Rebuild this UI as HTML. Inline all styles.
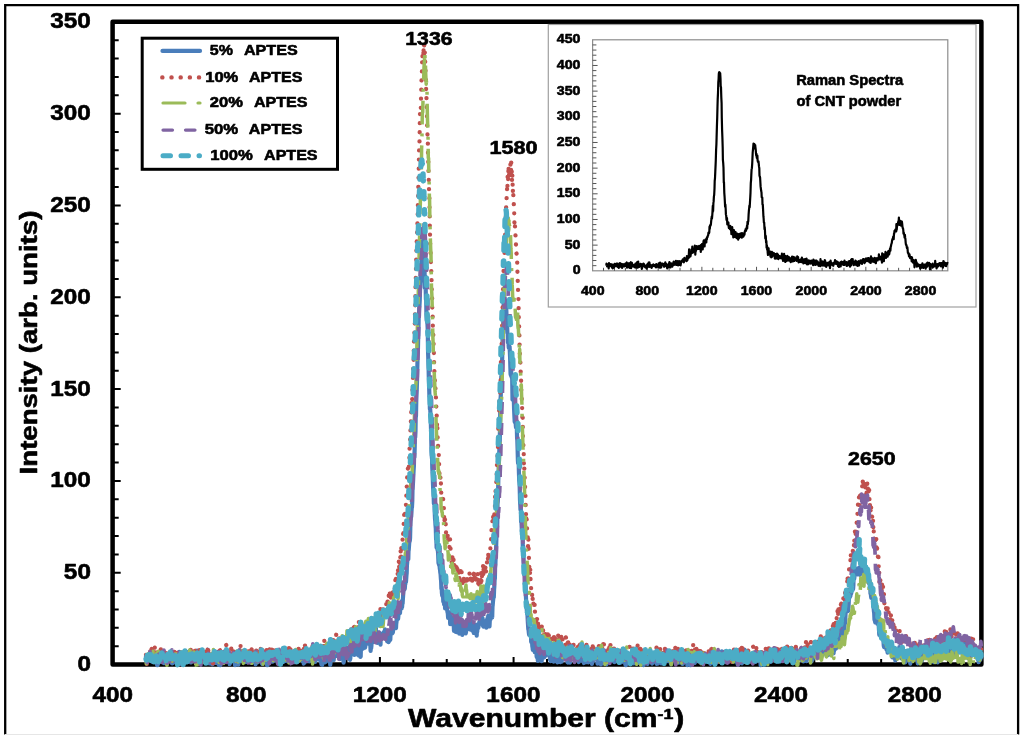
<!DOCTYPE html><html><head><meta charset="utf-8"><style>html,body{margin:0;padding:0;background:#fff;width:1024px;height:739px;overflow:hidden}svg{display:block;filter:blur(0.6px)}text{font-family:"Liberation Sans",sans-serif;fill:#000;stroke:#000;stroke-width:0.6px;stroke-linejoin:round}</style></head><body>
<svg width="1024" height="739" viewBox="0 0 1024 739">
<rect width="1024" height="739" fill="#fff"/>
<path d="M5.2 734.5V5.2H1018.1V734.5" fill="none" stroke="#000" stroke-width="2.3"/>
<line x1="5" y1="734.5" x2="1018" y2="734.5" stroke="#e6e6e6" stroke-width="1"/>
<rect x="112.6" y="21.8" width="868.8" height="642.8" fill="none" stroke="#000" stroke-width="4.5" stroke-linejoin="round"/>
<path d="M112.6 646.23H118.7M112.6 627.87H118.7M112.6 609.50H118.7M112.6 591.14H118.7M112.6 572.77H120.7M112.6 554.41H118.7M112.6 536.04H118.7M112.6 517.67H118.7M112.6 499.31H118.7M112.6 480.94H120.7M112.6 462.58H118.7M112.6 444.21H118.7M112.6 425.85H118.7M112.6 407.48H118.7M112.6 389.11H120.7M112.6 370.75H118.7M112.6 352.38H118.7M112.6 334.02H118.7M112.6 315.65H118.7M112.6 297.29H120.7M112.6 278.92H118.7M112.6 260.55H118.7M112.6 242.19H118.7M112.6 223.82H118.7M112.6 205.46H120.7M112.6 187.09H118.7M112.6 168.73H118.7M112.6 150.36H118.7M112.6 131.99H118.7M112.6 113.63H120.7M112.6 95.26H118.7M112.6 76.90H118.7M112.6 58.53H118.7M112.6 40.17H118.7M146.02 664.6V659.0M179.43 664.6V659.0M212.85 664.6V659.0M246.26 664.6V657.0M279.68 664.6V659.0M313.09 664.6V659.0M346.51 664.6V659.0M379.92 664.6V657.0M413.34 664.6V659.0M446.75 664.6V659.0M480.17 664.6V659.0M513.58 664.6V657.0M547.00 664.6V659.0M580.42 664.6V659.0M613.83 664.6V659.0M647.25 664.6V657.0M680.66 664.6V659.0M714.08 664.6V659.0M747.49 664.6V659.0M780.91 664.6V657.0M814.32 664.6V659.0M847.74 664.6V659.0M881.15 664.6V659.0M914.57 664.6V657.0M947.98 664.6V659.0" stroke="#000" stroke-width="2.0" fill="none"/>
<g fill="none" stroke-linejoin="round">
<path d="M146.0 656.3 l 0.3 0.9 0.3 -0.4 0.2 2.8 0.3 -4 0.3 1.8 0.2 -1.2 0.3 -0.6 0.3 -0.5 0.2 0.2 0.3 1.1 0.3 2.1 0.2 0.3 0.3 -2.2 0.3 1.1 0.2 -2.2 0.3 1.5 0.3 1.5 0.2 1.6 0.3 -1.7 0.3 0.6 0.2 -1.6 0.3 -2.2 0.3 1.4 0.2 5.2 0.3 -0.7 0.3 -1.2 0.2 2.1 0.3 -1.4 0.3 -1 0.2 -4.5 0.3 3.2 0.3 -2.1 0.2 -3.3 0.3 2.9 0.3 -0.5 0.2 1.5 0.3 0.7 0.3 -2.4 0.2 4 0.3 2.5 0.3 2 0.2 1.6 0.3 0 0.3 -1.3 0.2 0.1 0.3 -1.2 0.3 -2.9 0.2 -2 0.3 -1.2 0.3 2 0.2 2.9 0.3 -0.3 0.3 0.2 0.3 -0.8 0.2 0.5 0.3 -3.2 0.3 0.5 0.2 2.4 0.3 -3.8 0.3 0 0.2 -1 0.3 2.5 0.3 1.6 0.2 0.3 0.3 2.1 0.3 -2.9 0.2 0.5 0.3 3 0.3 -6.3 0.2 -1.9 0.3 3.9 0.3 1.1 0.2 -3.2 0.3 2 0.3 -0.9 0.2 1.1 0.3 0.3 0.3 -3.3 0.2 0.3 0.3 -1.8 0.3 0.8 0.2 1.2 0.3 0.2 0.3 -1.1 0.2 0 0.3 3.2 0.3 -1.8 0.2 -1.2 0.3 -0.2 0.3 -0.2 0.2 -0.8 0.3 4.6 0.3 1.6 0.2 -3.3 0.3 5.2 0.3 -1.1 0.2 -1.6 0.3 3.3 0.3 -2.2 0.2 2.1 0.3 -2.7 0.3 2 0.2 -2.8 0.3 -1.1 0.3 1.1 0.3 1.3 0.2 -0.3 0.3 -6.2 0.3 3.8 0.2 0.2 0.3 -1.7 0.3 1.8 0.2 -1.1 0.3 0.3 0.3 -0.2 0.2 3.7 0.3 -2.7 0.3 3.4 0.2 -2.1 0.3 -0.6 0.3 2.1 0.2 0.9 0.3 -5.6 0.3 -4.8 0.2 5.7 0.3 2.8 0.3 0.2 0.2 2.5 0.3 0.6 0.3 -0.7 0.2 -2.8 0.3 -1.9 0.3 -0.1 0.2 1.4 0.3 -1 0.3 -1.6 0.2 2.6 0.3 -0.3 0.3 1.9 0.2 2.5 0.3 -3.1 0.3 1.8 0.2 -2 0.3 -3 0.3 2.3 0.2 0 0.3 -0.1 0.3 -0.9 0.2 3.3 0.3 -5.3 0.3 1.9 0.2 -4.1 0.3 -0.2 0.3 0.2 0.3 -2.3 0.2 4.9 0.3 1.2 0.3 3.4 0.2 -4.7 0.3 -1.2 0.3 2.1 0.2 -0.3 0.3 -1.6 0.3 2.9 0.2 -0.2 0.3 -1.9 0.3 4.9 0.2 0.7 0.3 -2.7 0.3 1.1 0.2 -3.9 0.3 0.3 0.3 1.8 0.2 0.4 0.3 -4.5 0.3 4.8 0.2 0.2 0.3 -4.7 0.3 1.9 0.2 1.7 0.3 0.7 0.3 1 0.2 -3.8 0.3 0.9 0.3 2.8 0.2 -0.3 0.3 -1.8 0.3 2.2 0.2 -5.5 0.3 0.1 0.3 -4.4 0.2 1 0.3 7.3 0.3 0.6 0.2 2.4 0.3 -1.8 0.3 2.9 0.2 -2 0.3 1.9 0.3 -5.4 0.2 -2.3 0.3 4.1 0.3 -3.3 0.2 1.7 0.3 -0.7 0.3 3.7 0.3 -6.5 0.2 5.9 0.3 -1.5 0.3 -1.6 0.2 0.2 0.3 2.1 0.3 -0.9 0.2 -1.3 0.3 2.9 0.3 -1.1 0.2 -2.1 0.3 -0.2 0.3 -1.2 0.2 0.2 0.3 -0.8 0.3 0.7 0.2 1.7 0.3 -0.8 0.3 -2.2 0.2 -1.4 0.3 -1 0.3 -0.5 0.2 0.2 0.3 -0.6 0.3 -1.3 0.2 0.9 0.3 4.3 0.3 -1.3 0.2 3.9 0.3 6 0.3 -3.8 0.2 2.2 0.3 -1 0.3 -2.2 0.2 0.3 0.3 -1.4 0.3 2 0.2 -4.1 0.3 2.6 0.3 2.7 0.2 -1.5 0.3 5.1 0.3 -1.4 0.2 -1.7 0.3 -0 0.3 0.9 0.2 0.1 0.3 -2.5 0.3 2.8 0.3 0.3 0.2 -3.3 0.3 0 0.3 1.6 0.2 1.3 0.3 -3.3 0.3 3.7 0.2 -2.7 0.3 -1.8 0.3 2.6 0.2 -2.3 0.3 -1.3 0.3 1.2 0.2 2.3 0.3 -0.9 0.3 -0.7 0.2 5.7 0.3 -11.7 0.3 5.1 0.2 2.5 0.3 -1.9 0.3 4.7 0.2 1.5 0.3 -2.2 0.3 -3.8 0.2 0.7 0.3 -2.1 0.3 -1.7 0.2 3.9 0.3 -0.7 0.3 0.7 0.2 -0.7 0.3 1.3 0.3 -2.9 0.2 1.9 0.3 -3.2 0.3 2.9 0.2 -1.1 0.3 0.2 0.3 -2.6 0.2 -1.3 0.3 -2 0.3 -0 0.2 3.2 0.3 1.5 0.3 2.6 0.2 1.5 0.3 -3.2 0.3 -0.9 0.2 2.4 0.3 -0.4 0.3 -1.2 0.3 1.9 0.2 -0.9 0.3 1.9 0.3 -5.4 0.2 5.3 0.3 3.4 0.3 -3.6 0.2 -2.1 0.3 2.3 0.3 -1.5 0.2 0.5 0.3 -4.6 0.3 2.4 0.2 2 0.3 -1.6 0.3 -2.1 0.2 1.8 0.3 1.9 0.3 -1.5 0.2 -0.4 0.3 1.3 0.3 -0.1 0.2 0.6 0.3 1.6 0.3 1.3 0.2 2.8 0.3 -4.4 0.3 -0.8 0.2 -1 0.3 -3.3 0.3 6.4 0.2 -4.9 0.3 2 0.3 -1.4 0.2 4.5 0.3 -0.8 0.3 1.9 0.2 1.3 0.3 -1.3 0.3 -1.4 0.2 -3 0.3 -4.9 0.3 0.4 0.2 4.2 0.3 -2.3 0.3 2 0.2 -1.6 0.3 1.6 0.3 -0.3 0.2 1.9 0.3 -2.3 0.3 3.4 0.3 -1.6 0.2 -3.8 0.3 3.2 0.3 -0.3 0.2 -4.5 0.3 -1 0.3 1.3 0.2 1.8 0.3 -2.5 0.3 2.6 0.2 -1.9 0.3 6.9 0.3 0.4 0.2 -5.9 0.3 6.4 0.3 -1.7 0.2 -3.1 0.3 0.5 0.3 2.8 0.2 -2.9 0.3 1.6 0.3 -2.5 0.2 1.3 0.3 1.2 0.3 2.4 0.2 -0.5 0.3 0 0.3 -4.4 0.2 1.2 0.3 3.8 0.3 -3.1 0.2 -0.5 0.3 2.1 0.3 0.3 0.2 0.8 0.3 1.3 0.3 -3.4 0.2 -1 0.3 1.6 0.3 -5.9 0.2 3.3 0.3 1.5 0.3 0.4 0.2 -6.6 0.3 5.7 0.3 -2.9 0.2 -3.5 0.3 2.3 0.3 1.9 0.3 5.2 0.2 2.9 0.3 -3.1 0.3 1.7 0.2 -2.6 0.3 0.5 0.3 -1.8 0.2 -1.1 0.3 4.5 0.3 -4.8 0.2 3.1 0.3 -2 0.3 0.6 0.2 0 0.3 -1.5 0.3 -2.5 0.2 2.4 0.3 -4.2 0.3 2.9 0.2 -0.4 0.3 2.8 0.3 -2.3 0.2 5 0.3 -4 0.3 5.2 0.2 0.8 0.3 0.4 0.3 -3 0.2 0.4 0.3 0.5 0.3 -0.4 0.2 -0.6 0.3 1.4 0.3 -2 0.2 -1 0.3 -1.1 0.3 0.1 0.2 0.9 0.3 -0.6 0.3 -1 0.2 -1.4 0.3 4.2 0.3 2 0.2 0.5 0.3 2.4 0.3 0 0.2 -0.7 0.3 -1.7 0.3 -4.2 0.2 0.1 0.3 -4.7 0.3 -1.5 0.3 3.1 0.2 -2.1 0.3 1.2 0.3 3.3 0.2 -1 0.3 2.1 0.3 0.6 0.2 1.7 0.3 -0.7 0.3 -1.6 0.2 2.6 0.3 -2.1 0.3 2.1 0.2 -5.3 0.3 0.8 0.3 -0.3 0.2 -1.5 0.3 0.4 0.3 4 0.2 0.9 0.3 -4 0.3 0 0.2 0.3 0.3 -1.5 0.3 2.6 0.2 0.4 0.3 0.3 0.3 0.5 0.2 0 0.3 0.3 0.3 -2.4 0.2 -3.9 0.3 3.1 0.3 -0.3 0.2 0.7 0.3 -1.9 0.3 7.9 0.2 -5.5 0.3 0.5 0.3 3.4 0.2 -5 0.3 5.8 0.3 1.7 0.2 -0.2 0.3 -6.1 0.3 3.3 0.2 -5.1 0.3 -0.4 0.3 -0.3 0.3 4.6 0.2 -1.8 0.3 -2.9 0.3 5.6 0.2 1.3 0.3 -0.8 0.3 -2.4 0.2 -3.1 0.3 -1.6 0.3 2.6 0.2 -4.6 0.3 1.4 0.3 7.7 0.2 -7.5 0.3 -3.1 0.3 4.5 0.2 -0.9 0.3 -2.9 0.3 5.7 0.2 3.4 0.3 0.8 0.3 -1.2 0.2 1.8 0.3 -2.7 0.3 -0.3 0.2 2 0.3 -3.2 0.3 -5.5 0.2 3 0.3 0.5 0.3 2.2 0.2 -1.5 0.3 5.5 0.3 -5.5 0.2 -1 0.3 0.6 0.3 2.4 0.2 1.4 0.3 -1.9 0.3 1.9 0.2 0.8 0.3 -3.4 0.3 1.5 0.2 3.8 0.3 -5.8 0.3 -1.8 0.2 3.4 0.3 0.1 0.3 2.2 0.2 -2.1 0.3 1.6 0.3 -3.9 0.3 -0.2 0.2 -1.5 0.3 3.9 0.3 -0.5 0.2 -0.1 0.3 -3.1 0.3 3.4 0.2 3.4 0.3 -3.1 0.3 -2.5 0.2 1.7 0.3 -3.2 0.3 1.1 0.2 2.6 0.3 1 0.3 -0.9 0.2 0.9 0.3 0.1 0.3 -0.8 0.2 -0.8 0.3 -1 0.3 2.2 0.2 -0.2 0.3 -2.7 0.3 3.2 0.2 2.8 0.3 -3.4 0.3 -1 0.2 6.5 0.3 -2.5 0.3 0.5 0.2 1.1 0.3 -2 0.3 -2 0.2 0.4 0.3 -5.8 0.3 2.2 0.2 2.7 0.3 1.6 0.3 -3.2 0.2 0.7 0.3 2.8 0.3 0.9 0.2 -7.1 0.3 3.1 0.3 -1.7 0.2 2.4 0.3 -0.8 0.3 -3.1 0.2 7.7 0.3 -2.3 0.3 1.8 0.3 -2.7 0.2 -0.6 0.3 -0.3 0.3 -1.3 0.2 -0.7 0.3 1.4 0.3 -3.6 0.2 1.4 0.3 3 0.3 0.6 0.2 -0.2 0.3 -1.2 0.3 0.6 0.2 -7.6 0.3 2.1 0.3 3.4 0.2 0.9 0.3 -0.8 0.3 6.6 0.2 -2.2 0.3 -2.9 0.3 3.6 0.2 -1.5 0.3 0.5 0.3 -3 0.2 1 0.3 -2.5 0.3 -1.3 0.2 0.3 0.3 -3.2 0.3 2.6 0.2 1.8 0.3 2 0.3 1.4 0.2 0.5 0.3 -3.6 0.3 3.1 0.2 1 0.3 1.4 0.3 -2.3 0.2 2.2 0.3 0.6 0.3 2.9 0.2 -3.1 0.3 0.3 0.3 3.3 0.2 -6.6 0.3 2.1 0.3 -3.1 0.3 -0.4 0.2 5.2 0.3 -1 0.3 -3.4 0.2 2.5 0.3 -2.1 0.3 2.5 0.2 1.8 0.3 -5 0.3 1.7 0.2 2.6 0.3 -7.1 0.3 -0.7 0.2 1.7 0.3 -2.4 0.3 4.2 0.2 -0.9 0.3 3.6 0.3 -2.9 0.2 2.1 0.3 -6 0.3 1.4 0.2 -1.9 0.3 2.7 0.3 2.1 0.2 -2.2 0.3 9.5 0.3 -2.1 0.2 -2 0.3 -0.7 0.3 -2.9 0.2 -1.7 0.3 -2.8 0.3 0.8 0.2 -1.6 0.3 2.6 0.3 -1.3 0.2 1.4 0.3 -2 0.3 7.4 0.2 -3 0.3 -4.4 0.3 -2.6 0.2 4.9 0.3 -2.1 0.3 1.9 0.2 -7.4 0.3 5.6 0.3 -6.3 0.2 3.1 0.3 1.1 0.3 3.9 0.3 -0.6 0.2 1.8 0.3 -2.9 0.3 1.9 0.2 -1.7 0.3 -0.9 0.3 -0.8 0.2 5 0.3 -1.7 0.3 0.6 0.2 2.7 0.3 0.9 0.3 -2.1 0.2 -1.9 0.3 3.6 0.3 -2 0.2 -0.5 0.3 1.5 0.3 -1.5 0.2 0.6 0.3 -3.7 0.3 3.4 0.2 3 0.3 -1.6 0.3 4.8 0.2 -2.5 0.3 -0.7 0.3 -2.5 0.2 -1.5 0.3 -6.8 0.3 1.7 0.2 -0.1 0.3 0.2 0.3 4.3 0.2 0.5 0.3 -1.3 0.3 -3 0.2 -0.5 0.3 1.7 0.3 -0.5 0.2 1 0.3 -2.8 0.3 2.6 0.2 -5.1 0.3 2.3 0.3 1.5 0.2 2.3 0.3 2.3 0.3 4.1 0.3 -1.2 0.2 -4.9 0.3 -0.3 0.3 -7.1 0.2 3.7 0.3 0.4 0.3 -3.1 0.2 0.9 0.3 3.2 0.3 1.8 0.2 -3 0.3 3 0.3 -4.9 0.2 5.3 0.3 -3.5 0.3 4.7 0.2 -4.8 0.3 -1.1 0.3 4.1 0.2 -3.7 0.3 3.1 0.3 0.9 0.2 1.1 0.3 -5.7 0.3 1.6 0.2 -4.2 0.3 4.9 0.3 -3.2 0.2 -1.1 0.3 1 0.3 1.2 0.2 4.1 0.3 2.4 0.3 -0.6 0.2 -9.1 0.3 1.8 0.3 4.2 0.2 -0.5 0.3 5.7 0.3 -0.5 0.2 -8.4 0.3 -2.6 0.3 -4.8 0.2 1.2 0.3 -2.1 0.3 -0.4 0.2 7 0.3 0 0.3 2.4 0.2 -2.6 0.3 -1.5 0.3 -0.3 0.3 2.3 0.2 -1.6 0.3 1.2 0.3 1.5 0.2 -0.8 0.3 -2.5 0.3 -0.1 0.2 -2.5 0.3 -2.6 0.3 0.8 0.2 -2.5 0.3 -0.8 0.3 3.2 0.2 -1.3 0.3 1 0.3 4 0.2 -2 0.3 -5.6 0.3 2.1 0.2 3.2 0.3 -2.4 0.3 0.5 0.2 4.4 0.3 0.7 0.3 6.4 0.2 -7 0.3 4.7 0.3 -2.7 0.2 -3 0.3 -4.1 0.3 1.8 0.2 1.8 0.3 -5.7 0.3 5.2 0.2 -4.8 0.3 0.1 0.3 -0.7 0.2 -1.9 0.3 1.1 0.3 2.3 0.2 -1 0.3 0.2 0.3 -1.2 0.2 5.4 0.3 -13.1 0.3 5.6 0.2 0.7 0.3 2.1 0.3 1.2 0.2 0.9 0.3 4 0.3 -2.5 0.3 0.6 0.2 -5.5 0.3 -1.1 0.3 2.3 0.2 -4.2 0.3 2.7 0.3 -0.1 0.2 4.1 0.3 1 0.3 4.6 0.2 -5.8 0.3 -4.1 0.3 4.6 0.2 -1.7 0.3 -2.4 0.3 1.2 0.2 0.7 0.3 -2.6 0.3 -1.4 0.2 1 0.3 3.7 0.3 -5.7 0.2 3.3 0.3 2.4 0.3 -3.3 0.2 -0.7 0.3 -4.5 0.3 3.3 0.2 -0.7 0.3 5.5 0.3 -3.2 0.2 2.3 0.3 0.2 0.3 0.1 0.2 4.3 0.3 -4.7 0.3 -1 0.2 6.3 0.3 -3.3 0.3 3.7 0.2 -3.9 0.3 -1.3 0.3 3.9 0.2 -7.2 0.3 4.7 0.3 1.5 0.2 -0.2 0.3 -6.6 0.3 0.3 0.3 -3.9 0.2 1.9 0.3 -7.5 0.3 5.5 0.2 3.9 0.3 -5.5 0.3 4.8 0.2 -1.2 0.3 -5.7 0.3 1.3 0.2 -2.2 0.3 0.9 0.3 0.5 0.2 -2.4 0.3 0.8 0.3 0.7 0.2 1.8 0.3 -0.7 0.3 1.7 0.2 -3.8 0.3 -2.3 0.3 -5.7 0.2 3.8 0.3 -3.3 0.3 -1.3 0.2 2.3 0.3 0.9 0.3 -3.1 0.2 -2.8 0.3 -0.8 0.3 -0.3 0.2 -3.8 0.3 3.4 0.3 1.8 0.2 -3.5 0.3 -2.6 0.3 1.7 0.2 -4.7 0.3 0.1 0.3 4.3 0.2 -7.3 0.3 6 0.3 -6.6 0.2 3.2 0.3 -4.9 0.3 -4.3 0.2 -3.2 0.3 -1.5 0.3 -0.2 0.2 -2.1 0.3 1.9 0.3 -0.9 0.3 -4.1 0.2 -0.4 0.3 -4.4 0.3 2.7 0.2 -2 0.3 -4.3 0.3 -3 0.2 -7.1 0.3 -3.6 0.3 -6.4 0.2 4.1 0.3 -1.3 0.3 0.5 0.2 -7.6 0.3 -2.4 0.3 -4.7 0.2 -2.8 0.3 -0.1 0.3 -1.6 0.2 -2.5 0.3 -13.6 0.3 -5.6 0.2 -1 0.3 -0.7 0.3 -5 0.2 -3.4 0.3 -1.2 0.3 -6 0.2 -10.7 0.3 -4.4 0.3 -5 0.2 -5.1 0.3 -5.2 0.3 -4.4 0.2 -10.9 0.3 2.1 0.3 -9.3 0.2 -10.6 0.3 0 0.3 -6.4 0.2 -13.5 0.3 -1.7 0.3 -16.1 0.2 -4.5 0.3 -7.3 0.3 -9.5 0.2 -8.8 0.3 -13.4 0.3 -4.5 0.3 -15.1 0.2 -1.4 0.3 -19.9 0.3 0.7 0.2 -7.2 0.3 -3.6 0.3 -6.1 0.2 -8 0.3 -6.3 0.3 -9.8 0.2 -4.6 0.3 -6.6 0.3 0.8 0.2 -5.2 0.3 -12.7 0.3 0.5 0.2 -0.4 0.3 -3.7 0.3 -2.9 0.2 13.8 0.3 2.1 0.3 3 0.2 6.1 0.3 16.1 0.3 -9 0.2 15.6 0.3 -12.4 0.3 6.1 0.2 1 0.3 16.8 0.3 -1.7 0.2 16.4 0.3 5.6 0.3 1.4 0.2 0.7 0.3 2.7 0.3 6.7 0.2 18.7 0.3 9.1 0.3 8.8 0.2 10.2 0.3 6.3 0.3 12 0.2 0.3 0.3 12.4 0.3 0 0.2 3.1 0.3 4.9 0.3 12.1 0.2 6.7 0.3 15 0.3 5.7 0.3 2.9 0.2 8.9 0.3 5.3 0.3 8.2 0.2 5.1 0.3 4.6 0.3 5.5 0.2 6.5 0.3 -2.4 0.3 4.2 0.2 5.4 0.3 7.8 0.3 2.7 0.2 3.8 0.3 3.5 0.3 11 0.2 -2.6 0.3 10.7 0.3 -0.3 0.2 -2.8 0.3 2.4 0.3 3.7 0.2 0 0.3 4.7 0.3 7.6 0.2 0.5 0.3 1.1 0.3 0.8 0.2 -0.7 0.3 3.9 0.3 1.6 0.2 2.3 0.3 1.8 0.3 4.8 0.2 1.3 0.3 8.5 0.3 -2.2 0.2 6.1 0.3 2.8 0.3 -0.5 0.2 -4.4 0.3 4.3 0.3 6.6 0.2 -4.2 0.3 1.3 0.3 5.8 0.2 -1.3 0.3 -1.1 0.3 0.6 0.2 5.8 0.3 -1.1 0.3 -1.6 0.3 -1.1 0.2 0.4 0.3 3.4 0.3 -5.5 0.2 4.8 0.3 3.1 0.3 1.7 0.2 0.6 0.3 4.6 0.3 -2.5 0.2 -0.7 0.3 -0.5 0.3 -1.7 0.2 2.1 0.3 -1.1 0.3 5.2 0.2 5.5 0.3 -4.9 0.3 0.4 0.2 1.3 0.3 -3.8 0.3 0.8 0.2 1.5 0.3 0.8 0.3 -0.5 0.2 0.5 0.3 -1.4 0.3 5.8 0.2 0.8 0.3 -1.4 0.3 6.9 0.2 -2.6 0.3 -8.7 0.3 8.5 0.2 -2.5 0.3 -0.1 0.3 0.8 0.2 5.6 0.3 -2 0.3 -3.2 0.2 5.5 0.3 -2.7 0.3 -2.7 0.2 -3.6 0.3 4.3 0.3 -5.2 0.2 0.3 0.3 3.9 0.3 2.1 0.3 -4.9 0.2 9.9 0.3 -2 0.3 -2.5 0.2 1.6 0.3 1 0.3 -4.8 0.2 0.2 0.3 -2.9 0.3 -4.4 0.2 11 0.3 -5.8 0.3 10 0.2 -6.9 0.3 2.1 0.3 -5.5 0.2 4 0.3 0.4 0.3 -2.7 0.2 -1.5 0.3 -3 0.3 2.1 0.2 -1.2 0.3 1.8 0.3 2.9 0.2 5.9 0.3 -1.1 0.3 -3.7 0.2 -4.5 0.3 2.2 0.3 -4.6 0.2 -0.7 0.3 1.7 0.3 -0.4 0.2 -1.4 0.3 3.4 0.3 3.4 0.2 -0.5 0.3 1.3 0.3 0 0.2 0.8 0.3 -5 0.3 0.7 0.2 1.3 0.3 -2.8 0.3 -1.5 0.2 -1.1 0.3 7.6 0.3 1.7 0.2 0.2 0.3 -2.6 0.3 1.7 0.3 -2.6 0.2 -0.4 0.3 4.1 0.3 2.4 0.2 -3.2 0.3 0.6 0.3 -5.3 0.2 0.4 0.3 4.3 0.3 -5 0.2 5.7 0.3 1.3 0.3 -0.8 0.2 -0.2 0.3 4.8 0.3 -7.3 0.2 3.7 0.3 -5.2 0.3 -2.5 0.2 0.4 0.3 3.2 0.3 -1.9 0.2 -0.7 0.3 -1.6 0.3 -2 0.2 -0.5 0.3 2.3 0.3 -3.2 0.2 1.7 0.3 -2 0.3 -0.2 0.2 2.9 0.3 -3.7 0.3 -2.4 0.2 3.1 0.3 -0.5 0.3 -1 0.2 4.6 0.3 3.3 0.3 0.4 0.2 -1.5 0.3 -3.3 0.3 -0.3 0.2 1 0.3 -0.8 0.3 0.9 0.2 -1.1 0.3 4.2 0.3 0.3 0.3 -0.8 0.2 2.6 0.3 -7.4 0.3 5.1 0.2 -3.5 0.3 -3.5 0.3 0.1 0.2 2.5 0.3 -5.1 0.3 3.1 0.2 4.1 0.3 -4.2 0.3 4.5 0.2 3.1 0.3 -6.1 0.3 -1.9 0.2 -2.3 0.3 3 0.3 -2.5 0.2 0.9 0.3 -8 0.3 5.4 0.2 -2.6 0.3 5 0.3 -10.8 0.2 -1.4 0.3 -3.7 0.3 -2.9 0.2 -2.4 0.3 1.1 0.3 -7.7 0.2 -2.6 0.3 -6.8 0.3 -2.1 0.2 -10.8 0.3 -2.7 0.3 -10.1 0.2 0.3 0.3 -9.2 0.3 -10.4 0.2 -1.6 0.3 -5.8 0.3 -4.4 0.2 -18.8 0.3 -3.2 0.3 -8.8 0.2 -11.6 0.3 -9.4 0.3 -10.3 0.2 -5.2 0.3 -7.4 0.3 -4 0.3 -16.7 0.2 -13.8 0.3 -14.1 0.3 -4.8 0.2 -9.8 0.3 -9.1 0.3 -0.2 0.2 -14.5 0.3 0.3 0.3 -11.5 0.2 -11.5 0.3 -3.7 0.3 -12.5 0.2 -13.3 0.3 -5.6 0.3 -2.1 0.2 -8.7 0.3 7.6 0.3 1.6 0.2 -2.8 0.3 2.9 0.3 1.6 0.2 4.3 0.3 -4.4 0.3 8.7 0.2 4.2 0.3 8.6 0.3 2.4 0.2 5.1 0.3 0.7 0.3 9 0.2 -7.5 0.3 8.3 0.3 4.5 0.2 -2.4 0.3 1.2 0.3 -0.1 0.2 4.1 0.3 6.9 0.3 10.6 0.2 5.9 0.3 1.3 0.3 -4.2 0.2 5.1 0.3 0.6 0.3 1.2 0.2 -0.5 0.3 22 0.3 -6.6 0.2 5.4 0.3 -1.6 0.3 0.9 0.3 4.5 0.2 7 0.3 6.6 0.3 6.2 0.2 -7.9 0.3 5.6 0.3 3.4 0.2 0.6 0.3 3.5 0.3 -0.1 0.2 -4.1 0.3 3.6 0.3 12.3 0.2 0.3 0.3 9.5 0.3 11.7 0.2 2.8 0.3 0.5 0.3 -0.3 0.2 8.3 0.3 8.5 0.3 2.9 0.2 4.2 0.3 12.9 0.3 5.3 0.2 4.5 0.3 -2.6 0.3 14.6 0.2 -3.2 0.3 6.3 0.3 6.2 0.2 0.7 0.3 -5.1 0.3 15.1 0.2 9.7 0.3 -5.4 0.3 10.7 0.2 6.4 0.3 3.7 0.3 -0.2 0.2 4.5 0.3 3.8 0.3 -0.5 0.2 1.4 0.3 11.4 0.3 8.5 0.2 4.2 0.3 4.3 0.3 4.3 0.3 3.9 0.2 1.1 0.3 1.6 0.3 5.9 0.2 3.1 0.3 4.7 0.3 1 0.2 2.3 0.3 2.3 0.3 -4.6 0.2 2.7 0.3 -3.6 0.3 4.3 0.2 -1 0.3 1.2 0.3 2.1 0.2 6.2 0.3 -3.9 0.3 -0.3 0.2 2.3 0.3 6.1 0.3 1.6 0.2 2.1 0.3 -3.6 0.3 -2.1 0.2 1.8 0.3 0.9 0.3 -0.3 0.2 -1.1 0.3 6.7 0.3 -5.7 0.2 -3.8 0.3 2.4 0.3 3.2 0.2 2.1 0.3 -1.1 0.3 6.7 0.2 1.1 0.3 -2.1 0.3 2.9 0.2 -0.8 0.3 3.7 0.3 -5.4 0.2 -3 0.3 -1.2 0.3 -0.2 0.2 -2.4 0.3 6 0.3 0.8 0.2 -0.6 0.3 0.4 0.3 0.6 0.3 0.1 0.2 -0.4 0.3 3.8 0.3 1.9 0.2 -5 0.3 -0.9 0.3 1.7 0.2 -3.2 0.3 -0.8 0.3 -1.7 0.2 0.2 0.3 3.5 0.3 2.5 0.2 -2.3 0.3 0 0.3 -4.4 0.2 2.6 0.3 2.2 0.3 -1.1 0.2 1.1 0.3 -2.5 0.3 0.8 0.2 -2.2 0.3 0.2 0.3 -2.1 0.2 -1.4 0.3 1.6 0.3 -0.7 0.2 4 0.3 -2.6 0.3 -2.3 0.2 -2.7 0.3 6.6 0.3 0.7 0.2 5.7 0.3 1.2 0.3 -2.4 0.2 3.6 0.3 -1.2 0.3 -2.3 0.2 1.2 0.3 -1 0.3 -2.6 0.2 0.6 0.3 2.8 0.3 -0.1 0.2 2.3 0.3 -1.3 0.3 2.1 0.3 -4.8 0.2 2.4 0.3 1.2 0.3 -2.9 0.2 -2.1 0.3 4.4 0.3 -2.6 0.2 -6.6 0.3 1.8 0.3 5.4 0.2 -1.9 0.3 2.7 0.3 -1.2 0.2 5 0.3 -4.2 0.3 -2.7 0.2 4.8 0.3 -5.5 0.3 2.2 0.2 0.5 0.3 1.5 0.3 0.1 0.2 1.3 0.3 0.2 0.3 1.5 0.2 -2 0.3 -1.7 0.3 -0.8 0.2 0.6 0.3 3.4 0.3 -5.6 0.2 0 0.3 2.4 0.3 -2 0.2 -0.5 0.3 1.8 0.3 0.8 0.2 -2.1 0.3 -7.5 0.3 2.9 0.2 5 0.3 -2.3 0.3 -2 0.2 0 0.3 1.9 0.3 1.4 0.2 -3.7 0.3 1.6 0.3 5.4 0.2 -1.4 0.3 -0.4 0.3 5 0.3 0.3 0.2 -3.2 0.3 -1.6 0.3 -1.8 0.2 2.7 0.3 -0.4 0.3 0.6 0.2 1.1 0.3 2.6 0.3 -3 0.2 -3.8 0.3 4.2 0.3 -3.1 0.2 1.9 0.3 0 0.3 0 0.2 0.5 0.3 -7.4 0.3 0.7 0.2 2.6 0.3 0.5 0.3 -3.5 0.2 3.8 0.3 0.1 0.3 1.2 0.2 -1.1 0.3 0.4 0.3 2 0.2 1.6 0.3 -3.6 0.3 0.7 0.2 1.2 0.3 0.2 0.3 -1.7 0.2 0.3 0.3 0.8 0.3 0.1 0.2 -2.6 0.3 3.4 0.3 -2.4 0.2 2.2 0.3 3.3 0.3 -3.2 0.2 -1.4 0.3 -3 0.3 2 0.2 -1.9 0.3 4.5 0.3 -0.1 0.3 1.6 0.2 -4.6 0.3 -1.3 0.3 1.7 0.2 -6.8 0.3 3.3 0.3 1.2 0.2 1.8 0.3 -1.7 0.3 0.8 0.2 6.5 0.3 1.5 0.3 -1.8 0.2 1.1 0.3 -1.8 0.3 -3.8 0.2 -0.3 0.3 -0.6 0.3 5.4 0.2 -2.6 0.3 3.5 0.3 -2 0.2 -4.3 0.3 0.7 0.3 -2 0.2 2.3 0.3 1.5 0.3 2.1 0.2 1.9 0.3 -1.1 0.3 -0.2 0.2 -3.5 0.3 -0.1 0.3 -1.1 0.2 2.7 0.3 0.4 0.3 -2.7 0.2 0.2 0.3 1.3 0.3 -1 0.2 0 0.3 6.8 0.3 -2.1 0.2 0.6 0.3 -5.5 0.3 4.2 0.2 -3.9 0.3 -2.6 0.3 0.3 0.2 1.3 0.3 -1.5 0.3 -0.3 0.3 -0.5 0.2 -0.9 0.3 1.7 0.3 0.5 0.2 0.5 0.3 -2.8 0.3 5.1 0.2 -0.9 0.3 0.7 0.3 0.5 0.2 5.2 0.3 -3.2 0.3 -0.7 0.2 0.9 0.3 -2.2 0.3 2.3 0.2 -1.2 0.3 2.2 0.3 -0.3 0.2 -3.2 0.3 -2.2 0.3 5.2 0.2 3 0.3 0.2 0.3 -1.1 0.2 -4.3 0.3 -2.1 0.3 2.3 0.2 -3.7 0.3 -0.3 0.3 1.3 0.2 3.3 0.3 3.5 0.3 -2.9 0.2 1.5 0.3 -3.3 0.3 -1.4 0.2 3.3 0.3 -1 0.3 -0.5 0.2 -1.8 0.3 -0.2 0.3 1.5 0.2 3.6 0.3 2.2 0.3 -2.5 0.2 1.2 0.3 -1.9 0.3 -5.1 0.2 1 0.3 2 0.3 -0.4 0.3 -1.2 0.2 3.5 0.3 -2 0.3 0.1 0.2 1.7 0.3 0.7 0.3 -1.4 0.2 0 0.3 -2.9 0.3 1.4 0.2 -1.1 0.3 -0.8 0.3 1.5 0.2 -5.1 0.3 5.7 0.3 -1.5 0.2 2.4 0.3 -0.5 0.3 -0.2 0.2 0.9 0.3 2.3 0.3 0 0.2 -1.5 0.3 -0.7 0.3 -2.8 0.2 0.6 0.3 -1.3 0.3 -1.5 0.2 0.6 0.3 0.4 0.3 -2.2 0.2 -1.5 0.3 -0.7 0.3 3.6 0.2 5.5 0.3 -1.3 0.3 -1.8 0.2 4.7 0.3 -3 0.3 3.1 0.2 -3.8 0.3 4.4 0.3 -4.1 0.2 0.3 0.3 0.4 0.3 0.8 0.2 -2.9 0.3 4.2 0.3 0.6 0.3 -6.6 0.2 -1.6 0.3 3.4 0.3 -5.6 0.2 2.1 0.3 0.6 0.3 0.7 0.2 -3.8 0.3 2.9 0.3 3.2 0.2 0.5 0.3 2.7 0.3 0.8 0.2 2.9 0.3 -0.5 0.3 1.3 0.2 -2.8 0.3 -1.5 0.3 -2 0.2 -1.4 0.3 1 0.3 -2.4 0.2 2.8 0.3 0.9 0.3 0.5 0.2 -0.2 0.3 3.1 0.3 -2.8 0.2 1.6 0.3 -2 0.3 0.4 0.2 -3.1 0.3 -1.8 0.3 0.4 0.2 4.5 0.3 -3.1 0.3 0.5 0.2 1.1 0.3 3.9 0.3 -3.2 0.2 2 0.3 -2.9 0.3 -0.4 0.2 -2.4 0.3 3.9 0.3 3.7 0.2 -6.3 0.3 1.9 0.3 2.8 0.2 -2.9 0.3 -1.2 0.3 5 0.3 -1.8 0.2 1.2 0.3 -1.8 0.3 0.5 0.2 1.3 0.3 1 0.3 -2.2 0.2 1.2 0.3 -1.4 0.3 0.7 0.2 -2.7 0.3 1.5 0.3 -0.7 0.2 3.5 0.3 -3.8 0.3 1.4 0.2 -1.6 0.3 0.8 0.3 0.8 0.2 -1.3 0.3 2.4 0.3 -4.4 0.2 -0.4 0.3 2.9 0.3 -3.6 0.2 1.8 0.3 -2.6 0.3 4 0.2 1.5 0.3 4.2 0.3 -2.8 0.2 -1.6 0.3 1.1 0.3 0.5 0.2 -2.1 0.3 1.1 0.3 -3.7 0.2 1.1 0.3 -2.4 0.3 0.3 0.2 1.9 0.3 -0.5 0.3 5.6 0.2 -2.4 0.3 2.5 0.3 -7.1 0.2 -0.6 0.3 -1.3 0.3 0 0.3 2.5 0.2 -0.7 0.3 1.3 0.3 3.4 0.2 -2.3 0.3 -1.5 0.3 1 0.2 -1.6 0.3 0.9 0.3 3.9 0.2 0.5 0.3 0.5 0.3 0.8 0.2 -0.5 0.3 -7.1 0.3 -3.1 0.2 7.1 0.3 -5.2 0.3 -0.3 0.2 2.8 0.3 -0.9 0.3 -2.4 0.2 1.4 0.3 0.9 0.3 4.9 0.2 0 0.3 -1.7 0.3 2 0.2 1.5 0.3 0.9 0.3 -1.3 0.2 1 0.3 -3.4 0.3 3.6 0.2 -8.1 0.3 2.8 0.3 0.2 0.2 -3.8 0.3 4 0.3 -2.2 0.2 3.4 0.3 -1.5 0.3 0.7 0.2 -2.9 0.3 3.8 0.3 1 0.2 -0.2 0.3 2.5 0.3 -2.6 0.2 -1.2 0.3 0.1 0.3 -4 0.3 -0.5 0.2 5.4 0.3 -3.9 0.3 -1.7 0.2 1.6 0.3 3 0.3 -0.3 0.2 0.2 0.3 1.6 0.3 -2.6 0.2 0.3 0.3 0.3 0.3 0.7 0.2 -0.9 0.3 -4 0.3 3.8 0.2 -3 0.3 1.5 0.3 1.2 0.2 2.8 0.3 -3.3 0.3 3 0.2 -3.3 0.3 -1.5 0.3 2.4 0.2 -1.3 0.3 0 0.3 0.3 0.2 -0.6 0.3 2 0.3 4.4 0.2 0.8 0.3 -0.2 0.3 -3.7 0.2 -0.1 0.3 -6.3 0.3 3.3 0.2 0.6 0.3 1.6 0.3 -4.1 0.2 2.1 0.3 -3.1 0.3 0.9 0.2 -0.5 0.3 2.7 0.3 -4.6 0.2 0.6 0.3 0 0.3 1.7 0.2 1.9 0.3 3.1 0.3 -1.9 0.3 2.6 0.2 1.9 0.3 -0.7 0.3 -3.9 0.2 2.3 0.3 -4.5 0.3 -0.3 0.2 4 0.3 3.2 0.3 -3 0.2 -0.3 0.3 -1.6 0.3 -3.4 0.2 -0.5 0.3 -1 0.3 2.6 0.2 -0.3 0.3 4.8 0.3 -2.5 0.2 1.4 0.3 1.8 0.3 3.2 0.2 -0.9 0.3 0.8 0.3 -7.9 0.2 4.9 0.3 -3.5 0.3 -2.6 0.2 2.7 0.3 1 0.3 3.8 0.2 -1.6 0.3 -4.5 0.3 4.8 0.2 0.3 0.3 0 0.3 -0.3 0.2 1.5 0.3 -1.4 0.3 2.3 0.2 1.8 0.3 -3.3 0.3 -4.3 0.2 -1.5 0.3 -1 0.3 1.7 0.2 -1.3 0.3 3.7 0.3 0.2 0.3 2 0.2 -0.2 0.3 2.9 0.3 1.2 0.2 -5.4 0.3 4.9 0.3 -4.5 0.2 -1.1 0.3 -2.3 0.3 1.4 0.2 2.2 0.3 -2.6 0.3 0.6 0.2 0.3 0.3 -1.6 0.3 0.7 0.2 1.5 0.3 0.1 0.3 3.3 0.2 0.1 0.3 -3.5 0.3 -0.6 0.2 -3.1 0.3 0.5 0.3 2.3 0.2 -2.4 0.3 -1.3 0.3 4.1 0.2 -4.9 0.3 -1.4 0.3 1.5 0.2 -1.3 0.3 -0.2 0.3 2.7 0.2 1.1 0.3 2.9 0.3 -2.7 0.2 3.2 0.3 1.7 0.3 -2 0.2 -2 0.3 3.2 0.3 -1.4 0.2 -2.3 0.3 -0.9 0.3 2.4 0.2 -1.5 0.3 -3.2 0.3 2.2 0.2 -0.2 0.3 0.2 0.3 0.2 0.3 5.7 0.2 -5.5 0.3 6 0.3 -0.2 0.2 -0.5 0.3 -2.9 0.3 2.5 0.2 -0.1 0.3 -4.8 0.3 4.2 0.2 -1.6 0.3 -0.1 0.3 0 0.2 1.9 0.3 -1.6 0.3 -0.2 0.2 2.1 0.3 -2.2 0.3 0.5 0.2 -0.6 0.3 -0.3 0.3 2.1 0.2 -4.3 0.3 3.3 0.3 3 0.2 1.3 0.3 -7.4 0.3 5.6 0.2 -0.8 0.3 -1.1 0.3 0.6 0.2 0.2 0.3 -2.6 0.3 -6.7 0.2 0.7 0.3 -2.5 0.3 2.1 0.2 4.7 0.3 1.3 0.3 2.2 0.2 1.9 0.3 -3.6 0.3 -2.5 0.2 4 0.3 -2.5 0.3 -2.7 0.2 3.1 0.3 -3.9 0.3 1.8 0.3 2.2 0.2 -0.6 0.3 1.4 0.3 2.6 0.2 0.7 0.3 -2 0.3 -1.8 0.2 -1 0.3 3.3 0.3 -2.3 0.2 0.7 0.3 0.1 0.3 -1.8 0.2 -0.5 0.3 2.4 0.3 -4.7 0.2 -1 0.3 3.5 0.3 -3.7 0.2 -1.8 0.3 6.5 0.3 -5.2 0.2 0.8 0.3 -1.8 0.3 1.5 0.2 1.2 0.3 1.4 0.3 2.5 0.2 -1.2 0.3 -0.3 0.3 3.2 0.2 -2.7 0.3 2.1 0.3 0.6 0.2 -1.6 0.3 -2.3 0.3 1.9 0.2 -6 0.3 2.8 0.3 3.2 0.2 2.6 0.3 -0.3 0.3 -2.8 0.2 -0.3 0.3 2.7 0.3 -0.4 0.2 -3.7 0.3 -1 0.3 4.7 0.2 -5 0.3 0.7 0.3 2.3 0.3 1.2 0.2 0.8 0.3 -1.4 0.3 2.3 0.2 -5.3 0.3 0.5 0.3 1.9 0.2 4.3 0.3 -1 0.3 -1.5 0.2 1.6 0.3 -3.3 0.3 0 0.2 3 0.3 -4.3 0.3 -1.6 0.2 2.8 0.3 3.8 0.3 -4.7 0.2 0.6 0.3 0.4 0.3 2.7 0.2 -4.7 0.3 5.9 0.3 -1.6 0.2 -2.7 0.3 6.7 0.3 0.8 0.2 -2.3 0.3 -3.3 0.3 -0.9 0.2 1.2 0.3 -4.6 0.3 -0.1 0.2 -1.3 0.3 2.4 0.3 4.1 0.2 -2.2 0.3 1.7 0.3 -1.4 0.2 1.3 0.3 3.9 0.3 0.1 0.2 -3.8 0.3 -1.3 0.3 2.7 0.2 -4.2 0.3 -0.9 0.3 -1.9 0.2 -1.4 0.3 -2.1 0.3 -0.3 0.3 -0.4 0.2 6.8 0.3 2.8 0.3 -0.8 0.2 1.6 0.3 1.4 0.3 -3.2 0.2 -1.3 0.3 -1.7 0.3 -2.3 0.2 0.2 0.3 0.5 0.3 1.3 0.2 2.7 0.3 0.7 0.3 -2.7 0.2 -0.4 0.3 0.5 0.3 1.8 0.2 -2.8 0.3 2.1 0.3 1 0.2 1.6 0.3 -3.1 0.3 2.9 0.2 0 0.3 -0.9 0.3 -1.7 0.2 1.1 0.3 0.5 0.3 1.3 0.2 1.9 0.3 0.8 0.3 -4 0.2 -3.6 0.3 4.3 0.3 -5.3 0.2 2.4 0.3 -1.8 0.3 -1.5 0.2 7.1 0.3 2.1 0.3 -4.8 0.2 -1 0.3 2.3 0.3 -3.5 0.2 3.8 0.3 -3.4 0.3 1 0.3 0.9 0.2 0.6 0.3 -1.9 0.3 -0.5 0.2 2.7 0.3 -1.2 0.3 -0.4 0.2 0.5 0.3 -0.4 0.3 1.6 0.2 0.1 0.3 6.8 0.3 -0.7 0.2 -0.1 0.3 -2.8 0.3 -0.1 0.2 -3.5 0.3 -4.7 0.3 2.8 0.2 0.8 0.3 0.1 0.3 -0.3 0.2 3.1 0.3 0.5 0.3 -1.3 0.2 -0.2 0.3 -1.4 0.3 -0.2 0.2 -1.8 0.3 0.3 0.3 0.2 0.2 -1.9 0.3 5.5 0.3 -1 0.2 3.3 0.3 -6.1 0.3 3.1 0.2 -2.2 0.3 -5.6 0.3 0.7 0.2 2.6 0.3 -3 0.3 2 0.2 0.1 0.3 1.5 0.3 0.6 0.2 0 0.3 2.5 0.3 -0.2 0.2 4 0.3 -1.9 0.3 0.8 0.3 -1.5 0.2 -2.3 0.3 -1.8 0.3 -0.1 0.2 3.1 0.3 0.1 0.3 -0.2 0.2 -0.6 0.3 2.3 0.3 -1.7 0.2 1.4 0.3 -4.5 0.3 2.6 0.2 1.4 0.3 1.5 0.3 -0.4 0.2 0.5 0.3 -2.7 0.3 3.3 0.2 -4.3 0.3 2.7 0.3 -1 0.2 3.2 0.3 -1.7 0.3 -4.5 0.2 2.4 0.3 -1.5 0.3 -2.9 0.2 -0.1 0.3 0.3 0.3 2.2 0.2 -2.5 0.3 1.3 0.3 6.6 0.2 -5.6 0.3 4.2 0.3 -0.1 0.2 1.1 0.3 -3.3 0.3 1.4 0.2 -2.2 0.3 1.4 0.3 -4.9 0.2 4.5 0.3 -1.3 0.3 1.3 0.2 -0.1 0.3 1.7 0.3 -5.9 0.3 -1 0.2 0.5 0.3 -0.3 0.3 -0.4 0.2 2.2 0.3 0.9 0.3 -1.7 0.2 1.8 0.3 1.7 0.3 -0.9 0.2 -1.7 0.3 -1.8 0.3 -4.9 0.2 4.1 0.3 1 0.3 0.3 0.2 -1.7 0.3 3.7 0.3 2.9 0.2 -0.6 0.3 0 0.3 1.4 0.2 0.7 0.3 -4.9 0.3 1.6 0.2 -0.3 0.3 0.4 0.3 3.3 0.2 -1.4 0.3 0 0.3 1.4 0.2 -5.6 0.3 -3.4 0.3 5.5 0.2 3.2 0.3 -0.4 0.3 2.7 0.2 -0.2 0.3 -2.9 0.3 -5.6 0.2 1.1 0.3 1.7 0.3 -1.2 0.2 0.2 0.3 1.3 0.3 -0.5 0.2 -1.2 0.3 -1.3 0.3 0.9 0.2 0.2 0.3 -1.7 0.3 3.3 0.3 1.4 0.2 -0.7 0.3 -0.6 0.3 0.8 0.2 0.9 0.3 -4.6 0.3 2.7 0.2 -3.7 0.3 -1.2 0.3 4 0.2 0.4 0.3 4.7 0.3 -1.3 0.2 -0.4 0.3 1.1 0.3 -3.7 0.2 2.4 0.3 -3 0.3 6.3 0.2 -4.4 0.3 1.4 0.3 -5 0.2 -4 0.3 2.1 0.3 4.1 0.2 -1.5 0.3 2.5 0.3 -1.6 0.2 0.8 0.3 1.5 0.3 3.9 0.2 -1.8 0.3 -2.8 0.3 -0.7 0.2 -2.2 0.3 0.4 0.3 -0.1 0.2 -3.9 0.3 3.1 0.3 -1.9 0.2 5.3 0.3 -2.4 0.3 -2.7 0.2 -0.5 0.3 1.2 0.3 4.1 0.2 -3 0.3 5.3 0.3 2.9 0.2 -2.7 0.3 1.3 0.3 -4 0.3 1.5 0.2 1.8 0.3 -0.9 0.3 -1.7 0.2 -0.9 0.3 -1.9 0.3 -2.2 0.2 -3.1 0.3 2.5 0.3 -1.3 0.2 1.7 0.3 0.9 0.3 3.2 0.2 -2.7 0.3 0.2 0.3 -0.3 0.2 -3.4 0.3 1.6 0.3 1.2 0.2 -1.3 0.3 3 0.3 1 0.2 -3.9 0.3 2.2 0.3 -2.5 0.2 -5.3 0.3 1.9 0.3 4.2 0.2 -0.2 0.3 0.1 0.3 3 0.2 1.6 0.3 -3.7 0.3 1.5 0.2 2.7 0.3 -2.8 0.3 -5.3 0.2 2.8 0.3 -0.5 0.3 3.8 0.2 -1.9 0.3 -2.8 0.3 1.9 0.2 -2.6 0.3 1.6 0.3 -0.9 0.2 -1.6 0.3 2.4 0.3 0.6 0.3 -0.4 0.2 -1 0.3 1.4 0.3 -1.2 0.2 1.5 0.3 -0.5 0.3 -0.6 0.2 4.8 0.3 -4.3 0.3 2.8 0.2 -1.1 0.3 2.2 0.3 -3.7 0.2 -2.1 0.3 2.2 0.3 -1.2 0.2 2.5 0.3 -2.5 0.3 -0.4 0.2 -1.8 0.3 2.1 0.3 -4.2 0.2 -1.5 0.3 3.8 0.3 -1.3 0.2 -0.6 0.3 4.5 0.3 0.4 0.2 -0.4 0.3 0.3 0.3 2.5 0.2 -3.7 0.3 1.1 0.3 -4.4 0.2 -5.1 0.3 4 0.3 -0.9 0.2 -0.7 0.3 2.5 0.3 2.4 0.2 -2.4 0.3 1.3 0.3 -2.5 0.2 -6.9 0.3 0.4 0.3 -2.7 0.2 1.7 0.3 0.3 0.3 1.2 0.2 -1 0.3 -2.7 0.3 2.5 0.3 -0.6 0.2 0.3 0.3 -0.5 0.3 5.8 0.2 -6.6 0.3 0.1 0.3 -6.7 0.2 -0.8 0.3 -0.3 0.3 -0.3 0.2 1.2 0.3 1.9 0.3 2.4 0.2 -7.3 0.3 0.6 0.3 7.4 0.2 -5.1 0.3 -2.3 0.3 3.7 0.2 -5.6 0.3 -1.5 0.3 -0.8 0.2 -3.1 0.3 -7.4 0.3 -2.4 0.2 0.6 0.3 -5.6 0.3 2.7 0.2 -6.4 0.3 5.6 0.3 -0.2 0.2 4.3 0.3 0.1 0.3 -2 0.2 -1.4 0.3 -6.4 0.3 -3.9 0.2 1 0.3 -3.1 0.3 -2 0.2 2.5 0.3 0.4 0.3 -3.7 0.2 1.5 0.3 -0.6 0.3 -4.1 0.2 -3.9 0.3 0.9 0.3 1.4 0.3 2.3 0.2 -7.6 0.3 6.8 0.3 -4.2 0.2 -7.8 0.3 1.8 0.3 -0.3 0.2 -1.5 0.3 -7 0.3 2.4 0.2 -4.5 0.3 1.1 0.3 5.4 0.2 -5.2 0.3 4.7 0.3 -1.1 0.2 0.1 0.3 -0.2 0.3 -2.9 0.2 4.5 0.3 -5.2 0.3 1.4 0.2 1.3 0.3 -3.9 0.3 1 0.2 -1.4 0.3 5.9 0.3 0.7 0.2 0.4 0.3 -6.9 0.3 2.7 0.2 -4.2 0.3 -3.1 0.3 -0.4 0.2 0 0.3 2.5 0.3 0.4 0.2 3.7 0.3 2.6 0.3 -5.5 0.2 -0.9 0.3 4.6 0.3 -6.9 0.2 4.5 0.3 -5.1 0.3 1.6 0.2 1.5 0.3 -0.7 0.3 6.2 0.2 -2.2 0.3 2.7 0.3 0.1 0.3 3.1 0.2 2.7 0.3 2.5 0.3 -3.9 0.2 5.4 0.3 -3.9 0.3 1.3 0.2 2.3 0.3 0 0.3 1.7 0.2 0.4 0.3 0.4 0.3 -3.3 0.2 6.3 0.3 -1.4 0.3 8.2 0.2 -4.6 0.3 6.8 0.3 1.9 0.2 -4.4 0.3 2.8 0.3 -1.7 0.2 2.4 0.3 0.9 0.3 1.3 0.2 2.8 0.3 5 0.3 1.3 0.2 3 0.3 1.9 0.3 6.8 0.2 -4.8 0.3 6.1 0.3 1.2 0.2 -7.2 0.3 -4.1 0.3 -0.8 0.2 1.9 0.3 -3.2 0.3 8 0.2 3 0.3 3.9 0.3 -1.7 0.2 0.9 0.3 -2.4 0.3 2.9 0.2 1.5 0.3 5 0.3 4.7 0.2 -7.2 0.3 1.7 0.3 0 0.3 -0.6 0.2 0.8 0.3 1 0.3 7.5 0.2 -6.8 0.3 4.7 0.3 -2.5 0.2 -1.5 0.3 4.8 0.3 0.6 0.2 -1.7 0.3 3.9 0.3 3 0.2 3.3 0.3 1.2 0.3 -2.9 0.2 -1.3 0.3 3.7 0.3 -0.8 0.2 -3.9 0.3 0.9 0.3 -0.3 0.2 1.8 0.3 5.5 0.3 -4 0.2 3.2 0.3 -3.4 0.3 7.2 0.2 -3.3 0.3 1.1 0.3 -1 0.2 -3.8 0.3 1 0.3 2.3 0.2 -2.2 0.3 3.3 0.3 -1.4 0.2 -2.9 0.3 1 0.3 -1.2 0.2 4 0.3 -2.2 0.3 0.9 0.2 3.3 0.3 2.2 0.3 3.6 0.2 -3.5 0.3 -0.3 0.3 -2.8 0.3 2.2 0.2 -1.4 0.3 1.8 0.3 3.5 0.2 0.3 0.3 0.8 0.3 0.3 0.2 2.2 0.3 -3.9 0.3 1.6 0.2 1.3 0.3 -1.1 0.3 -6.3 0.2 1.8 0.3 -1.4 0.3 0.3 0.2 -1.2 0.3 2.6 0.3 0.8 0.2 -3.1 0.3 -2.1 0.3 1.3 0.2 -4.1 0.3 5.6 0.3 0.5 0.2 -1.1 0.3 -1 0.3 2.9 0.2 -1.1 0.3 5.7 0.3 -4 0.2 0.2 0.3 0.5 0.3 1.7 0.2 -1.3 0.3 -1.1 0.3 0.2 0.2 1 0.3 4.5 0.3 -4 0.2 0.3 0.3 0.4 0.3 -2.5 0.2 4.1 0.3 4 0.3 -1.8 0.2 -3.3 0.3 1.4 0.3 -1.5 0.2 -0.5 0.3 -1.9 0.3 0.8 0.3 4.3 0.2 -1.6 0.3 -1.5 0.3 0.2 0.2 -3.3 0.3 -2.7 0.3 1.8 0.2 1.4 0.3 -0.7 0.3 0.7 0.2 5.1 0.3 4.2 0.3 -5.4 0.2 3.8 0.3 -4.6 0.3 -2.2 0.2 -2.4 0.3 1.4 0.3 -3.8 0.2 5.6 0.3 -0.7 0.3 -3 0.2 3.3 0.3 -2 0.3 1.9 0.2 2.6 0.3 -3.6 0.3 -1 0.2 -3.4 0.3 3.6 0.3 -2.2 0.2 -0.1 0.3 4.2 0.3 3.1 0.2 -1.4 0.3 -1.4 0.3 -1.5 0.2 3.6 0.3 -1.5 0.3 6.8 0.2 -2.6 0.3 -5.3 0.3 -1.7 0.2 0.6 0.3 -1.5 0.3 0 0.2 0.5 0.3 3.7 0.3 0 0.3 2 0.2 0.5 0.3 -0.1 0.3 1.3 0.2 -0.5 0.3 -0.8 0.3 1 0.2 -4.5 0.3 0 0.3 0.8 0.2 -3.5 0.3 0.7 0.3 1.6 0.2 1.2 0.3 -1.1 0.3 -1.1 0.2 -2.1 0.3 1.1 0.3 2.5 0.2 -5.3 0.3 1.2 0.3 2.7 0.2 3 0.3 -3.9 0.3 -0.6 0.2 0.5 0.3 -1.4 0.3 1.7 0.2 -2.4 0.3 2.3 0.3 -2.4 0.2 2.2 0.3 -0.2 0.3 -3.3 0.2 6.5 0.3 2.3 0.3 0.1 0.2 1.3 0.3 -3.1 0.3 4 0.2 -6.7 0.3 -3.9 0.3 3.9 0.2 -0.5 0.3 2.6 0.3 1 0.2 2.5 0.3 -3 0.3 0.8 0.2 -2.9 0.3 4.1 0.3 3.1 0.3 -1.9 0.2 1.4 0.3 -7.4 0.3 -2.5 0.2 -0.1 0.3 0.7 0.3 2.2 0.2 0.3 0.3 -0.5 0.3 6.7 0.2 -1.7 0.3 -2.4 0.3 5.4 0.2 -2.8 0.3 -1.3 0.3 1 0.2 -4 0.3 -2.6 0.3 -2.9 0.2 5.7 0.3 -7.4 0.3 5.2 0.2 -0.8 0.3 3.2 0.3 -0.9 0.2 -1 0.3 -6.2 0.3 0.6 0.2 4.1 0.3 -1.5 0.3 -1.8 0.2 0.4 0.3 0 0.3 0.9 0.2 2.2 0.3 -4.7 0.3 -0.3 0.2 -1.5 0.3 1 0.3 -3.4 0.2 2.6 0.3 -1.2 0.3 3.5 0.2 4.6 0.3 4.3 0.3 -5.3 0.2 -0.8 0.3 0.4 0.3 2.8 0.2 -5.3 0.3 5.8 0.3 -1.9 0.3 -3 0.2 -1.9 0.3 0.3 0.3 1.2 0.2 0.5 0.3 -3.2 0.3 3.4 0.2 -1.1 0.3 4.4 0.3 -1.4 0.2 0.6 0.3 -3.1 0.3 6.5 0.2 -2.9 0.3 -2.3 0.3 4.3 0.2 0.2 0.3 -3 0.3 2.4 0.2 -2.6 0.3 -2 0.3 2.3 0.2 -3 0.3 5.6 0.3 -2.1 0.2 -2.1 0.3 -0.3 0.3 -3 0.2 3.9 0.3 -1.2 0.3 0.4 0.2 -4.1 0.3 -1 0.3 -2.6 0.2 1.3 0.3 2.6 0.3 2.4 0.2 -2.2 0.3 3.2 0.3 -0.2 0.2 0.5 0.3 -2.1 0.3 1.2 0.2 1.9 0.3 0.6 0.3 -4.6 0.2 4 0.3 -0.5 0.3 -5.8 0.3 1.9 0.2 -2.2 0.3 2.3 0.3 -4.2 0.2 6.2 0.3 1.2 0.3 1.3 0.2 -3.1 0.3 0.2 0.3 1.4 0.2 -6.1 0.3 -2 0.3 5.9 0.2 -5.6 0.3 1.9 0.3 3.8 0.2 -0.5 0.3 4.9 0.3 -4.5 0.2 2 0.3 -0.6 0.3 -3.2 0.2 8.1 0.3 -3.6 0.3 3.7 0.2 0.6 0.3 3 0.3 -4.6 0.2 1 0.3 -5 0.3 -1 0.2 3.5 0.3 1 0.3 -5.3 0.2 3.1 0.3 0 0.3 1.8 0.2 -4.3 0.3 2.7 0.3 -3.1 0.2 2.1 0.3 3.5 0.3 -0.1 0.2 -3.4 0.3 4.3 0.3 -2.9 0.2 -1.4 0.3 1.8 0.3 -0.7 0.2 3 0.3 -5.5 0.3 -1.1 0.3 2.9 0.2 4.6 0.3 -2.3 0.3 1.7 0.2 1.8 0.3 1.1 0.3 -3.4 0.2 -1.2 0.3 1 0.3 -1.5 0.2 2.2 0.3 5.8 0.3 0 0.2 1.8 0.3 -2.3 0.3 -0.8 0.2 -5.5 0.3 3.5 0.3 2 0.2 0.6 0.3 -2.3 0.3 -0.2 0.2 -2.4 0.3 1.4" stroke="#4a7ebb" stroke-width="4.2" stroke-linecap="round"/>
<path d="M146.0 654.9 l 0.3 3.7 0.3 0.9 0.2 5.7 0.3 -6.5 0.3 -3.2 0.2 2.8 0.3 -2.9 0.3 1.3 0.2 -0.1 0.3 -1.5 0.3 0.1 0.2 -0.8 0.3 -3.5 0.3 -0.2 0.2 1.6 0.3 -1.2 0.3 2.9 0.2 -1 0.3 -0.3 0.3 -4 0.2 0.3 0.3 0.1 0.3 1.1 0.2 3.6 0.3 -2 0.3 -1.1 0.2 6.7 0.3 1.3 0.3 -2.4 0.2 -3.6 0.3 -1.2 0.3 -3.4 0.2 -0.8 0.3 2.7 0.3 -1.4 0.2 3.3 0.3 -0.3 0.3 5.6 0.2 -2.6 0.3 -0.4 0.3 -2 0.2 5.3 0.3 -0.4 0.3 1.3 0.2 -1.7 0.3 -0.1 0.3 -2.7 0.2 2.4 0.3 -5.1 0.3 -1.8 0.2 4.6 0.3 -4.9 0.3 0.3 0.3 2.2 0.2 -1.6 0.3 -2.4 0.3 5 0.2 4.4 0.3 -2.4 0.3 0.1 0.2 3 0.3 -1.5 0.3 -4.4 0.2 -0.5 0.3 2.5 0.3 -1.6 0.2 1.7 0.3 -4.5 0.3 3.5 0.2 -3.4 0.3 6.2 0.3 0.5 0.2 -2.8 0.3 0.2 0.3 1.9 0.2 -0.2 0.3 -2.4 0.3 3.8 0.2 1.3 0.3 2.5 0.3 -1.7 0.2 -1.1 0.3 1.2 0.3 1 0.2 -2.1 0.3 3.8 0.3 -4.4 0.2 -2.6 0.3 0.7 0.3 -5.8 0.2 1.3 0.3 -0.7 0.3 1.8 0.2 0.5 0.3 3.9 0.3 2.5 0.2 2 0.3 0.5 0.3 0.4 0.2 -0.4 0.3 -4.4 0.3 -2.8 0.2 -3 0.3 -0.3 0.3 -2.4 0.3 2.8 0.2 2 0.3 -1.5 0.3 3.8 0.2 -4.8 0.3 3.9 0.3 -2 0.2 4.3 0.3 -4.5 0.3 2.6 0.2 2.7 0.3 -5.3 0.3 -0.7 0.2 0.2 0.3 0.5 0.3 -1.8 0.2 1 0.3 -1.3 0.3 1.1 0.2 1.7 0.3 1.5 0.3 -1.8 0.2 2.7 0.3 -1.7 0.3 -1 0.2 -3 0.3 0.3 0.3 3 0.2 -0.1 0.3 1.3 0.3 -4.8 0.2 4.6 0.3 -1.7 0.3 -0.2 0.2 -0.3 0.3 -2.5 0.3 -1 0.2 0.3 0.3 5.7 0.3 -2.9 0.2 3.1 0.3 -3.4 0.3 2.7 0.2 -2.6 0.3 3.9 0.3 -2.6 0.2 1.4 0.3 0.9 0.3 -3.1 0.3 1.7 0.2 -0.1 0.3 -1 0.3 -0.5 0.2 1.2 0.3 4.2 0.3 -0.3 0.2 -3 0.3 3.7 0.3 -4.3 0.2 0.4 0.3 -1.6 0.3 -2.8 0.2 2.3 0.3 0.7 0.3 1.5 0.2 -2 0.3 4 0.3 0.9 0.2 -4.3 0.3 0.4 0.3 5.7 0.2 -4.5 0.3 2.8 0.3 -5.9 0.2 0.7 0.3 4 0.3 -1.4 0.2 -4.1 0.3 3.7 0.3 -2.8 0.2 -0.2 0.3 3.1 0.3 1.7 0.2 3.3 0.3 -6.2 0.3 -2.2 0.2 0.8 0.3 0.2 0.3 -0.2 0.2 1.7 0.3 5.2 0.3 2.4 0.2 -7.7 0.3 5.2 0.3 -8.7 0.2 -0.7 0.3 0.8 0.3 5.2 0.2 -5.4 0.3 4.6 0.3 3.2 0.3 -0.3 0.2 -4.8 0.3 0.2 0.3 1.8 0.2 -1.2 0.3 -1.6 0.3 0.1 0.2 -1.7 0.3 1.6 0.3 5.8 0.2 -4.8 0.3 1.2 0.3 7 0.2 -9.3 0.3 3.1 0.3 2.7 0.2 -0.6 0.3 -5.9 0.3 3.6 0.2 -0.5 0.3 3.7 0.3 -6.2 0.2 0.2 0.3 -0.3 0.3 -5.4 0.2 1 0.3 4.1 0.3 5.4 0.2 -2 0.3 5.1 0.3 -2.9 0.2 1.5 0.3 0.8 0.3 0.3 0.2 -4.1 0.3 -1.3 0.3 0.7 0.2 -1.2 0.3 2.3 0.3 0.6 0.2 1.4 0.3 0.5 0.3 1.7 0.2 2.5 0.3 1.3 0.3 1.9 0.2 -1.8 0.3 -2.3 0.3 -2 0.3 -5.3 0.2 0.4 0.3 1.3 0.3 -2.5 0.2 -0.7 0.3 0.7 0.3 -3.6 0.2 2.6 0.3 1.3 0.3 1.6 0.2 -1.5 0.3 2.9 0.3 0.3 0.2 -1.9 0.3 -0.3 0.3 0.2 0.2 1.1 0.3 -1.9 0.3 -1.2 0.2 1.2 0.3 -3.8 0.3 0.6 0.2 -3.6 0.3 4.8 0.3 4.1 0.2 -3.1 0.3 -1.1 0.3 4.7 0.2 -4 0.3 -0.5 0.3 4.7 0.2 -1.5 0.3 -0 0.3 -2.4 0.2 0.3 0.3 -2.2 0.3 5.4 0.2 -1 0.3 1.5 0.3 -0.9 0.2 -1 0.3 2.9 0.3 -4.9 0.2 -5.5 0.3 -2.4 0.3 0.9 0.2 -0.7 0.3 2.6 0.3 -0.7 0.2 3.4 0.3 4.7 0.3 -1.1 0.3 4.3 0.2 -7.4 0.3 2.2 0.3 3.6 0.2 -0.1 0.3 -3.1 0.3 2.8 0.2 -0.8 0.3 -2.6 0.3 -0.3 0.2 -2.3 0.3 -2.2 0.3 7.3 0.2 -1.1 0.3 -0.9 0.3 3.3 0.2 -2.4 0.3 1.5 0.3 -7.2 0.2 5.3 0.3 -2.7 0.3 -1.6 0.2 2.6 0.3 3.7 0.3 -3.3 0.2 -0 0.3 3 0.3 0.7 0.2 0.8 0.3 -1 0.3 -1 0.2 0.5 0.3 -5.3 0.3 5.6 0.2 1.6 0.3 -0.8 0.3 -5.6 0.2 4.7 0.3 -3.4 0.3 2 0.2 -2.4 0.3 2.2 0.3 1.2 0.2 -0.9 0.3 -5.3 0.3 2.3 0.2 -6.9 0.3 -0.7 0.3 2.9 0.2 4.3 0.3 1.4 0.3 4.9 0.3 -1.9 0.2 -0.2 0.3 -3.9 0.3 1.4 0.2 -0.5 0.3 -0.3 0.3 4.9 0.2 -2.6 0.3 3.2 0.3 -2.5 0.2 -5.4 0.3 -0.2 0.3 1.4 0.2 6.3 0.3 -1.6 0.3 1.3 0.2 -3.2 0.3 -0.2 0.3 -2.2 0.2 0.6 0.3 -0.9 0.3 0.1 0.2 -0.8 0.3 1.9 0.3 1.8 0.2 -2.8 0.3 -1.2 0.3 3.5 0.2 2.6 0.3 0.2 0.3 -2.5 0.2 -0.6 0.3 -6.2 0.3 1.6 0.2 2.1 0.3 -1.3 0.3 4.5 0.2 3.6 0.3 -6.6 0.3 3.3 0.2 3.7 0.3 -7.4 0.3 4.4 0.2 3.5 0.3 -3.7 0.3 -0.1 0.2 1 0.3 2 0.3 -3.3 0.3 -1.3 0.2 6 0.3 -6.1 0.3 -2.5 0.2 4.7 0.3 -1 0.3 2.8 0.2 3.3 0.3 -0 0.3 -4.5 0.2 6.7 0.3 -6.7 0.3 -0.2 0.2 -0 0.3 -3.9 0.3 -1 0.2 1.7 0.3 -0.9 0.3 0.8 0.2 1.8 0.3 -5 0.3 5.7 0.2 -2.9 0.3 -0.2 0.3 1.4 0.2 -3.2 0.3 2.6 0.3 -4 0.2 1.2 0.3 5.8 0.3 -1.5 0.2 2.6 0.3 -4.6 0.3 5.8 0.2 0.9 0.3 0.6 0.3 -1.6 0.2 -3.3 0.3 -0.2 0.3 0.8 0.2 -2.3 0.3 -1 0.3 -1.5 0.2 5.3 0.3 -1.1 0.3 1.2 0.2 0.1 0.3 -1.8 0.3 0.4 0.2 -4.8 0.3 -1.3 0.3 1 0.3 -0 0.2 0.1 0.3 1.5 0.3 2.3 0.2 4.9 0.3 -4.3 0.3 -2 0.2 -0.1 0.3 2.3 0.3 -7 0.2 5.1 0.3 -2.8 0.3 6.3 0.2 -6.1 0.3 2.8 0.3 -3.4 0.2 -0.8 0.3 4.4 0.3 -1.4 0.2 0.8 0.3 2.5 0.3 -3 0.2 -3.8 0.3 4.2 0.3 -1.3 0.2 -1.9 0.3 4 0.3 3.3 0.2 -2.5 0.3 -0.6 0.3 1.8 0.2 1.8 0.3 -6 0.3 3.5 0.2 -2.4 0.3 -1.1 0.3 -3.4 0.2 7 0.3 -2.8 0.3 -0.2 0.2 0.6 0.3 3.1 0.3 -0.1 0.2 -3.5 0.3 2.7 0.3 -0.5 0.2 -0.9 0.3 2.9 0.3 -1.1 0.3 3.3 0.2 -1.1 0.3 0.9 0.3 -6.1 0.2 3.1 0.3 -1 0.3 1.9 0.2 -4 0.3 3.5 0.3 0.6 0.2 0.7 0.3 1.6 0.3 -2.8 0.2 -1.2 0.3 2.1 0.3 -4.8 0.2 2.1 0.3 1.5 0.3 -1.9 0.2 -1.4 0.3 -0 0.3 -2.5 0.2 3.1 0.3 -2.9 0.3 2.1 0.2 -2.9 0.3 -0.8 0.3 2.3 0.2 -2.2 0.3 -0.3 0.3 -0 0.2 5 0.3 0.5 0.3 -1 0.2 2.4 0.3 -0.1 0.3 4.1 0.2 -5 0.3 2.8 0.3 -0.6 0.2 -0 0.3 -2.3 0.3 -3 0.2 0.7 0.3 2.2 0.3 -4 0.2 1.7 0.3 -0.3 0.3 3.2 0.2 0.6 0.3 1.1 0.3 -0.5 0.3 3 0.2 -4.3 0.3 -1.8 0.3 -2.7 0.2 2.1 0.3 -0.2 0.3 1.1 0.2 -1.5 0.3 -4.2 0.3 3.8 0.2 1.6 0.3 -2.2 0.3 -1.2 0.2 5.1 0.3 -3 0.3 2.6 0.2 -4.7 0.3 2.5 0.3 1 0.2 1.8 0.3 1.1 0.3 3 0.2 1.1 0.3 -0.1 0.3 1.2 0.2 -1.9 0.3 -7.4 0.3 -1.6 0.2 0.8 0.3 -1 0.3 2.8 0.2 -1.4 0.3 -2.1 0.3 -3 0.2 2.4 0.3 4.2 0.3 -2.9 0.2 5.6 0.3 -1.9 0.3 1.2 0.2 -3 0.3 -0.2 0.3 -2.1 0.2 5.5 0.3 -1.2 0.3 1.1 0.2 2.4 0.3 -0.6 0.3 -5.9 0.2 3.4 0.3 3.3 0.3 -3.2 0.3 -1.1 0.2 -1.2 0.3 -1.5 0.3 -0 0.2 -0.6 0.3 -2.2 0.3 0.8 0.2 7.7 0.3 -11.6 0.3 3.9 0.2 -1.8 0.3 -1.1 0.3 3.2 0.2 7.5 0.3 -3.4 0.3 2.3 0.2 -0.8 0.3 2.1 0.3 -9.1 0.2 2.9 0.3 2.1 0.3 -1.3 0.2 2.8 0.3 -0.6 0.3 1.5 0.2 -0.2 0.3 -4.3 0.3 2.6 0.2 -2.6 0.3 -1.6 0.3 3.3 0.2 1.9 0.3 -3.8 0.3 -1.9 0.2 3.8 0.3 -2 0.3 1.6 0.2 -2.1 0.3 -1.3 0.3 -0.2 0.2 3.1 0.3 -3.1 0.3 3.7 0.2 -0.2 0.3 -1.1 0.3 -1.9 0.2 -0.2 0.3 1.6 0.3 -4.9 0.3 0.5 0.2 3.9 0.3 -0.1 0.3 -6.1 0.2 -0.9 0.3 3.2 0.3 0.3 0.2 6.8 0.3 -3.9 0.3 -2.8 0.2 6.4 0.3 -4.6 0.3 -2.9 0.2 1.1 0.3 4.2 0.3 -1 0.2 -1.8 0.3 3.3 0.3 -0.5 0.2 -0.1 0.3 1 0.3 -1.4 0.2 1.6 0.3 0.8 0.3 -9 0.2 3.4 0.3 -3.6 0.3 -2.4 0.2 1.5 0.3 0.8 0.3 -2.4 0.2 -0 0.3 3.6 0.3 -3.1 0.2 1.4 0.3 1.2 0.3 1.4 0.2 2.9 0.3 -5.4 0.3 -0.5 0.2 9.8 0.3 -7.4 0.3 -1.6 0.2 5 0.3 -4.5 0.3 -2.9 0.2 -0.2 0.3 0.5 0.3 -2.6 0.2 -2.6 0.3 4.7 0.3 0.8 0.3 4.6 0.2 0.1 0.3 2.9 0.3 -2.1 0.2 -0.3 0.3 -4.5 0.3 0.3 0.2 -1.2 0.3 0.2 0.3 -2.4 0.2 10.3 0.3 -6.8 0.3 3.1 0.2 -1 0.3 0.1 0.3 0.1 0.2 1.8 0.3 -1.8 0.3 -2.3 0.2 2.7 0.3 1.2 0.3 -6.6 0.2 3.6 0.3 1.4 0.3 -3.1 0.2 -0.4 0.3 3.7 0.3 -4.1 0.2 5.7 0.3 -2.9 0.3 -0.7 0.2 -3.5 0.3 -1 0.3 1.2 0.2 2.2 0.3 -2.1 0.3 -3.5 0.2 -2.1 0.3 5.4 0.3 2.2 0.2 -1.5 0.3 0.7 0.3 0.9 0.2 -2.9 0.3 -0.4 0.3 1.4 0.2 -3.9 0.3 0.9 0.3 3 0.3 3.8 0.2 -0.8 0.3 -2.3 0.3 -0 0.2 -9.3 0.3 5 0.3 1.1 0.2 2.5 0.3 -1.2 0.3 5.7 0.2 -2.7 0.3 2.6 0.3 -7.9 0.2 -7.1 0.3 4.6 0.3 -3.6 0.2 -5.3 0.3 5.1 0.3 -0.4 0.2 -1.7 0.3 5.9 0.3 0.5 0.2 -1.4 0.3 -4.1 0.3 4 0.2 -3.1 0.3 -0.2 0.3 -2.6 0.2 4 0.3 -0.4 0.3 -4.5 0.2 3.6 0.3 -7 0.3 6.6 0.2 3 0.3 -0.1 0.3 3.9 0.2 -3.6 0.3 0.1 0.3 -1.2 0.2 2.1 0.3 0.5 0.3 4.1 0.2 -3.2 0.3 -1.9 0.3 5.4 0.2 -5.1 0.3 0.5 0.3 0.1 0.2 0.1 0.3 -2.4 0.3 -0 0.3 2 0.2 -2.3 0.3 -0.7 0.3 0.6 0.2 -1.5 0.3 -3.3 0.3 2.2 0.2 -0.9 0.3 4.3 0.3 -3.2 0.2 5.8 0.3 -6.6 0.3 3.6 0.2 -3.3 0.3 -4.8 0.3 6.3 0.2 -5.3 0.3 3.9 0.3 2.5 0.2 0.6 0.3 -4.7 0.3 -1.2 0.2 -0.6 0.3 1.4 0.3 -1.2 0.2 -1.1 0.3 -2.1 0.3 1.4 0.2 1.1 0.3 -4.4 0.3 3.3 0.2 -0.5 0.3 2 0.3 1.7 0.2 -1.8 0.3 -1.2 0.3 -1.9 0.2 7.2 0.3 0.4 0.3 -4.4 0.2 0.2 0.3 -0.4 0.3 1.4 0.2 -5.4 0.3 4.4 0.3 -3.2 0.2 -0.4 0.3 -2.1 0.3 1 0.2 -4.1 0.3 6.3 0.3 -7.5 0.3 1.2 0.2 4.7 0.3 2.6 0.3 -0 0.2 -1.1 0.3 4.3 0.3 -2.1 0.2 -6.3 0.3 -3.3 0.3 -4.6 0.2 5 0.3 -4.8 0.3 1.4 0.2 5.6 0.3 -6.8 0.3 2 0.2 -5.4 0.3 4 0.3 -0.3 0.2 3.5 0.3 4.5 0.3 -2.6 0.2 0.5 0.3 -3.6 0.3 0.1 0.2 0.6 0.3 -0.9 0.3 -0.2 0.2 1.8 0.3 -4.4 0.3 -0.5 0.2 -3.8 0.3 3.2 0.3 -0.9 0.2 -3.9 0.3 -0.4 0.3 -1 0.2 -2.3 0.3 -1.3 0.3 -0.9 0.2 -2.4 0.3 4.5 0.3 -0.5 0.2 -0.4 0.3 -4.7 0.3 2 0.2 4.1 0.3 -7.1 0.3 6.6 0.3 -0.8 0.2 2.1 0.3 -2.5 0.3 -6.6 0.2 -1.6 0.3 1 0.3 0.2 0.2 4.7 0.3 -2.8 0.3 1.5 0.2 0.3 0.3 -1.7 0.3 -3.9 0.2 -2.6 0.3 2.8 0.3 -4.3 0.2 -5.2 0.3 -4.4 0.3 3.8 0.2 9.6 0.3 -5.6 0.3 -1.6 0.2 -3.3 0.3 -4.9 0.3 -0.7 0.2 4.5 0.3 -7.6 0.3 0.1 0.2 -2.8 0.3 -6.6 0.3 7.7 0.2 -5.9 0.3 1.9 0.3 -4.8 0.2 1.8 0.3 -10.7 0.3 3.4 0.2 5.4 0.3 -10.7 0.3 1.5 0.2 -3 0.3 3.6 0.3 -4 0.2 -6.5 0.3 1.7 0.3 -8.6 0.2 4.1 0.3 -12.9 0.3 -1.1 0.2 -9.1 0.3 4 0.3 -0.8 0.3 -5.6 0.2 -1.1 0.3 -1.4 0.3 -2.2 0.2 -7.2 0.3 -4.3 0.3 -7.8 0.2 -1.5 0.3 -9.5 0.3 -0.2 0.2 -5.5 0.3 -2.7 0.3 -1.9 0.2 3.6 0.3 -1.4 0.3 -5.2 0.2 -0.1 0.3 -15.3 0.3 -4.1 0.2 -2.2 0.3 -9.7 0.3 -4.9 0.2 -5.3 0.3 -8.6 0.3 -10 0.2 2.5 0.3 -1.6 0.3 -6.2 0.2 -11.4 0.3 3.1 0.3 -18.1 0.2 -7.2 0.3 -3.7 0.3 -14.8 0.2 -11.7 0.3 -0.2 0.3 -5.5 0.2 -10.4 0.3 -10.5 0.3 -19.5 0.2 -5 0.3 -14.5 0.3 -12.1 0.2 -10.1 0.3 -5.5 0.3 -6.2 0.2 -7.3 0.3 -7.7 0.3 -14.1 0.3 -10 0.2 -13.3 0.3 -10.2 0.3 -16.3 0.2 -10.5 0.3 -3 0.3 -18.2 0.2 -11.2 0.3 -2 0.3 1.4 0.2 -3.4 0.3 -13.3 0.3 -8.5 0.2 -11.7 0.3 -1.3 0.3 -14.7 0.2 -4.1 0.3 3.7 0.3 4.7 0.2 0.6 0.3 -16.5 0.3 9.8 0.2 -10 0.3 -2.6 0.3 6.4 0.2 1.9 0.3 8.9 0.3 1.9 0.2 9.3 0.3 8.2 0.3 10.9 0.2 3.8 0.3 10.3 0.3 12.2 0.2 8.5 0.3 8.5 0.3 3 0.2 17.2 0.3 6.9 0.3 12.5 0.2 5.8 0.3 12.8 0.3 4.7 0.2 15.1 0.3 17.9 0.3 12.8 0.2 2.9 0.3 9.3 0.3 9 0.2 3.2 0.3 9 0.3 12.7 0.3 5.4 0.2 15.6 0.3 3 0.3 14.4 0.2 1.7 0.3 7.4 0.3 10.9 0.2 5.1 0.3 14.1 0.3 5.9 0.2 4 0.3 5.5 0.3 -0.5 0.2 8.6 0.3 4 0.3 5.4 0.2 6.2 0.3 6.7 0.3 6.1 0.2 10.6 0.3 -2.8 0.3 16.4 0.2 -0.2 0.3 3.6 0.3 3.1 0.2 1.7 0.3 8.8 0.3 11.3 0.2 2.4 0.3 2.2 0.3 -2.1 0.2 -0.2 0.3 9.4 0.3 -1.6 0.2 7.2 0.3 7.8 0.3 -0 0.2 2.9 0.3 -1.1 0.3 0.2 0.2 -4.5 0.3 1 0.3 7.1 0.2 3 0.3 1.8 0.3 5.4 0.2 10.3 0.3 -4.8 0.3 -3.1 0.2 9 0.3 -2.2 0.3 0.8 0.3 10 0.2 -2.8 0.3 0.2 0.3 0.3 0.2 6.8 0.3 -3.4 0.3 3.4 0.2 -4.1 0.3 5.3 0.3 3.2 0.2 0.4 0.3 2.1 0.3 1.9 0.2 1.7 0.3 -2.9 0.3 -6.3 0.2 3.7 0.3 5.7 0.3 5.7 0.2 3.3 0.3 2.3 0.3 9.6 0.2 -11.3 0.3 6.2 0.3 -7 0.2 3.7 0.3 1.4 0.3 -2.3 0.2 1.2 0.3 -2.9 0.3 0.7 0.2 5.8 0.3 3.4 0.3 -3.1 0.2 4.4 0.3 -3.8 0.3 2.6 0.2 -3.1 0.3 -0.6 0.3 5 0.2 -3.3 0.3 2 0.3 -2.3 0.2 5.2 0.3 -3.6 0.3 2.8 0.2 0.7 0.3 5.4 0.3 -4.7 0.3 4.8 0.2 -0.7 0.3 8.3 0.3 -12.7 0.2 -0.6 0.3 4.4 0.3 -6.3 0.2 1.4 0.3 1.8 0.3 -1.6 0.2 3.6 0.3 12.2 0.3 -3.5 0.2 0.4 0.3 -0.9 0.3 -4.5 0.2 -0.3 0.3 2.5 0.3 -2.4 0.2 0.7 0.3 0.8 0.3 1.6 0.2 -2.1 0.3 6.5 0.3 -3.5 0.2 -1.3 0.3 -1.4 0.3 -2.9 0.2 5.5 0.3 3.2 0.3 -5.3 0.2 4.2 0.3 -0.9 0.3 0.5 0.2 -2 0.3 -1.7 0.3 0.1 0.2 -1.3 0.3 -2.4 0.3 -3.4 0.2 8.7 0.3 -5.5 0.3 2.2 0.2 2 0.3 -1.7 0.3 1.5 0.2 3.1 0.3 -0.2 0.3 -1.9 0.2 -0.7 0.3 4.6 0.3 -6.9 0.3 -1.1 0.2 -0.6 0.3 -3.5 0.3 6.4 0.2 -5.1 0.3 5.7 0.3 0.5 0.2 -4.2 0.3 5.4 0.3 -1.7 0.2 0.2 0.3 -0.5 0.3 2.6 0.2 1.8 0.3 -2.8 0.3 -0.5 0.2 -1.2 0.3 1.1 0.3 -6.7 0.2 6 0.3 4.3 0.3 0.2 0.2 -3.9 0.3 7.6 0.3 -6.5 0.2 -4.1 0.3 2.9 0.3 1 0.2 -2.5 0.3 5.6 0.3 -3.6 0.2 -7.8 0.3 10.6 0.3 -1.6 0.2 -7.5 0.3 2.7 0.3 -7.2 0.2 1.3 0.3 -5.3 0.3 10.8 0.2 -9.4 0.3 2.8 0.3 1.4 0.2 -6.7 0.3 3.4 0.3 0.5 0.2 -5.2 0.3 6.9 0.3 4.1 0.3 -4.3 0.2 -1.7 0.3 -0.6 0.3 -2.8 0.2 -3.9 0.3 -3.3 0.3 0.3 0.2 2.3 0.3 -7.9 0.3 8.1 0.2 -7.9 0.3 4.9 0.3 -4.4 0.2 4.5 0.3 -0.3 0.3 -1.5 0.2 -6.2 0.3 -7.7 0.3 -1.1 0.2 -0.9 0.3 -7.6 0.3 -4.9 0.2 -0.5 0.3 -4.3 0.3 -1.3 0.2 -3.2 0.3 -3.3 0.3 5 0.2 -4.9 0.3 5.2 0.3 -1 0.2 -2.7 0.3 -8.8 0.3 0.4 0.2 -15.9 0.3 1.6 0.3 -4.5 0.2 -2.4 0.3 -1.7 0.3 -11.3 0.2 0.6 0.3 -11.3 0.3 -1 0.2 -7.1 0.3 -0.4 0.3 -15 0.2 -12 0.3 -2.7 0.3 -4.6 0.2 -8.3 0.3 -14.7 0.3 4.6 0.3 -2.2 0.2 -12.5 0.3 3 0.3 -23.3 0.2 -11 0.3 -6.1 0.3 -2.2 0.2 -8.9 0.3 -8.6 0.3 -16.3 0.2 -6.1 0.3 -13.3 0.3 -10.4 0.2 -7.4 0.3 -10.3 0.3 -4.5 0.2 -4.8 0.3 -2.3 0.3 -4.8 0.2 -8.8 0.3 -10.8 0.3 -6.3 0.2 -6.3 0.3 -9.6 0.3 -4.6 0.2 -4.9 0.3 -5.4 0.3 -7.3 0.2 3 0.3 -15.3 0.3 3.4 0.2 2.8 0.3 -14.1 0.3 9.9 0.2 -1.7 0.3 2.4 0.3 -4.3 0.2 5.8 0.3 -3.2 0.3 -11.2 0.2 8.4 0.3 4.8 0.3 -14.6 0.2 3.8 0.3 3.4 0.3 11.4 0.2 -7.2 0.3 5.9 0.3 13.2 0.2 -3.9 0.3 6.2 0.3 7 0.3 3.5 0.2 1.9 0.3 14.9 0.3 4.8 0.2 -2.6 0.3 6.6 0.3 4.6 0.2 3.7 0.3 6.2 0.3 1.8 0.2 6.4 0.3 1.3 0.3 3 0.2 8.2 0.3 12.1 0.3 5.5 0.2 10 0.3 3.7 0.3 14.7 0.2 11.4 0.3 4.6 0.3 10.4 0.2 12.8 0.3 5.9 0.3 0.1 0.2 9.7 0.3 8.4 0.3 4.7 0.2 13.3 0.3 1 0.3 8.8 0.2 3 0.3 11.8 0.3 -4.2 0.2 23.7 0.3 0.9 0.3 11.6 0.2 0.7 0.3 19.6 0.3 -1.9 0.2 6.5 0.3 6.5 0.3 6.3 0.2 2.3 0.3 13.1 0.3 7.5 0.2 10.4 0.3 -6.5 0.3 5.6 0.3 9 0.2 3 0.3 0.4 0.3 6.9 0.2 7.1 0.3 -8 0.3 6.6 0.2 10.9 0.3 4.5 0.3 11.2 0.2 0.5 0.3 2.4 0.3 -7.6 0.2 11 0.3 3.9 0.3 4.3 0.2 4.7 0.3 0.3 0.3 1.6 0.2 3.4 0.3 -3.6 0.3 4.5 0.2 4.7 0.3 -2.2 0.3 3.8 0.2 3.2 0.3 2.4 0.3 -5 0.2 4.5 0.3 -4.6 0.3 9.3 0.2 7.5 0.3 -3.9 0.3 -0.6 0.2 6.2 0.3 -3.9 0.3 0.2 0.2 -1.4 0.3 2.3 0.3 0.9 0.2 5.1 0.3 0.4 0.3 -5.8 0.2 5 0.3 6.7 0.3 -4.3 0.2 0.6 0.3 3.2 0.3 -2.5 0.2 -4.6 0.3 4.7 0.3 -2.1 0.3 -3.6 0.2 0.7 0.3 2.1 0.3 -0.5 0.2 3.4 0.3 7.1 0.3 -3 0.2 -0.3 0.3 -3.8 0.3 4.4 0.2 -2.2 0.3 1.4 0.3 4.8 0.2 -1 0.3 1.5 0.3 -3.9 0.2 2.4 0.3 -4.7 0.3 5.3 0.2 0.3 0.3 -3.1 0.3 4.3 0.2 0.4 0.3 -4.3 0.3 2.8 0.2 2.6 0.3 -6 0.3 4.6 0.2 -0.8 0.3 -3.2 0.3 1.9 0.2 -1.7 0.3 3.1 0.3 0.4 0.2 3.6 0.3 -3.6 0.3 0.5 0.2 -0.3 0.3 1.3 0.3 -1.6 0.2 0.4 0.3 0.9 0.3 0.4 0.2 0.2 0.3 3.6 0.3 -3.6 0.2 -3.4 0.3 -0.1 0.3 -2.6 0.3 2.7 0.2 5.5 0.3 0.4 0.3 -3.8 0.2 3.3 0.3 0.1 0.3 -2.6 0.2 4.5 0.3 -0.4 0.3 -1.1 0.2 0.4 0.3 -3 0.3 3.3 0.2 -5.8 0.3 2.4 0.3 2.5 0.2 -7.3 0.3 4.8 0.3 1.6 0.2 -2.9 0.3 8.8 0.3 -6.8 0.2 0.5 0.3 0.3 0.3 -0.9 0.2 -1.1 0.3 1.6 0.3 -4.9 0.2 2.5 0.3 -1.9 0.3 -1.3 0.2 -0 0.3 3.9 0.3 6.6 0.2 3.6 0.3 -3.5 0.3 4.3 0.2 3.4 0.3 -2.5 0.3 -1.8 0.2 1.8 0.3 -6.1 0.3 1.5 0.2 -4.5 0.3 -5.3 0.3 1.2 0.2 2 0.3 -1.1 0.3 1.2 0.2 -0.3 0.3 1.5 0.3 -0.3 0.3 6.4 0.2 -4.1 0.3 -4.4 0.3 5.2 0.2 -0.6 0.3 2.1 0.3 -3.6 0.2 3.7 0.3 -0 0.3 4 0.2 -1.2 0.3 -7.2 0.3 5.6 0.2 0.6 0.3 -2.7 0.3 0.4 0.2 5.7 0.3 0.9 0.3 -2.6 0.2 -1 0.3 -2.1 0.3 -0.8 0.2 -2 0.3 0.2 0.3 4.4 0.2 2.6 0.3 -0.2 0.3 -3 0.2 0.3 0.3 -0.9 0.3 -0 0.2 0.3 0.3 -0 0.3 0.1 0.2 2.2 0.3 -5.5 0.3 5 0.2 -5.1 0.3 3.4 0.3 -1.4 0.2 -1.1 0.3 4 0.3 -2.4 0.2 -1.1 0.3 1.4 0.3 -4.1 0.2 4.4 0.3 -0 0.3 3 0.3 -3.9 0.2 4.9 0.3 0.5 0.3 2.3 0.2 -4.4 0.3 1.2 0.3 2.6 0.2 1.8 0.3 -3.6 0.3 -4.4 0.2 -0.6 0.3 3.2 0.3 0.8 0.2 0.6 0.3 3.7 0.3 -0.8 0.2 -1.7 0.3 0.4 0.3 -4.4 0.2 0.1 0.3 -2.2 0.3 -1.9 0.2 5.7 0.3 2.5 0.3 -5.8 0.2 3.2 0.3 2.4 0.3 2.6 0.2 -3.9 0.3 -3.3 0.3 0.9 0.2 3.5 0.3 -3.9 0.3 2.9 0.2 2.4 0.3 -2.7 0.3 2.4 0.2 0.7 0.3 -2.2 0.3 -1.8 0.2 -1.5 0.3 -0.6 0.3 1.2 0.2 0.8 0.3 -4.1 0.3 5.4 0.2 -1.5 0.3 -2.1 0.3 1.5 0.2 2.7 0.3 -0.9 0.3 1.4 0.3 -0.5 0.2 4.6 0.3 -5.6 0.3 1.9 0.2 1 0.3 1.3 0.3 -5.2 0.2 2.9 0.3 1.5 0.3 1.8 0.2 0.6 0.3 1.5 0.3 -4.7 0.2 -4.6 0.3 -0.7 0.3 -1.5 0.2 -1 0.3 4.3 0.3 -0.4 0.2 -1.8 0.3 1.2 0.3 0.6 0.2 -0.4 0.3 1.9 0.3 0.3 0.2 -2.8 0.3 1.5 0.3 -1.4 0.2 1.2 0.3 1.3 0.3 -1.6 0.2 -1.8 0.3 -5 0.3 -2.4 0.2 4.9 0.3 0.4 0.3 4.6 0.2 3.4 0.3 -0.9 0.3 -0 0.2 -2.1 0.3 0.4 0.3 -2.3 0.2 3.1 0.3 3.6 0.3 -4.3 0.2 2.7 0.3 -3.3 0.3 -0.4 0.2 1.1 0.3 0.8 0.3 -2 0.3 3.6 0.2 -3.4 0.3 -1.5 0.3 -3.3 0.2 -2.8 0.3 -0.1 0.3 1.7 0.2 4.6 0.3 3.3 0.3 -1.2 0.2 -3.2 0.3 3.4 0.3 3.4 0.2 -5.5 0.3 -1.4 0.3 5.7 0.2 -4.2 0.3 2.8 0.3 0.6 0.2 2.1 0.3 -8.4 0.3 7.2 0.2 -0.7 0.3 2.2 0.3 -4.1 0.2 2.9 0.3 -3.8 0.3 3.2 0.2 0.9 0.3 0.1 0.3 0.7 0.2 4.6 0.3 -4.5 0.3 1.2 0.2 -1.1 0.3 2 0.3 -2.5 0.2 -3.5 0.3 3.5 0.3 -0.5 0.2 -1.9 0.3 5.4 0.3 -0.7 0.2 -3.7 0.3 -4.8 0.3 3.7 0.2 1.1 0.3 -0.6 0.3 4.1 0.3 -4.7 0.2 0.4 0.3 0.7 0.3 -1.8 0.2 -1.9 0.3 3.1 0.3 1.6 0.2 1.4 0.3 -1.2 0.3 0.4 0.2 -1.5 0.3 -4.8 0.3 2.6 0.2 -0.4 0.3 2.5 0.3 4 0.2 0.2 0.3 2.4 0.3 -1.7 0.2 -5.4 0.3 4.8 0.3 -0.8 0.2 2.9 0.3 -1.6 0.3 0.9 0.2 -3.4 0.3 -0.7 0.3 -0.5 0.2 0.5 0.3 -7.8 0.3 5.1 0.2 -0.2 0.3 3.6 0.3 -1.6 0.2 2.9 0.3 0.8 0.3 -6.2 0.2 1.2 0.3 -0.8 0.3 -1.2 0.2 -0.1 0.3 0.7 0.3 -2.4 0.2 1.5 0.3 -2.4 0.3 3.4 0.2 1.8 0.3 -3.7 0.3 5.9 0.2 -1.2 0.3 -1.8 0.3 0.2 0.3 5.2 0.2 -3.4 0.3 0.5 0.3 -2.9 0.2 -1.1 0.3 -5.8 0.3 2 0.2 -1 0.3 5.9 0.3 -0.6 0.2 3.7 0.3 -3 0.3 0.8 0.2 -0.4 0.3 -2.4 0.3 -0.2 0.2 -0.6 0.3 -0 0.3 1.8 0.2 -1.7 0.3 3.8 0.3 -4.6 0.2 3.4 0.3 0.8 0.3 0.3 0.2 2.2 0.3 1.7 0.3 -3.9 0.2 -0.8 0.3 2.1 0.3 2 0.2 -5.1 0.3 0.1 0.3 2.3 0.2 2.2 0.3 -1.6 0.3 -0.1 0.2 3 0.3 -2.3 0.3 -2.8 0.2 -0 0.3 0.5 0.3 -1.3 0.2 3.3 0.3 -3.5 0.3 1.5 0.2 2.1 0.3 -0.9 0.3 1.1 0.3 1.3 0.2 1.7 0.3 -3.5 0.3 4.8 0.2 1.9 0.3 -1.7 0.3 -0.5 0.2 2.2 0.3 -4.3 0.3 3.7 0.2 -2.6 0.3 -4 0.3 2.4 0.2 -1.8 0.3 0.5 0.3 1.5 0.2 -0.7 0.3 -0.9 0.3 -2.3 0.2 3.6 0.3 -2.1 0.3 -0.6 0.2 0.6 0.3 2.7 0.3 -4.7 0.2 -2.6 0.3 2.3 0.3 3.8 0.2 -5.6 0.3 -2.5 0.3 7.4 0.2 0.4 0.3 -5.5 0.3 0.6 0.2 -0.9 0.3 -0.6 0.3 1.7 0.2 2.8 0.3 0.5 0.3 -0.6 0.2 -0.4 0.3 -0.4 0.3 -3.1 0.2 1.2 0.3 0.7 0.3 -0.3 0.2 4.7 0.3 0.3 0.3 -0.2 0.2 4.6 0.3 -4.3 0.3 -3 0.3 -0 0.2 2.2 0.3 0.1 0.3 0.1 0.2 -3.2 0.3 -0.4 0.3 3.3 0.2 -5.1 0.3 -1.2 0.3 2.3 0.2 -0.9 0.3 -1.9 0.3 5 0.2 -0.8 0.3 -0.7 0.3 2.7 0.2 0.1 0.3 -2.4 0.3 0.9 0.2 6.3 0.3 -3.4 0.3 3.6 0.2 1.8 0.3 -6.4 0.3 -1 0.2 -1.7 0.3 0.3 0.3 2.7 0.2 1.2 0.3 -3.1 0.3 0.3 0.2 3.2 0.3 -2.1 0.3 -3.1 0.2 6.4 0.3 -6.1 0.3 -1.1 0.2 1.9 0.3 -4.6 0.3 4.4 0.2 -0.7 0.3 1.9 0.3 6.1 0.2 -1.3 0.3 -4.2 0.3 0.7 0.2 -9.1 0.3 2.7 0.3 -1.5 0.2 5.4 0.3 -1.7 0.3 3.6 0.3 2.8 0.2 -5.3 0.3 3.3 0.3 -5 0.2 3.6 0.3 -5.8 0.3 0.2 0.2 2.2 0.3 2.8 0.3 -4.5 0.2 4.6 0.3 -0 0.3 -0.3 0.2 -0.6 0.3 -1.7 0.3 1.7 0.2 -2.4 0.3 4.9 0.3 -0.6 0.2 5.8 0.3 -0.6 0.3 -2.6 0.2 -4.6 0.3 5.6 0.3 -3.3 0.2 -3.7 0.3 4.8 0.3 -0.3 0.2 0.8 0.3 1.4 0.3 0.6 0.2 1 0.3 -3.5 0.3 -3.8 0.2 1.3 0.3 -5.5 0.3 4.6 0.2 0.1 0.3 1.3 0.3 3.8 0.2 -0.2 0.3 1.6 0.3 1.1 0.2 -3.6 0.3 -4.1 0.3 -1.5 0.2 -0.3 0.3 -0.9 0.3 5.1 0.3 3.4 0.2 -3.4 0.3 -0 0.3 1.3 0.2 -6.2 0.3 0.7 0.3 -1.8 0.2 1.8 0.3 2.7 0.3 -1.4 0.2 -0.8 0.3 4.6 0.3 -2.3 0.2 -7.8 0.3 10 0.3 -5.5 0.2 2.3 0.3 -1 0.3 2 0.2 1.5 0.3 -5.3 0.3 2.7 0.2 -0 0.3 -2.6 0.3 1.4 0.2 -2.1 0.3 3.2 0.3 2.3 0.2 -2.8 0.3 5.1 0.3 2.6 0.2 -7.9 0.3 0.6 0.3 -1.2 0.2 1.1 0.3 -2.7 0.3 5 0.2 1.4 0.3 -3.3 0.3 -2.9 0.2 2.9 0.3 -4 0.3 2 0.2 1.8 0.3 1.6 0.3 -1.6 0.2 3.1 0.3 0.7 0.3 3.6 0.2 -1.1 0.3 -0.3 0.3 -3.8 0.3 1.1 0.2 -0 0.3 -3 0.3 4.8 0.2 -1.4 0.3 3.8 0.3 -1.3 0.2 -2.2 0.3 -1.8 0.3 3.5 0.2 -0.1 0.3 -2.9 0.3 0.9 0.2 3.5 0.3 -0.5 0.3 -1.4 0.2 -2.7 0.3 1.7 0.3 -7.7 0.2 3.8 0.3 7.4 0.3 -2.3 0.2 -2.5 0.3 -0.1 0.3 -0.9 0.2 2.1 0.3 -3.8 0.3 -5.1 0.2 1 0.3 1.8 0.3 -0.5 0.2 -1.2 0.3 0.8 0.3 0.7 0.2 -1.1 0.3 3.4 0.3 1.8 0.2 -1.2 0.3 2.9 0.3 -2.5 0.2 0.5 0.3 -1 0.3 4.5 0.2 -3.2 0.3 1.8 0.3 -1.3 0.2 -2.2 0.3 0.7 0.3 0.9 0.3 0.6 0.2 -0.9 0.3 2.9 0.3 0.5 0.2 3.5 0.3 2.7 0.3 -1.6 0.2 -2.4 0.3 -3.4 0.3 5.7 0.2 -6 0.3 0.6 0.3 2.9 0.2 -0.8 0.3 -1 0.3 -0 0.2 0.6 0.3 -0.7 0.3 0.4 0.2 -1.3 0.3 3.2 0.3 -1.9 0.2 1.8 0.3 -4.8 0.3 5.1 0.2 -6.9 0.3 4.7 0.3 0.7 0.2 -2.9 0.3 -1.1 0.3 1.2 0.2 -0.4 0.3 -6.3 0.3 3.3 0.2 2.8 0.3 1 0.3 -3.8 0.2 3.8 0.3 0.6 0.3 -0.4 0.2 4.8 0.3 -1.6 0.3 2.7 0.2 -1.9 0.3 -2.6 0.3 1.8 0.2 -3.1 0.3 1.4 0.3 -0.5 0.2 2.9 0.3 -1 0.3 -1.8 0.3 1.7 0.2 -4.7 0.3 0.8 0.3 3.8 0.2 -0.9 0.3 3.3 0.3 3.6 0.2 -4.2 0.3 0.7 0.3 -5.3 0.2 0.2 0.3 -3 0.3 -1.4 0.2 -3 0.3 4 0.3 -0.7 0.2 0.4 0.3 -1.3 0.3 3.5 0.2 -2.8 0.3 1.4 0.3 2.8 0.2 2.5 0.3 -0.5 0.3 1 0.2 -1.9 0.3 -8.1 0.3 2.8 0.2 -2.7 0.3 2.8 0.3 -0.3 0.2 2.3 0.3 -3.7 0.3 3.7 0.2 -3.9 0.3 -2.2 0.3 4.1 0.2 -2.5 0.3 2.5 0.3 1.4 0.2 -0.6 0.3 -1.8 0.3 -3.9 0.2 3.9 0.3 -2.5 0.3 4.9 0.2 -3.1 0.3 6.5 0.3 0.3 0.2 2.2 0.3 0.3 0.3 0.1 0.3 -3.1 0.2 -1.8 0.3 -2 0.3 1.8 0.2 -1.2 0.3 -3.3 0.3 4.5 0.2 1.2 0.3 -1 0.3 -2.4 0.2 -2 0.3 1.9 0.3 -0.4 0.2 -0.9 0.3 1.4 0.3 2.2 0.2 -2 0.3 3.2 0.3 2.5 0.2 -2 0.3 1.6 0.3 0.9 0.2 -1.1 0.3 -0.2 0.3 -1.4 0.2 1.2 0.3 -0.5 0.3 -2.5 0.2 3.5 0.3 -3.6 0.3 -2.9 0.2 -2.3 0.3 -1.4 0.3 1.1 0.2 2.5 0.3 2.1 0.3 -1 0.2 5.3 0.3 3 0.3 -6.5 0.2 2.6 0.3 -3.3 0.3 -3.4 0.2 1.7 0.3 -3.2 0.3 6.4 0.2 -1.9 0.3 -0.8 0.3 1.8 0.3 5.7 0.2 -0.8 0.3 -0.3 0.3 1.5 0.2 1.4 0.3 -4 0.3 -6.1 0.2 0.5 0.3 -0.9 0.3 1.6 0.2 1.2 0.3 3.6 0.3 -2.9 0.2 -0.8 0.3 -2 0.3 2.7 0.2 -0.1 0.3 3.7 0.3 -3.6 0.2 -1.6 0.3 -0 0.3 5.8 0.2 1.2 0.3 2 0.3 -4.3 0.2 -3.9 0.3 -0.8 0.3 4.9 0.2 -4.6 0.3 1.1 0.3 -5.2 0.2 3.6 0.3 -1.5 0.3 0.5 0.2 1.9 0.3 0.3 0.3 -1.8 0.2 0.3 0.3 -2.3 0.3 -0.7 0.2 -1.7 0.3 -1.1 0.3 3.1 0.2 2 0.3 3.7 0.3 -1.7 0.2 1.1 0.3 2.3 0.3 -0.6 0.2 1.8 0.3 -4.6 0.3 -0.3 0.3 -1.5 0.2 3.3 0.3 -7.1 0.3 7.5 0.2 -0.6 0.3 -1.8 0.3 2.3 0.2 -3.1 0.3 2.9 0.3 -1.1 0.2 -2.9 0.3 -2.1 0.3 3 0.2 0.3 0.3 0.8 0.3 -0.8 0.2 -1 0.3 -1.1 0.3 -0.5 0.2 -0.4 0.3 1.2 0.3 -2.7 0.2 4.1 0.3 -0.6 0.3 -5.5 0.2 7.1 0.3 -1.4 0.3 0.6 0.2 2.8 0.3 2.4 0.3 0.5 0.2 -1.5 0.3 2.3 0.3 -4.6 0.2 -1.6 0.3 -3.9 0.3 3.5 0.2 -3.3 0.3 2.9 0.3 -2 0.2 2.6 0.3 -1.3 0.3 0.2 0.2 -1.3 0.3 1 0.3 -0.9 0.2 6.6 0.3 4.2 0.3 -4.9 0.3 1.1 0.2 -1.5 0.3 -1 0.3 2.3 0.2 1.4 0.3 -1.6 0.3 -3.7 0.2 0.4 0.3 -4 0.3 -3.4 0.2 5.1 0.3 2.1 0.3 -0.3 0.2 -1.7 0.3 1.5 0.3 -2.1 0.2 1.3 0.3 2.7 0.3 -0.7 0.2 3.5 0.3 -2.4 0.3 -0.9 0.2 -4.9 0.3 0.1 0.3 4 0.2 -2.8 0.3 -4.1 0.3 5.9 0.2 -0 0.3 -2.1 0.3 1.8 0.2 3.5 0.3 -2.7 0.3 2.5 0.2 -2.2 0.3 0.8 0.3 1.8 0.2 -2.9 0.3 -1 0.3 -2.7 0.2 1.8 0.3 -6.8 0.3 4.3 0.2 2.4 0.3 1.5 0.3 2.8 0.2 -1.6 0.3 -4.3 0.3 0.4 0.2 2.4 0.3 2.6 0.3 0.6 0.3 3.3 0.2 -0.9 0.3 -7.3 0.3 -1.1 0.2 0.9 0.3 2.8 0.3 -3.2 0.2 3.4 0.3 -3.1 0.3 6.5 0.2 -5.1 0.3 0.7 0.3 2.3 0.2 2.7 0.3 -1.7 0.3 4.8 0.2 -4.3 0.3 -4.4 0.3 -1.2 0.2 -0.5 0.3 2.7 0.3 -2.8 0.2 0.5 0.3 1.8 0.3 -4.3 0.2 1.9 0.3 -0.8 0.3 -3 0.2 -2.7 0.3 4.1 0.3 -1.3 0.2 1.3 0.3 -0.3 0.3 4.7 0.2 -6 0.3 0.6 0.3 1.7 0.2 1.2 0.3 -1.4 0.3 2.5 0.2 -0.5 0.3 -0.3 0.3 0.2 0.2 0.5 0.3 0.4 0.3 -2.7 0.2 -5.1 0.3 0.8 0.3 1.8 0.2 0.8 0.3 3 0.3 2.4 0.3 -5.4 0.2 3.1 0.3 0.9 0.3 -4.4 0.2 1 0.3 1 0.3 3 0.2 -0.8 0.3 -5.6 0.3 2.9 0.2 3.9 0.3 -8.7 0.3 5.9 0.2 0.3 0.3 -3.4 0.3 -1.5 0.2 -1.5 0.3 7.3 0.3 -5.8 0.2 3.1 0.3 -6.2 0.3 5.1 0.2 -3.2 0.3 1.8 0.3 -0.8 0.2 0.4 0.3 1.7 0.3 1.6 0.2 0.7 0.3 -4 0.3 1.9 0.2 -10.4 0.3 6.2 0.3 -3.3 0.2 3.7 0.3 2.8 0.3 0.2 0.2 -4.7 0.3 2 0.3 -1.2 0.2 3.8 0.3 -6.1 0.3 4.4 0.2 4.7 0.3 -6.6 0.3 -3.2 0.2 2.2 0.3 -1.1 0.3 -2.5 0.3 1.3 0.2 3.7 0.3 -4 0.3 3.9 0.2 -5.1 0.3 6.6 0.3 1.7 0.2 -6.7 0.3 -2.4 0.3 1.1 0.2 1.3 0.3 3.3 0.3 -1 0.2 4.4 0.3 -6.1 0.3 2.1 0.2 -4 0.3 -2.7 0.3 -2.4 0.2 -3.4 0.3 4.8 0.3 -3.4 0.2 5 0.3 -3.6 0.3 2.4 0.2 -2.9 0.3 -2.2 0.3 -3.6 0.2 6 0.3 -2.3 0.3 -1.9 0.2 -5 0.3 4.8 0.3 -3.8 0.2 4.3 0.3 0.9 0.3 2.6 0.2 -3.2 0.3 -3.5 0.3 2 0.2 5.1 0.3 -5.5 0.3 -9.8 0.2 -0.2 0.3 1 0.3 -5.6 0.2 3.5 0.3 2.4 0.3 -8.4 0.2 3.4 0.3 -0.5 0.3 1.6 0.3 2.8 0.2 -8.8 0.3 5.8 0.3 2.8 0.2 -5.5 0.3 -5.7 0.3 4.6 0.2 -5 0.3 2.7 0.3 2.2 0.2 6.8 0.3 -11.3 0.3 6.6 0.2 -6.5 0.3 2.9 0.3 -12.1 0.2 6.8 0.3 -4.3 0.3 4.1 0.2 -4.4 0.3 4.5 0.3 -8.2 0.2 1.1 0.3 5.2 0.3 -4.6 0.2 -4.9 0.3 1.6 0.3 -4.3 0.2 -1.2 0.3 -1.8 0.3 -8 0.2 6 0.3 -4.5 0.3 1.6 0.2 -0.5 0.3 -2 0.3 -7 0.2 4.5 0.3 -5 0.3 -1.7 0.2 -4.2 0.3 -1 0.3 -8.4 0.2 3 0.3 -2.4 0.3 0.1 0.2 -0.8 0.3 1.3 0.3 2.2 0.3 -7.6 0.2 2.2 0.3 -4.1 0.3 5.4 0.2 -7.7 0.3 -0.5 0.3 3.1 0.2 -8.1 0.3 -2.4 0.3 -6.1 0.2 -0.4 0.3 5.6 0.3 -2.8 0.2 3.6 0.3 -6 0.3 -4.8 0.2 -8.1 0.3 -1.1 0.3 -0.4 0.2 -6.7 0.3 -3 0.3 -6.8 0.2 -3.1 0.3 0.7 0.3 -0.3 0.2 5.3 0.3 3.2 0.3 -5.3 0.2 -5.9 0.3 5.2 0.3 -4.6 0.2 1.8 0.3 -3.7 0.3 6.7 0.2 -7.4 0.3 4.2 0.3 -11.7 0.2 2.2 0.3 -4.4 0.3 -5.1 0.2 4.4 0.3 1.7 0.3 -3.2 0.2 -0.9 0.3 4.4 0.3 4.2 0.2 -1.4 0.3 1.8 0.3 -2.6 0.2 4 0.3 2 0.3 0.8 0.3 4.9 0.2 -11.3 0.3 -0.3 0.3 -3.4 0.2 5.8 0.3 1.2 0.3 -4.4 0.2 3 0.3 4.3 0.3 -2.4 0.2 -2.8 0.3 10.3 0.3 7.7 0.2 -1.6 0.3 6.5 0.3 -6.5 0.2 7.5 0.3 -5.9 0.3 4.6 0.2 0.6 0.3 4.9 0.3 1 0.2 4.3 0.3 1.6 0.3 0.7 0.2 -3.8 0.3 11.7 0.3 -2.4 0.2 9.7 0.3 1.1 0.3 -1.3 0.2 2.8 0.3 2.4 0.3 -3.4 0.2 2.3 0.3 -0.5 0.3 1.7 0.2 -4.9 0.3 13.8 0.3 -2.5 0.2 -1.6 0.3 1.3 0.3 0.7 0.2 6.6 0.3 -4.6 0.3 5.5 0.2 8.5 0.3 -1.3 0.3 8.7 0.2 8.8 0.3 -5.2 0.3 -0 0.3 3.8 0.2 1.8 0.3 2.9 0.3 2.8 0.2 -4.3 0.3 7.2 0.3 -7.2 0.2 4.5 0.3 1.6 0.3 4 0.2 -7.9 0.3 6.5 0.3 -0.9 0.2 1.4 0.3 1.9 0.3 7.8 0.2 1.4 0.3 -0.7 0.3 2.2 0.2 0.2 0.3 1.5 0.3 1.6 0.2 -5.3 0.3 5.1 0.3 -0.9 0.2 2.6 0.3 1.4 0.3 -2.2 0.2 -4.2 0.3 -0 0.3 1.1 0.2 4.6 0.3 7 0.3 0.7 0.2 3.3 0.3 3.9 0.3 -4 0.2 -6.1 0.3 4.6 0.3 -6.6 0.2 2.4 0.3 0.6 0.3 1.9 0.2 0.7 0.3 -1.9 0.3 4 0.2 0.9 0.3 0.8 0.3 -2.4 0.3 4.3 0.2 3 0.3 -2.3 0.3 1.7 0.2 -0.9 0.3 -0.3 0.3 -2.8 0.2 4.6 0.3 4.6 0.3 1.4 0.2 -6.3 0.3 4.2 0.3 0.3 0.2 3.1 0.3 3.2 0.3 -1.9 0.2 -0.4 0.3 3.5 0.3 -0.5 0.2 3.9 0.3 -7 0.3 -0 0.2 -3.7 0.3 -2.1 0.3 2.5 0.2 -0.8 0.3 1.9 0.3 -0.9 0.2 3 0.3 2.6 0.3 -0.4 0.2 4.4 0.3 -4.2 0.3 1 0.2 -2.1 0.3 1.1 0.3 2.2 0.2 -1.6 0.3 2.9 0.3 -3.6 0.2 1.7 0.3 0.1 0.3 -0.5 0.2 0.9 0.3 -1.9 0.3 -1.4 0.2 -2.2 0.3 -0.1 0.3 2 0.2 -0 0.3 5.8 0.3 -2.2 0.3 -0.2 0.2 -1.1 0.3 1.5 0.3 1.3 0.2 -0.9 0.3 1.4 0.3 0.9 0.2 -2.4 0.3 -3.2 0.3 7.9 0.2 -3.2 0.3 0.3 0.3 1.9 0.2 -0.1 0.3 3.6 0.3 -2.4 0.2 2.8 0.3 -1.7 0.3 2.9 0.2 -4.2 0.3 5.2 0.3 -1.3 0.2 -3.5 0.3 -4.2 0.3 -1.5 0.2 -0.4 0.3 1.2 0.3 0.5 0.2 0.3 0.3 5 0.3 0.4 0.2 3.8 0.3 -4.4 0.3 1.3 0.2 -2.3 0.3 1.4 0.3 4 0.2 -0.9 0.3 -0.6 0.3 3.5 0.2 -4.8 0.3 -4.2 0.3 -1.8 0.2 0.6 0.3 3.1 0.3 -3 0.2 3.1 0.3 1.1 0.3 -0.5 0.3 7.4 0.2 -3.4 0.3 -1.8 0.3 1 0.2 -5.2 0.3 2.1 0.3 -2.6 0.2 -0.7 0.3 -1.5 0.3 4.4 0.2 -0.5 0.3 -1.3 0.3 -1.8 0.2 2.8 0.3 -1.5 0.3 3.8 0.2 2.5 0.3 4.8 0.3 -1.8 0.2 -2.2 0.3 0.2 0.3 -2.8 0.2 0.7 0.3 -2.6 0.3 0.5 0.2 -4.3 0.3 -2.1 0.3 -1.7 0.2 -2.1 0.3 1.7 0.3 -0 0.2 -1.6 0.3 2 0.3 4.6 0.2 -4.9 0.3 2.8 0.3 4.7 0.2 -5.3 0.3 0.9 0.3 4.3 0.2 -1.6 0.3 -0 0.3 -0 0.2 3.9 0.3 -0.6 0.3 1.6 0.2 -4.7 0.3 1.5 0.3 -4.5 0.2 -2.6 0.3 0.3 0.3 1.8 0.3 -1.5 0.2 0.3 0.3 -0.7 0.3 -2 0.2 -1.5 0.3 2.8 0.3 1.3 0.2 -2.5 0.3 -5.2 0.3 1.4 0.2 3 0.3 3.3 0.3 6.7 0.2 0.9 0.3 0.8 0.3 -2.2 0.2 -2.5 0.3 -0.2 0.3 -1.9 0.2 -6.8 0.3 4.2 0.3 0.2 0.2 -0.7 0.3 -1.7 0.3 -1.1 0.2 8.2 0.3 -4.1 0.3 2.3 0.2 6.5 0.3 -0.7 0.3 -1.5 0.2 -5.9 0.3 -3.1 0.3 -3.2 0.2 2 0.3 -4.2 0.3 -1.2 0.2 2 0.3 -1.4 0.3 -1 0.2 9.7 0.3 -9 0.3 2.8 0.2 0.5 0.3 -1.6 0.3 -2.6 0.2 4.8 0.3 -3.7 0.3 0.2 0.2 3.2 0.3 1.4 0.3 -0.4 0.3 5.4 0.2 -3.8 0.3 -4.3 0.3 2.2 0.2 -2.8 0.3 1.9 0.3 -2.2 0.2 3.3 0.3 -6.9 0.3 -0 0.2 5.3 0.3 -0.6 0.3 1.3 0.2 5 0.3 -0.5 0.3 5.4 0.2 -5 0.3 2.8 0.3 -2.4 0.2 -1.1 0.3 -4.7 0.3 -2.5 0.2 -0.2 0.3 -0.8 0.3 1.5 0.2 2.1 0.3 -0.1 0.3 -2.1 0.2 3.4 0.3 2.4 0.3 -4.1 0.2 3.8 0.3 -1.6 0.3 4 0.2 -4.1 0.3 -3.9 0.3 5.3 0.2 1 0.3 1.1 0.3 0.4 0.2 2.4 0.3 -1.4 0.3 -0.5 0.2 3.1 0.3 -0.5 0.3 -2.7 0.2 4.7 0.3 -3.1 0.3 -3.2 0.3 2.2 0.2 -1.1 0.3 -2.9 0.3 1.4 0.2 1 0.3 3.6 0.3 -0.1 0.2 -0.9 0.3 0.1 0.3 -4.4 0.2 2.5 0.3 0.4 0.3 -3.3 0.2 1.4 0.3 3 0.3 2.5 0.2 2.8 0.3 -0.3 0.3 -3 0.2 -4.6 0.3 -3.1 0.3 1.9 0.2 -1.3 0.3 4.4 0.3 6.9 0.2 -6.3 0.3 5.5 0.3 2.1 0.2 -3.6 0.3 0.2 0.3 4.4 0.2 1.5 0.3 -2.7 0.3 -1.2 0.2 -4.2 0.3 0.5 0.3 -0.2 0.2 -6.5 0.3 3.8 0.3 4.5 0.2 -2.7 0.3 1 0.3 -2.6 0.2 -0.1 0.3 -2.8 0.3 5.8 0.2 -1.2 0.3 6.6 0.3 -2.1 0.2 -0.6 0.3 -1.5 0.3 -1.8 0.3 1.5 0.2 5.1 0.3 -3.7 0.3 2.1 0.2 2.1 0.3 2.6 0.3 -1.7 0.2 -2.4 0.3 0.1 0.3 -1.9 0.2 3 0.3 7.8 0.3 -3 0.2 -4.1 0.3 -3.4 0.3 -2 0.2 -0.7 0.3 -0.3 0.3 -0 0.2 3.8 0.3 -2.7 0.3 -2 0.2 0.1 0.3 6.8" stroke="#c0504d" stroke-width="4.3" stroke-linecap="round" stroke-dasharray="0.01 9.1"/>
<path d="M146.0 658.1 l 0.3 5.6 0.3 -5.4 0.2 2 0.3 -2.4 0.3 -1.9 0.2 3.3 0.3 -3.2 0.3 -1.1 0.2 -5.4 0.3 7.1 0.3 2 0.2 -0.4 0.3 1.3 0.3 -0.4 0.2 -0.2 0.3 -1.7 0.3 2.3 0.2 -1.5 0.3 2.4 0.3 -2.6 0.2 -1.4 0.3 -0.2 0.3 1.5 0.2 -1.1 0.3 -2.6 0.3 -2.8 0.2 5.9 0.3 -0.2 0.3 -1.9 0.2 4.2 0.3 0 0.3 -1.3 0.2 1.7 0.3 3 0.3 -1.4 0.2 3.9 0.3 -9 0.3 2.3 0.2 -2 0.3 -2.5 0.3 -1.3 0.2 3.4 0.3 0.5 0.3 -1.2 0.2 -0.8 0.3 -3.3 0.3 1.3 0.2 0.9 0.3 -2.3 0.3 2.9 0.2 2.9 0.3 -3 0.3 1.2 0.3 3.2 0.2 -0.4 0.3 -2.5 0.3 4.4 0.2 -5.1 0.3 1.9 0.3 2.4 0.2 -1.8 0.3 1.6 0.3 -3.3 0.2 3.2 0.3 1.5 0.3 -3.5 0.2 -2.3 0.3 5.9 0.3 -3.2 0.2 -1.9 0.3 0.9 0.3 -1.2 0.2 3.4 0.3 -0.8 0.3 4.4 0.2 -1.7 0.3 2.8 0.3 2.1 0.2 0 0.3 -7.4 0.3 1.4 0.2 -1.6 0.3 -2.2 0.3 1.8 0.2 4.1 0.3 -1.5 0.3 -0.1 0.2 -3 0.3 4.1 0.3 -2.6 0.2 1.6 0.3 -0.4 0.3 -1.4 0.2 0.8 0.3 2.3 0.3 -3.4 0.2 -2 0.3 1.8 0.3 3.5 0.2 -0.6 0.3 -1.8 0.3 1.1 0.2 -3 0.3 4.1 0.3 -2.2 0.3 2.7 0.2 -3.1 0.3 -0.1 0.3 -5.1 0.2 1.2 0.3 -2.5 0.3 7.5 0.2 -2.7 0.3 -0.6 0.3 -0.8 0.2 3.9 0.3 -5.2 0.3 1.6 0.2 5.5 0.3 1.6 0.3 -1.5 0.2 -2.6 0.3 0.2 0.3 -3.9 0.2 1.4 0.3 2.8 0.3 2.9 0.2 -4.2 0.3 0.1 0.3 -2.1 0.2 0.1 0.3 -2.9 0.3 -0.2 0.2 -0.5 0.3 1.9 0.3 2.3 0.2 2.1 0.3 -0.7 0.3 -1.2 0.2 -1.1 0.3 -3.3 0.3 -4 0.2 5 0.3 2.9 0.3 1.9 0.2 2.9 0.3 -2.8 0.3 1.3 0.2 0.6 0.3 0.3 0.3 0.1 0.2 -0.4 0.3 1.2 0.3 -3.2 0.3 1.1 0.2 0.9 0.3 -1.7 0.3 -0.1 0.2 -0.7 0.3 -4.6 0.3 1.8 0.2 -1.9 0.3 -2.6 0.3 1.4 0.2 -1.1 0.3 8.2 0.3 -3.5 0.2 4.6 0.3 0.6 0.3 -0.6 0.2 0.2 0.3 1.3 0.3 1.2 0.2 -4.2 0.3 3.3 0.3 -2.7 0.2 -4.5 0.3 0.7 0.3 -2.9 0.2 3.7 0.3 -0.4 0.3 6.7 0.2 3.1 0.3 0 0.3 -0.5 0.2 0.5 0.3 -2.9 0.3 -3.6 0.2 -3.6 0.3 2.4 0.3 -2 0.2 6.6 0.3 2.6 0.3 -1.6 0.2 1.1 0.3 -4.6 0.3 -3 0.2 0.1 0.3 -0.1 0.3 -3.5 0.2 3.4 0.3 -0.4 0.3 1.3 0.2 3.3 0.3 -2.2 0.3 4.2 0.3 -3.6 0.2 1.5 0.3 -2.5 0.3 2.7 0.2 1.3 0.3 -2.6 0.3 2.8 0.2 -3.1 0.3 -2.7 0.3 -0.9 0.2 -0.5 0.3 1.2 0.3 -2.2 0.2 4.9 0.3 -2.8 0.3 1.8 0.2 -5.4 0.3 1.9 0.3 5.6 0.2 -2.7 0.3 1.2 0.3 0.4 0.2 -1.7 0.3 -0.2 0.3 1.3 0.2 -2.7 0.3 1.9 0.3 -1.1 0.2 5.1 0.3 -2.8 0.3 -0.5 0.2 3.1 0.3 -1.6 0.3 -3.5 0.2 1.8 0.3 -4.6 0.3 2.6 0.2 -0.1 0.3 1.2 0.3 -1.2 0.2 -2.3 0.3 3.3 0.3 1 0.2 -2 0.3 0.4 0.3 -6.9 0.2 3.8 0.3 -0.4 0.3 1.2 0.3 0.6 0.2 5.2 0.3 -5.8 0.3 4.3 0.2 1.3 0.3 -0.3 0.3 2.5 0.2 -1.8 0.3 -0.3 0.3 -0.4 0.2 -0.5 0.3 -3.3 0.3 2.3 0.2 -0.9 0.3 1.6 0.3 0.8 0.2 2.5 0.3 -0.1 0.3 0.6 0.2 -1.9 0.3 -3 0.3 -1.5 0.2 2.8 0.3 -2 0.3 2 0.2 -0.2 0.3 3.7 0.3 -2.8 0.2 -1.1 0.3 0.9 0.3 -6.3 0.2 0.5 0.3 2.5 0.3 -2 0.2 7.8 0.3 1.7 0.3 -5.1 0.2 1 0.3 -2.6 0.3 -0.1 0.2 -2.2 0.3 2.5 0.3 6.7 0.2 -2.9 0.3 -1.7 0.3 1.2 0.2 -0.4 0.3 -2.8 0.3 2.3 0.2 2.1 0.3 -3 0.3 -1.1 0.3 0.4 0.2 -4.4 0.3 -0.4 0.3 3.5 0.2 1.6 0.3 2.9 0.3 -2.8 0.2 -3 0.3 1.6 0.3 -0.8 0.2 0.9 0.3 -1 0.3 0.6 0.2 0 0.3 1.1 0.3 0.2 0.2 -1.7 0.3 1.1 0.3 0 0.2 0 0.3 1.5 0.3 -2.6 0.2 3.1 0.3 2.5 0.3 -4.6 0.2 0.2 0.3 -0.3 0.3 -0.6 0.2 2.4 0.3 2.4 0.3 -6 0.2 0.5 0.3 -4.6 0.3 6.5 0.2 1 0.3 -3 0.3 6.3 0.2 -4.5 0.3 -6.2 0.3 4.7 0.2 -0.8 0.3 0 0.3 -0.3 0.2 5 0.3 -5.1 0.3 -1.3 0.2 -2.9 0.3 6.5 0.3 -1.9 0.2 0.3 0.3 3.7 0.3 -2.4 0.3 -1.1 0.2 1.7 0.3 2.5 0.3 -1 0.2 4.7 0.3 -0.9 0.3 -7.4 0.2 1.8 0.3 -1.7 0.3 1.3 0.2 -4.5 0.3 1.3 0.3 3.3 0.2 -3.2 0.3 0 0.3 -0.1 0.2 2.2 0.3 -3.9 0.3 3.5 0.2 1.6 0.3 -1.4 0.3 -1 0.2 -0.2 0.3 0.7 0.3 -1.5 0.2 3.2 0.3 0.9 0.3 -0.7 0.2 2.5 0.3 2.9 0.3 -4.4 0.2 0.1 0.3 2.3 0.3 0.1 0.2 2.8 0.3 -0.6 0.3 0.8 0.2 -5.3 0.3 0.6 0.3 -1.1 0.2 2.2 0.3 -4.7 0.3 -2.8 0.2 1.5 0.3 2 0.3 -1.9 0.2 0.8 0.3 -1.2 0.3 0.5 0.3 0.6 0.2 -3 0.3 0 0.3 3 0.2 -1 0.3 1.8 0.3 -0.3 0.2 6.8 0.3 -4.8 0.3 -3.1 0.2 2.7 0.3 1.4 0.3 -1 0.2 0.1 0.3 1.6 0.3 -0.4 0.2 -5.9 0.3 -0.7 0.3 2.8 0.2 -2.3 0.3 -0.1 0.3 0.6 0.2 4.3 0.3 -0.3 0.3 0.5 0.2 1.5 0.3 -1.8 0.3 1 0.2 1.7 0.3 4.6 0.3 -3.6 0.2 3.2 0.3 -6.6 0.3 3.8 0.2 -2.3 0.3 -1 0.3 4.2 0.2 0.6 0.3 -5 0.3 -1 0.2 -0.7 0.3 -2.9 0.3 0 0.2 5.8 0.3 -1.4 0.3 0 0.2 -2.9 0.3 -0.2 0.3 1.7 0.2 0.9 0.3 -0.2 0.3 0 0.3 2.8 0.2 -4.3 0.3 2 0.3 2.4 0.2 -3 0.3 -0.8 0.3 -3.8 0.2 -0.7 0.3 4.1 0.3 0.3 0.2 1.6 0.3 -3 0.3 -2.4 0.2 2.8 0.3 -1.4 0.3 7.5 0.2 -1.5 0.3 -0.5 0.3 3.1 0.2 -5 0.3 -2.5 0.3 1.9 0.2 -0.1 0.3 -6.3 0.3 2.5 0.2 3.8 0.3 -0.5 0.3 -0.6 0.2 1.3 0.3 -2.2 0.3 0.4 0.2 0 0.3 1 0.3 4 0.2 -1.9 0.3 -2 0.3 -2 0.2 6.3 0.3 -6.1 0.3 2.1 0.2 -1.1 0.3 1.8 0.3 -3.1 0.2 2.4 0.3 -1.5 0.3 1.4 0.2 2.5 0.3 0.7 0.3 1.6 0.3 -1.7 0.2 1.7 0.3 -1.3 0.3 -3.5 0.2 1.2 0.3 -2.9 0.3 1.8 0.2 0.2 0.3 0.6 0.3 0.5 0.2 0.4 0.3 -4.2 0.3 1.3 0.2 3.2 0.3 2.1 0.3 -3.1 0.2 0.1 0.3 1.5 0.3 2.8 0.2 -3.6 0.3 2.3 0.3 -0.7 0.2 -2.1 0.3 -1.1 0.3 1.8 0.2 5 0.3 -8.4 0.3 3.7 0.2 1.9 0.3 -0.3 0.3 -2.8 0.2 1.4 0.3 0.3 0.3 -6.6 0.2 0.1 0.3 -1.2 0.3 2.7 0.2 -0.8 0.3 0.7 0.3 1.8 0.2 0.9 0.3 -1.1 0.3 4 0.2 0.6 0.3 -8.7 0.3 2.9 0.2 0.6 0.3 -3.9 0.3 4.7 0.2 -1.2 0.3 -4.7 0.3 0.8 0.3 6 0.2 1 0.3 -2.4 0.3 -3.1 0.2 4.6 0.3 0 0.3 -3 0.2 4.3 0.3 -0.9 0.3 -1 0.2 0.6 0.3 3.2 0.3 1.3 0.2 -3.5 0.3 1.6 0.3 -2.8 0.2 -5.8 0.3 6.5 0.3 2.3 0.2 -4 0.3 -0.7 0.3 1.3 0.2 -1.2 0.3 2.9 0.3 -0.7 0.2 -5 0.3 5.1 0.3 -2.3 0.2 4.2 0.3 1 0.3 0 0.2 -1.4 0.3 -2.6 0.3 1.7 0.2 -4.2 0.3 -0.3 0.3 -0.6 0.2 -2.6 0.3 2.9 0.3 -1.1 0.2 -1.1 0.3 -0.1 0.3 1.2 0.2 3 0.3 -3.1 0.3 4.1 0.2 -1.9 0.3 0 0.3 -1.9 0.2 0.1 0.3 5.3 0.3 -1.4 0.3 -0.3 0.2 3.7 0.3 0.2 0.3 -5.3 0.2 3.3 0.3 4.4 0.3 -3.8 0.2 3.1 0.3 0.4 0.3 2.5 0.2 -4.3 0.3 1.8 0.3 -5.8 0.2 0.6 0.3 -2.9 0.3 -2.2 0.2 0.8 0.3 -1.1 0.3 -3.3 0.2 2.3 0.3 -1 0.3 2.7 0.2 2 0.3 -3.5 0.3 4.7 0.2 -3.3 0.3 4.2 0.3 -2.9 0.2 2.6 0.3 -1.6 0.3 -3.1 0.2 0.1 0.3 1.9 0.3 3.4 0.2 -0.9 0.3 1.2 0.3 -0.7 0.2 -3.7 0.3 -2 0.3 -1.7 0.2 0.2 0.3 -0.1 0.3 1.1 0.2 -2.3 0.3 1.5 0.3 -0.9 0.2 5.1 0.3 0.7 0.3 2.5 0.3 -1.2 0.2 3.6 0.3 -3.4 0.3 -0.8 0.2 -2.9 0.3 -0.1 0.3 2.3 0.2 -4 0.3 -2.3 0.3 -3.2 0.2 2.7 0.3 -2.6 0.3 -3.3 0.2 4.6 0.3 -2.2 0.3 3.2 0.2 1.9 0.3 -2.8 0.3 -0.6 0.2 3.1 0.3 0.5 0.3 3.6 0.2 -1.7 0.3 -2.6 0.3 3.4 0.2 -1.5 0.3 1.8 0.3 -6 0.2 0.9 0.3 0.6 0.3 1 0.2 2.3 0.3 -4.1 0.3 1.4 0.2 -0.5 0.3 -2.7 0.3 1.6 0.2 -4.2 0.3 1.6 0.3 0.8 0.2 1.2 0.3 4.1 0.3 3.2 0.2 -3.8 0.3 -3.9 0.3 -0.4 0.2 5.6 0.3 -0.4 0.3 -4.4 0.2 -0.6 0.3 -0.6 0.3 0 0.3 -4.9 0.2 9.3 0.3 -3.3 0.3 -5.5 0.2 3.4 0.3 -2.5 0.3 6.5 0.2 -5.2 0.3 5.5 0.3 -2.4 0.2 0.8 0.3 -0.8 0.3 -3 0.2 4.8 0.3 0.5 0.3 -3.2 0.2 -1.1 0.3 -3.1 0.3 -2.8 0.2 -1.6 0.3 2.5 0.3 0.7 0.2 0 0.3 0.5 0.3 5.6 0.2 -0.4 0.3 0.2 0.3 0.3 0.2 -6.4 0.3 3.8 0.3 -4.9 0.2 -1.1 0.3 5.8 0.3 -2.8 0.2 0.2 0.3 -2.5 0.3 -2.4 0.2 -4.1 0.3 2.2 0.3 0.5 0.2 -0.5 0.3 5 0.3 1.6 0.2 1.7 0.3 1.3 0.3 2.3 0.2 -1.3 0.3 -6.2 0.3 -1.3 0.3 0.2 0.2 0.3 0.3 1.8 0.3 5.6 0.2 -3 0.3 0.9 0.3 -3 0.2 -3.4 0.3 -5 0.3 3.7 0.2 1.6 0.3 0 0.3 -2.3 0.2 1.1 0.3 -1.3 0.3 1.5 0.2 -1.2 0.3 -1.2 0.3 3.9 0.2 -1.5 0.3 -7.9 0.3 3.4 0.2 5.6 0.3 -1.5 0.3 0.6 0.2 -1.6 0.3 -1.3 0.3 0.4 0.2 -4.6 0.3 0.8 0.3 0.2 0.2 3.4 0.3 2.8 0.3 1 0.2 0 0.3 -4.1 0.3 0.9 0.2 1.9 0.3 -1.3 0.3 -2.2 0.2 -3.5 0.3 2.8 0.3 -5.8 0.2 -2.1 0.3 3.6 0.3 -0.2 0.2 6.2 0.3 -3.2 0.3 5.2 0.2 -3.5 0.3 -1.8 0.3 -4.5 0.3 5.7 0.2 -1.9 0.3 0.8 0.3 -3 0.2 -0.9 0.3 1.7 0.3 -5.5 0.2 5.4 0.3 -2.9 0.3 3.9 0.2 3.3 0.3 -4.8 0.3 1.7 0.2 -3.4 0.3 -3.8 0.3 0.8 0.2 -3.1 0.3 4.4 0.3 -2.8 0.2 1.7 0.3 4.5 0.3 -0.3 0.2 -4.3 0.3 3.9 0.3 -1.9 0.2 1.3 0.3 1.1 0.3 0.4 0.2 -4.1 0.3 -2.4 0.3 -0.5 0.2 1.6 0.3 -3 0.3 3.1 0.2 -1.5 0.3 0.7 0.3 -2.2 0.2 6.6 0.3 1.1 0.3 -1.5 0.2 2 0.3 4.7 0.3 -5 0.2 0.2 0.3 -2.6 0.3 1.1 0.2 -5.1 0.3 1.8 0.3 -6.6 0.2 0 0.3 5.1 0.3 4.5 0.3 -2.7 0.2 -0.4 0.3 3.6 0.3 -3.1 0.2 1.7 0.3 0.1 0.3 -5 0.2 1.9 0.3 -0.4 0.3 6.5 0.2 -1.8 0.3 0.7 0.3 -4.1 0.2 3.3 0.3 -1 0.3 0.8 0.2 -2.7 0.3 3.1 0.3 1.6 0.2 -0.9 0.3 -3 0.3 -8 0.2 7.8 0.3 -2.1 0.3 -2.9 0.2 -3.1 0.3 3.9 0.3 -3.7 0.2 -1.3 0.3 -0.3 0.3 1 0.2 -4.7 0.3 4.9 0.3 -5.2 0.2 4.9 0.3 -2.2 0.3 3.4 0.2 3.1 0.3 -4.8 0.3 -0.2 0.2 -4.5 0.3 6.8 0.3 -12.8 0.2 0.2 0.3 4.2 0.3 -1.4 0.2 -3.9 0.3 5.5 0.3 0.1 0.3 -4.8 0.2 -0.4 0.3 3.9 0.3 1 0.2 -2.6 0.3 3.2 0.3 4.6 0.2 -7.3 0.3 0.4 0.3 -7.7 0.2 8.7 0.3 -0.6 0.3 -2.1 0.2 -6.3 0.3 1.8 0.3 -5 0.2 -2.3 0.3 -4 0.3 1.2 0.2 0.3 0.3 -4.3 0.3 0.1 0.2 10.6 0.3 -11.6 0.3 6.1 0.2 -1.1 0.3 9.5 0.3 -4.6 0.2 -3.5 0.3 -3.3 0.3 -4.7 0.2 -6.3 0.3 4.3 0.3 -1.1 0.2 -2.2 0.3 0.3 0.3 1.2 0.2 -1.7 0.3 -1 0.3 0 0.2 -2.8 0.3 -8.2 0.3 1.1 0.2 -2.8 0.3 5.4 0.3 -1.7 0.2 -2.2 0.3 6.5 0.3 -4.2 0.2 -0.1 0.3 -10.7 0.3 0.8 0.3 1.9 0.2 -5.3 0.3 -2 0.3 -3.2 0.2 -2 0.3 -1.3 0.3 -4.6 0.2 -5.1 0.3 0.6 0.3 0 0.2 -9.4 0.3 5 0.3 -2.4 0.2 -8.7 0.3 -10 0.3 -5 0.2 -3.4 0.3 -6.1 0.3 5.4 0.2 -7.4 0.3 -1.7 0.3 -8.4 0.2 -2.9 0.3 5 0.3 -14.7 0.2 8 0.3 -0.6 0.3 -11.7 0.2 -8 0.3 -3.3 0.3 2.5 0.2 -17.6 0.3 -5.6 0.3 0.8 0.2 -12.2 0.3 -6.6 0.3 -17.8 0.2 -7.6 0.3 1.2 0.3 -4.2 0.2 -2.8 0.3 -2.7 0.3 -7.9 0.2 -14.5 0.3 -10.8 0.3 -14.1 0.2 -6.2 0.3 -10.3 0.3 -11.1 0.3 -10.6 0.2 -10.3 0.3 -14.6 0.3 -10.1 0.2 -11.9 0.3 -11.7 0.3 -7.1 0.2 -20.9 0.3 -6.5 0.3 -12.6 0.2 -12.1 0.3 -3.6 0.3 -8.8 0.2 -18.6 0.3 -7.4 0.3 -21 0.2 -8.4 0.3 0.1 0.3 -11.7 0.2 -14.1 0.3 -2.2 0.3 -9.7 0.2 -7.1 0.3 -4.2 0.3 -4.9 0.2 -7.3 0.3 8.6 0.3 -0.8 0.2 12 0.3 7.2 0.3 6.2 0.2 -3.4 0.3 3.9 0.3 5 0.2 16.4 0.3 13.5 0.3 7.8 0.2 6.2 0.3 24.5 0.3 0.1 0.2 16.9 0.3 5.1 0.3 16.3 0.2 4 0.3 19.8 0.3 11.8 0.2 7.7 0.3 8.9 0.3 6.7 0.2 14.3 0.3 18.8 0.3 4.8 0.3 8.4 0.2 10.7 0.3 11.6 0.3 13.8 0.2 3.8 0.3 15.6 0.3 1.9 0.2 12.5 0.3 -0.7 0.3 8.6 0.2 3.2 0.3 8.5 0.3 3.1 0.2 11.3 0.3 5.8 0.3 10.5 0.2 5.3 0.3 7.8 0.3 8.6 0.2 -2 0.3 11.4 0.3 9 0.2 -0.2 0.3 9.6 0.3 -0.3 0.2 -0.7 0.3 2 0.3 2 0.2 0.1 0.3 4.3 0.3 13.3 0.2 4.3 0.3 -1.4 0.3 2.5 0.2 11.8 0.3 -1.7 0.3 1.2 0.2 3.3 0.3 -0.1 0.3 4 0.2 -2 0.3 4.4 0.3 1.2 0.2 1.3 0.3 10.9 0.3 3.5 0.2 3.9 0.3 3.9 0.3 1.3 0.2 4.3 0.3 -2 0.3 -5.9 0.3 -2 0.2 1.6 0.3 -2.9 0.3 1.5 0.2 6.9 0.3 4.1 0.3 -1.6 0.2 2.4 0.3 1.7 0.3 7.6 0.2 -3.2 0.3 1.9 0.3 -3.9 0.2 4.1 0.3 -0.9 0.3 -1 0.2 1 0.3 0.7 0.3 11.1 0.2 2.3 0.3 -7.4 0.3 -0.3 0.2 1.1 0.3 -2.4 0.3 1.3 0.2 2 0.3 6.5 0.3 -4.7 0.2 -0.5 0.3 2.3 0.3 -5 0.2 9.5 0.3 0.2 0.3 -1.7 0.2 5.9 0.3 1.5 0.3 -1.5 0.2 -1.5 0.3 -3.8 0.3 1.1 0.2 1.4 0.3 3.5 0.3 -2.7 0.2 1.1 0.3 1.5 0.3 0.8 0.2 0.3 0.3 1.1 0.3 3.7 0.3 2.2 0.2 -3.6 0.3 5.9 0.3 -0.4 0.2 -6.2 0.3 1.6 0.3 1.9 0.2 3.5 0.3 0.1 0.3 -1.9 0.2 3.4 0.3 -2 0.3 5 0.2 0.8 0.3 0.9 0.3 -0.4 0.2 -3.1 0.3 -1.8 0.3 2.3 0.2 -0.5 0.3 2.8 0.3 3.5 0.2 -2.6 0.3 -2.2 0.3 -5.5 0.2 -2 0.3 -2.1 0.3 6.5 0.2 -1.9 0.3 2.8 0.3 4.4 0.2 -5.1 0.3 -1.6 0.3 5.8 0.2 -1.1 0.3 -0.2 0.3 2.8 0.2 -3.3 0.3 2.7 0.3 0.3 0.2 0.8 0.3 -3.3 0.3 4 0.2 -4.1 0.3 4 0.3 -4.9 0.2 2.5 0.3 1.7 0.3 2.9 0.2 4.2 0.3 5.8 0.3 -1.2 0.3 2.4 0.2 -6 0.3 -4.6 0.3 2.2 0.2 -7 0.3 -0.8 0.3 1.7 0.2 -6.3 0.3 -0.4 0.3 5.3 0.2 7.6 0.3 -4.9 0.3 3 0.2 -2.4 0.3 -3.6 0.3 -2.5 0.2 -1.7 0.3 0.4 0.3 7 0.2 -6.4 0.3 5.5 0.3 -0.7 0.2 -2.3 0.3 1.4 0.3 -4.3 0.2 1.3 0.3 3.9 0.3 -2.9 0.2 -1.3 0.3 -3.8 0.3 -3.5 0.2 3.4 0.3 -2.3 0.3 5.7 0.2 4.4 0.3 4.1 0.3 2.5 0.2 -5.5 0.3 -5.3 0.3 -0.7 0.2 -6.1 0.3 0.6 0.3 2.4 0.2 -2.9 0.3 4.5 0.3 1.7 0.2 -5 0.3 2.5 0.3 2.3 0.3 -5.5 0.2 4 0.3 0.9 0.3 -1.5 0.2 -3 0.3 1.9 0.3 -4.1 0.2 -4.9 0.3 3.3 0.3 0.8 0.2 -3.7 0.3 -8.1 0.3 1.7 0.2 6 0.3 -8.8 0.3 2.7 0.2 1.8 0.3 -4.6 0.3 1.4 0.2 -5.4 0.3 -2.7 0.3 2.3 0.2 -1.1 0.3 -5.4 0.3 0 0.2 -0.1 0.3 1.6 0.3 -3.4 0.2 -6.8 0.3 -11.7 0.3 -3.7 0.2 -2.3 0.3 -4.6 0.3 4.7 0.2 -5.9 0.3 -0.5 0.3 -2.7 0.2 -4.7 0.3 -7.1 0.3 1.9 0.2 -9.3 0.3 -4.3 0.3 -8.7 0.2 2.4 0.3 -5.5 0.3 -11.4 0.2 1 0.3 -0.4 0.3 -7.4 0.2 -11.4 0.3 1.2 0.3 -9.3 0.3 -15.6 0.2 -5 0.3 -6.1 0.3 -6.4 0.2 -5.9 0.3 -12 0.3 -2.2 0.2 -4.7 0.3 -8.3 0.3 -16.5 0.2 -9.8 0.3 -2.6 0.3 -19.6 0.2 -8.9 0.3 -13.2 0.3 -15.8 0.2 -10.1 0.3 -4.1 0.3 -9.3 0.2 -7.9 0.3 -2 0.3 -9.3 0.2 -7.4 0.3 -6 0.3 -2.5 0.2 1.8 0.3 -8.8 0.3 -1.9 0.2 -11 0.3 -1.8 0.3 -4.7 0.2 4.6 0.3 0.6 0.3 11 0.2 -13.1 0.3 8.3 0.3 -0.1 0.2 2.1 0.3 0.6 0.3 2.9 0.2 6.1 0.3 11 0.3 4.7 0.2 9.6 0.3 10.4 0.3 -1.1 0.2 12.6 0.3 6.9 0.3 9.2 0.2 0.4 0.3 4.5 0.3 0.6 0.3 -0.9 0.2 -6 0.3 0.2 0.3 0.9 0.2 6.1 0.3 2.6 0.3 7.7 0.2 0.9 0.3 -4.1 0.3 6.1 0.2 -8.8 0.3 0.3 0.3 8.5 0.2 -1.2 0.3 -6.3 0.3 13.9 0.2 2.3 0.3 0.6 0.3 7 0.2 6.5 0.3 -0.5 0.3 15.9 0.2 -8.4 0.3 15.7 0.3 4.1 0.2 2.2 0.3 5.7 0.3 9.6 0.2 -1.9 0.3 10.6 0.3 7.8 0.2 13.9 0.3 11.1 0.3 7.9 0.2 10.5 0.3 6 0.3 4.6 0.2 9.2 0.3 7.9 0.3 8.9 0.2 5 0.3 13.8 0.3 7.4 0.2 10.8 0.3 8.5 0.3 7.8 0.2 9.3 0.3 4.2 0.3 4.9 0.3 4.8 0.2 3.2 0.3 3 0.3 9.7 0.2 6.9 0.3 5.2 0.3 -0.2 0.2 1.8 0.3 3.8 0.3 -0.6 0.2 1.6 0.3 1.9 0.3 11.5 0.2 5.7 0.3 0 0.3 7.7 0.2 -7 0.3 3.1 0.3 0.8 0.2 -0.8 0.3 -0.8 0.3 2.1 0.2 1.4 0.3 -0.4 0.3 5.6 0.2 -4.6 0.3 2 0.3 -2.1 0.2 7.8 0.3 -4.4 0.3 4.2 0.2 -0.5 0.3 2.8 0.3 5.6 0.2 -1.8 0.3 -0.6 0.3 -0.8 0.2 0.6 0.3 2.3 0.3 -2.4 0.2 -0.4 0.3 0.8 0.3 -2.8 0.2 2.6 0.3 3.1 0.3 2.4 0.2 -5.6 0.3 2.6 0.3 0.8 0.2 0.9 0.3 -1.1 0.3 3.3 0.3 -7.2 0.2 2.2 0.3 1.1 0.3 -0.9 0.2 -5.2 0.3 5.1 0.3 -0.9 0.2 1.7 0.3 -1.1 0.3 0.9 0.2 3.1 0.3 -3 0.3 1.5 0.2 0.1 0.3 4.5 0.3 -4.3 0.2 5.6 0.3 -0.6 0.3 1.1 0.2 -2.5 0.3 0.5 0.3 -0.5 0.2 -0.7 0.3 3.5 0.3 -3.4 0.2 -2.8 0.3 2.1 0.3 -0.8 0.2 -2.4 0.3 4 0.3 6.6 0.2 -2.3 0.3 -2.7 0.3 -1 0.2 4.1 0.3 -2 0.3 3.8 0.2 -0.8 0.3 -0.6 0.3 2.7 0.2 -2.1 0.3 -1.4 0.3 5.2 0.2 -1.4 0.3 1.3 0.3 -2 0.2 -2.7 0.3 1.8 0.3 -4.1 0.3 3 0.2 -0.7 0.3 2.1 0.3 -1.8 0.2 3.8 0.3 -1.8 0.3 0.1 0.2 -4 0.3 2.6 0.3 -2.3 0.2 0.3 0.3 3 0.3 -0.9 0.2 -6.4 0.3 -0.6 0.3 0.7 0.2 -2 0.3 5.3 0.3 2.8 0.2 -5.2 0.3 5.1 0.3 -4.2 0.2 3.5 0.3 -2 0.3 0.6 0.2 0.3 0.3 6 0.3 -3.8 0.2 6.1 0.3 -3.2 0.3 0.7 0.2 1.5 0.3 6.3 0.3 -5.4 0.2 0.3 0.3 5.3 0.3 -3.7 0.2 -4.8 0.3 5.6 0.3 1.5 0.2 -2.7 0.3 1.2 0.3 -1.5 0.2 -2 0.3 0.4 0.3 -0.8 0.2 3.6 0.3 -2.9 0.3 -0.3 0.2 -3.1 0.3 2.1 0.3 -3 0.3 -0.6 0.2 4.2 0.3 3 0.3 1.4 0.2 -1.4 0.3 -0.8 0.3 1.5 0.2 -7.4 0.3 1.7 0.3 -0.6 0.2 7 0.3 2.1 0.3 -0.2 0.2 1.8 0.3 -1.9 0.3 -0.9 0.2 -6 0.3 0.8 0.3 -2.3 0.2 0.9 0.3 2.3 0.3 2.7 0.2 -0.5 0.3 -3.4 0.3 -1.9 0.2 -1.8 0.3 8.5 0.3 -2.1 0.2 -1.1 0.3 1.8 0.3 -2.8 0.2 -2 0.3 2.6 0.3 -0.2 0.2 2.8 0.3 -1.7 0.3 3.7 0.2 -8.1 0.3 0.5 0.3 0.3 0.2 -0.8 0.3 -0.4 0.3 2 0.2 8 0.3 -5.4 0.3 0.6 0.2 -3.2 0.3 1.5 0.3 -2.4 0.3 0.5 0.2 -3 0.3 -3.1 0.3 2.5 0.2 -3.9 0.3 3.6 0.3 0.5 0.2 3.8 0.3 5.6 0.3 -1.2 0.2 1.9 0.3 1 0.3 -1.6 0.2 -0.8 0.3 2.3 0.3 1.6 0.2 -0.9 0.3 -3.5 0.3 -2 0.2 -0.7 0.3 -1.7 0.3 2.5 0.2 6 0.3 -2.3 0.3 -1.1 0.2 1.1 0.3 -3.5 0.3 0.9 0.2 -0.5 0.3 3.6 0.3 -6.4 0.2 2.3 0.3 2.8 0.3 -2.5 0.2 5.4 0.3 0 0.3 -6.5 0.2 0.9 0.3 -0.6 0.3 -0.2 0.2 1.3 0.3 3 0.3 -5.3 0.2 5.5 0.3 -2.1 0.3 0.6 0.2 -1.6 0.3 5.8 0.3 0.2 0.2 -8.8 0.3 1.6 0.3 3.3 0.3 0.3 0.2 -4.1 0.3 7 0.3 -8.5 0.2 5.3 0.3 0 0.3 2.4 0.2 -6.6 0.3 5.2 0.3 -3.6 0.2 3.3 0.3 -1.9 0.3 -2 0.2 0.2 0.3 -3.6 0.3 -0.8 0.2 3.8 0.3 2.1 0.3 -2.7 0.2 2.5 0.3 2.4 0.3 -3.7 0.2 -1.5 0.3 4.1 0.3 -4.8 0.2 -4.9 0.3 8.2 0.3 0.1 0.2 -2 0.3 5.4 0.3 -1.9 0.2 2.5 0.3 -0.8 0.3 0.4 0.2 0.4 0.3 2 0.3 0.2 0.2 -0.1 0.3 4.7 0.3 -11.2 0.2 4.3 0.3 2.2 0.3 -0.1 0.2 -3.5 0.3 6.6 0.3 -3.6 0.2 -0.1 0.3 -1.6 0.3 2.4 0.2 -5 0.3 -0.8 0.3 1.3 0.3 -4.8 0.2 1.4 0.3 2.8 0.3 -1.9 0.2 -1.2 0.3 1.7 0.3 -0.2 0.2 -5.5 0.3 4.7 0.3 -0.8 0.2 -0.1 0.3 0 0.3 2.5 0.2 0.5 0.3 -0.6 0.3 -1.6 0.2 -1 0.3 6.4 0.3 -1.5 0.2 0.6 0.3 -2.2 0.3 2.7 0.2 -0.4 0.3 -2.5 0.3 1.5 0.2 0.9 0.3 1 0.3 1 0.2 -0.3 0.3 -0.8 0.3 3 0.2 -3.8 0.3 -1.7 0.3 -0.5 0.2 -2.3 0.3 4.2 0.3 -3 0.2 0.1 0.3 -3.5 0.3 5.6 0.2 -0.9 0.3 1.3 0.3 0.8 0.2 -0.3 0.3 0.1 0.3 0.3 0.2 -3 0.3 0.8 0.3 2.6 0.3 -2.5 0.2 1 0.3 0.7 0.3 -0.2 0.2 -5.3 0.3 3.6 0.3 0.5 0.2 -3.4 0.3 -1.3 0.3 5 0.2 4.7 0.3 -0.9 0.3 -1.8 0.2 0.8 0.3 -0.5 0.3 -3.2 0.2 0 0.3 -2.3 0.3 -5.3 0.2 3.5 0.3 2.6 0.3 0.8 0.2 -1.8 0.3 3.7 0.3 -1.3 0.2 5.5 0.3 -1.3 0.3 -2.1 0.2 -0.1 0.3 1.6 0.3 -1.3 0.2 -0.7 0.3 2 0.3 2.5 0.2 1.7 0.3 -1.1 0.3 0.8 0.2 -5.5 0.3 -3.8 0.3 -1.8 0.2 0.3 0.3 2.2 0.3 -0.3 0.2 1.3 0.3 4.6 0.3 1.2 0.2 -2.1 0.3 -1.8 0.3 -0.6 0.2 0.8 0.3 -2.4 0.3 1.8 0.3 0.8 0.2 1.9 0.3 1.3 0.3 4.4 0.2 -2.9 0.3 0 0.3 -5.9 0.2 1.8 0.3 1.1 0.3 -3.5 0.2 -3.3 0.3 1.4 0.3 2.6 0.2 -0.3 0.3 5.7 0.3 -1.3 0.2 0.5 0.3 1.8 0.3 -3.7 0.2 6.9 0.3 -5.8 0.3 -0.5 0.2 -3.7 0.3 -3.1 0.3 2.6 0.2 -0.8 0.3 -0.9 0.3 0.1 0.2 0.7 0.3 2.3 0.3 -0.5 0.2 1.2 0.3 3.2 0.3 -5.1 0.2 -1 0.3 -0.3 0.3 3.2 0.2 -1.4 0.3 2.7 0.3 1.2 0.2 -1.8 0.3 -2.8 0.3 0.6 0.2 0.7 0.3 -1.9 0.3 1.7 0.2 -5.7 0.3 7 0.3 -2.2 0.3 3.9 0.2 0.3 0.3 2.2 0.3 -6.5 0.2 -0.5 0.3 -5.8 0.3 7.1 0.2 -0.4 0.3 -1.7 0.3 0.3 0.2 2.1 0.3 2.6 0.3 -5.6 0.2 2.7 0.3 2.2 0.3 1.5 0.2 -2.6 0.3 1 0.3 -2.1 0.2 0.8 0.3 -3.9 0.3 1 0.2 2.4 0.3 -1.6 0.3 -1.1 0.2 1.9 0.3 4.1 0.3 -4.7 0.2 1.9 0.3 -1.1 0.3 -3.9 0.2 1.9 0.3 4.3 0.3 0.1 0.2 -3.1 0.3 3.7 0.3 -1.5 0.2 -2.8 0.3 0.1 0.3 -1.4 0.2 4.5 0.3 -5.2 0.3 5.6 0.2 0.8 0.3 -2.1 0.3 0.9 0.2 1.5 0.3 3.9 0.3 -0.3 0.2 -3.5 0.3 0.6 0.3 -2 0.3 -4.6 0.2 3.8 0.3 0.6 0.3 4.5 0.2 -3.9 0.3 0.2 0.3 2 0.2 -1.9 0.3 -1.3 0.3 1 0.2 -1.4 0.3 -1.7 0.3 -0.5 0.2 4.1 0.3 -3.3 0.3 2.4 0.2 -1.1 0.3 1.3 0.3 0.1 0.2 0.8 0.3 -2.3 0.3 3.9 0.2 -6.7 0.3 2.2 0.3 -3.7 0.2 3.5 0.3 -1.8 0.3 2.7 0.2 0.6 0.3 -0 0.3 0.5 0.2 6.3 0.3 0.9 0.3 -8.9 0.2 2.6 0.3 0.1 0.3 -1.3 0.2 4.4 0.3 -6.4 0.3 2.7 0.2 0.6 0.3 -2.7 0.3 2.2 0.2 0.1 0.3 -0.1 0.3 1.1 0.2 -0.5 0.3 1.9 0.3 3 0.2 -1.9 0.3 -2.8 0.3 0.7 0.3 -0 0.2 0.1 0.3 3.3 0.3 -1.9 0.2 1.2 0.3 -5.7 0.3 2.2 0.2 -3.7 0.3 0.4 0.3 2.8 0.2 -5.8 0.3 3.8 0.3 0.7 0.2 -1.1 0.3 1.4 0.3 -0.7 0.2 4 0.3 -2.2 0.3 1.5 0.2 3.2 0.3 -3.9 0.3 -2.7 0.2 3.7 0.3 -5.1 0.3 1.4 0.2 -2.5 0.3 4.9 0.3 -4.1 0.2 2.9 0.3 -3 0.3 3.4 0.2 1.3 0.3 -1.8 0.3 2.1 0.2 -1.4 0.3 -5.8 0.3 0.7 0.2 2.7 0.3 0.7 0.3 3.5 0.2 -4 0.3 0.5 0.3 -4.7 0.2 -2.2 0.3 0.8 0.3 2.7 0.2 1.9 0.3 3.2 0.3 -1.1 0.3 -1.1 0.2 0.6 0.3 3.5 0.3 -5.5 0.2 -2.1 0.3 -0 0.3 2 0.2 -4 0.3 3.9 0.3 0.9 0.2 1.6 0.3 1.9 0.3 0.1 0.2 0.7 0.3 0.7 0.3 -5 0.2 -2.2 0.3 -1.3 0.3 2.2 0.2 -1.5 0.3 1.5 0.3 1.7 0.2 0.4 0.3 -2.3 0.3 1.2 0.2 -0.8 0.3 0.3 0.3 1.6 0.2 2.9 0.3 -5 0.3 6.4 0.2 -0.5 0.3 0.4 0.3 -1.9 0.2 -0.3 0.3 2.9 0.3 -4.1 0.2 -0.4 0.3 4 0.3 -4.3 0.2 5 0.3 0.8 0.3 1.9 0.2 -3.1 0.3 1.4 0.3 -2.9 0.2 -3.5 0.3 4.7 0.3 -1.5 0.2 -5.8 0.3 4 0.3 -3.6 0.3 1.2 0.2 -1.7 0.3 1.4 0.3 1.3 0.2 1.9 0.3 -0 0.3 2.8 0.2 0.1 0.3 -2.2 0.3 2.4 0.2 0.4 0.3 -2.2 0.3 -3.7 0.2 4.1 0.3 -3.8 0.3 3.5 0.2 -0.7 0.3 2.1 0.3 2.5 0.2 -2.7 0.3 0.8 0.3 -4.1 0.2 -2.9 0.3 5.1 0.3 -4.2 0.2 2.5 0.3 -1.5 0.3 7.1 0.2 -4.6 0.3 -0.8 0.3 3.7 0.2 2.6 0.3 -5.5 0.3 -1.3 0.2 0.5 0.3 -1.2 0.3 3.2 0.2 -3.5 0.3 -1.3 0.3 -0.1 0.2 -6.1 0.3 1.8 0.3 6.3 0.2 -1.5 0.3 6.4 0.3 -0.9 0.2 1.7 0.3 -1.8 0.3 -1.5 0.3 0.5 0.2 -3 0.3 -1.3 0.3 -2.2 0.2 3.3 0.3 0.2 0.3 0.3 0.2 -4.3 0.3 3.8 0.3 1.9 0.2 0.4 0.3 2 0.3 1.4 0.2 -6.2 0.3 2.2 0.3 3.4 0.2 -2.2 0.3 2.6 0.3 -8.1 0.2 -0.1 0.3 -1.4 0.3 1 0.2 5.4 0.3 -0.6 0.3 -2.3 0.2 -0.2 0.3 1.3 0.3 -3.6 0.2 -0.2 0.3 0.7 0.3 2.4 0.2 1.2 0.3 1.3 0.3 -1.9 0.2 -1 0.3 -0.9 0.3 -3.7 0.2 -0.6 0.3 2.2 0.3 2 0.2 2.4 0.3 3.5 0.3 -3.2 0.2 -4.8 0.3 3.9 0.3 0.2 0.2 -0.1 0.3 1.3 0.3 0.7 0.2 0.9 0.3 -4.1 0.3 3.7 0.3 -2.2 0.2 -0.2 0.3 0.6 0.3 -3.5 0.2 1.8 0.3 -1.5 0.3 2.7 0.2 -0.8 0.3 1.1 0.3 1 0.2 3.9 0.3 -3.9 0.3 -2.5 0.2 -0.4 0.3 -1.1 0.3 -0.5 0.2 -0.6 0.3 3 0.3 -0.3 0.2 0 0.3 3.1 0.3 -0.9 0.2 -5.3 0.3 0.7 0.3 0.2 0.2 2.1 0.3 5 0.3 -1.9 0.2 -1.3 0.3 0.4 0.3 2.7 0.2 -3 0.3 -2.6 0.3 4 0.2 -0.7 0.3 2.5 0.3 2.7 0.2 0.5 0.3 -2.4 0.3 -0.7 0.2 -0 0.3 -6 0.3 5.6 0.2 -1.8 0.3 -4.2 0.3 6.8 0.2 2.1 0.3 1 0.3 -1.4 0.2 -1 0.3 -2.3 0.3 -2.8 0.3 -0.8 0.2 2.4 0.3 -0.8 0.3 4.8 0.2 -3.8 0.3 1.5 0.3 -1.1 0.2 3.8 0.3 -2.2 0.3 -3.9 0.2 1.6 0.3 -0.7 0.3 0.7 0.2 0.1 0.3 1.1 0.3 -1.3 0.2 2 0.3 -1.5 0.3 -1.7 0.2 1 0.3 -4.9 0.3 1.3 0.2 1.9 0.3 5.9 0.3 -3.4 0.2 1.6 0.3 -0.4 0.3 -0.3 0.2 -5.4 0.3 1 0.3 -0.9 0.2 3.9 0.3 -6.1 0.3 2.9 0.2 0.4 0.3 5.6 0.3 -3.5 0.2 -2.6 0.3 3.8 0.3 -2.2 0.2 -1.2 0.3 -2.2 0.3 5.8 0.2 -5.2 0.3 -1.4 0.3 3 0.2 -0.5 0.3 3 0.3 -3.2 0.3 3 0.2 -3.3 0.3 0.7 0.3 2 0.2 -2 0.3 2.6 0.3 -2.5 0.2 1.1 0.3 3.8 0.3 -4.1 0.2 3.2 0.3 0.7 0.3 0.9 0.2 -3.7 0.3 2 0.3 1.8 0.2 3.4 0.3 -2.6 0.3 -0.4 0.2 2.2 0.3 -6 0.3 0.4 0.2 1.4 0.3 -3.4 0.3 4.6 0.2 3.1 0.3 -1.8 0.3 -2 0.2 -0.9 0.3 -1.2 0.3 -1.6 0.2 4.4 0.3 -2.7 0.3 2.3 0.2 1.3 0.3 1.4 0.3 -1.5 0.2 1.8 0.3 1.3 0.3 -1.3 0.2 -0.1 0.3 -1.5 0.3 1.4 0.2 -4.9 0.3 2.6 0.3 -2.5 0.2 -4.2 0.3 1.3 0.3 -1 0.2 -2.6 0.3 4.7 0.3 0.6 0.3 -2 0.2 0.6 0.3 0.4 0.3 -0.6 0.2 -0.1 0.3 0.7 0.3 0.6 0.2 -4 0.3 4.3 0.3 3.1 0.2 -2.7 0.3 -0.5 0.3 2.7 0.2 -2.5 0.3 -4.9 0.3 4.4 0.2 -1.6 0.3 -3.9 0.3 0.4 0.2 6 0.3 -4.7 0.3 5.2 0.2 -3.5 0.3 1.5 0.3 -1.8 0.2 -0.1 0.3 -0.3 0.3 5.6 0.2 -5.6 0.3 6.1 0.3 -1.9 0.2 2.8 0.3 -1.5 0.3 -1 0.2 -2.7 0.3 -1.8 0.3 -2.6 0.2 3.2 0.3 1.4 0.3 1.1 0.2 -2.1 0.3 -2.4 0.3 5.9 0.2 -5.8 0.3 1.6 0.3 -1.8 0.2 7.7 0.3 -2.3 0.3 -1.9 0.3 3 0.2 -2.5 0.3 -0.9 0.3 -2.8 0.2 1.8 0.3 -4.3 0.3 7.2 0.2 3.2 0.3 -2.8 0.3 -0.7 0.2 1.6 0.3 -5 0.3 2 0.2 -3.8 0.3 4.4 0.3 -2.5 0.2 -1.8 0.3 2.8 0.3 0.4 0.2 3.7 0.3 -1.2 0.3 1.4 0.2 0.9 0.3 1 0.3 -7.3 0.2 5.4 0.3 1 0.3 0.6 0.2 -8.1 0.3 6.7 0.3 -5.9 0.2 -3.7 0.3 1.2 0.3 2.1 0.2 2.5 0.3 -1.3 0.3 1.1 0.2 0.7 0.3 0.6 0.3 1.5 0.2 -3.8 0.3 2.3 0.3 2.2 0.2 -1.9 0.3 -0.3 0.3 5.8 0.2 3 0.3 -0 0.3 -2 0.2 2 0.3 -0.8 0.3 -9 0.3 4.2 0.2 -0.8 0.3 0.3 0.3 -5 0.2 3.3 0.3 -5.6 0.3 2.8 0.2 0.6 0.3 2.2 0.3 -4.8 0.2 5.4 0.3 -0.9 0.3 -6.1 0.2 2.4 0.3 7.3 0.3 -2.9 0.2 -2.9 0.3 3.2 0.3 1.8 0.2 -0.9 0.3 -0.8 0.3 -0.2 0.2 -0.6 0.3 -0.9 0.3 -2.8 0.2 4.6 0.3 -3.7 0.3 -4 0.2 4.2 0.3 1.9 0.3 1 0.2 -0.2 0.3 -1.7 0.3 -0 0.2 -3.5 0.3 -0.9 0.3 -0 0.2 6.6 0.3 -4.5 0.3 1.8 0.2 1.3 0.3 0.5 0.3 0.9 0.2 -1.3 0.3 5.1 0.3 1.2 0.2 -6.7 0.3 -0.8 0.3 -3.2 0.2 -3.8 0.3 1.8 0.3 0.5 0.3 -3.2 0.2 6.9 0.3 -2.7 0.3 0.9 0.2 -1.4 0.3 -0.8 0.3 4.9 0.2 -3.6 0.3 1.5 0.3 1.6 0.2 1.5 0.3 0.7 0.3 -2.1 0.2 -2.1 0.3 4.2 0.3 -3.6 0.2 3.1 0.3 -0 0.3 2.2 0.2 -7.2 0.3 -0.7 0.3 2.5 0.2 1.9 0.3 5.4 0.3 -1.9 0.2 1 0.3 -2.5 0.3 -2.7 0.2 2.3 0.3 -0.3 0.3 -2.8 0.2 5 0.3 0.5 0.3 -1.5 0.2 2.5 0.3 -1.8 0.3 -1.3 0.2 -4.8 0.3 1.2 0.3 -0.4 0.2 -3 0.3 -1.6 0.3 1.2 0.2 -1.4 0.3 2.3 0.3 -3.6 0.2 1.9 0.3 0.2 0.3 2.4 0.3 1 0.2 0.8 0.3 2.8 0.3 0.7 0.2 -4.3 0.3 3.2 0.3 -1.5 0.2 -4.1 0.3 0.2 0.3 0.3 0.2 0.5 0.3 -0 0.3 0.2 0.2 6.7 0.3 -8.1 0.3 -0.7 0.2 -4.3 0.3 2.4 0.3 -1.7 0.2 2.8 0.3 5.2 0.3 -0.1 0.2 2.3 0.3 -8 0.3 3.2 0.2 -0.1 0.3 2.6 0.3 -1.4 0.2 1.7 0.3 4 0.3 -1.2 0.2 1.7 0.3 -5.5 0.3 -0 0.2 -0.1 0.3 -4.3 0.3 -4.1 0.2 -2.4 0.3 -1.7 0.3 1 0.2 -0.8 0.3 1.6 0.3 3.9 0.2 -3.9 0.3 0.7 0.3 6.6 0.2 -4.7 0.3 -1.6 0.3 0.6 0.2 -0.5 0.3 8.1 0.3 0.5 0.3 -3.2 0.2 -2.3 0.3 1.1 0.3 -3 0.2 -2.5 0.3 1.8 0.3 2.7 0.2 -3.3 0.3 -1.3 0.3 -0 0.2 -6.9 0.3 3 0.3 -3.3 0.2 3.3 0.3 -4.9 0.3 0.8 0.2 4.9 0.3 1.7 0.3 -0 0.2 4.3 0.3 -3.9 0.3 -2 0.2 -1.6 0.3 -3 0.3 -2.8 0.2 -0.1 0.3 1.7 0.3 -5.6 0.2 5.7 0.3 -7 0.3 -0 0.2 -0.3 0.3 4.8 0.3 -5.5 0.2 0.5 0.3 -1.5 0.3 -2.5 0.2 -2.5 0.3 -0.1 0.3 0.3 0.2 -3.5 0.3 -1 0.3 6.4 0.2 -7.6 0.3 2.6 0.3 -6.1 0.2 4.5 0.3 -4.9 0.3 0.5 0.3 -3.9 0.2 0.8 0.3 1.7 0.3 2.7 0.2 -0.7 0.3 2.4 0.3 -0.7 0.2 0.8 0.3 -5.6 0.3 -2.1 0.2 1.6 0.3 -5.6 0.3 -4.6 0.2 -0.6 0.3 3.9 0.3 -3.7 0.2 -2.8 0.3 5.2 0.3 -0.4 0.2 2.4 0.3 1.2 0.3 -3.6 0.2 -2 0.3 -1.4 0.3 -10.8 0.2 4.2 0.3 2.9 0.3 0.9 0.2 -2 0.3 -0.4 0.3 -5.6 0.2 -6.6 0.3 8.1 0.3 -1.9 0.2 0.1 0.3 -6.1 0.3 2.5 0.2 1.4 0.3 -4.1 0.3 4.2 0.2 0.9 0.3 -4.3 0.3 -4.4 0.2 12 0.3 -9.2 0.3 3.9 0.2 -1.2 0.3 -7 0.3 -4.3 0.2 -1.4 0.3 3.2 0.3 -0.7 0.3 9.2 0.2 -1.7 0.3 1.9 0.3 2.8 0.2 -0.1 0.3 -1.7 0.3 1.7 0.2 1.6 0.3 7.8 0.3 -1.4 0.2 -2.9 0.3 3.3 0.3 -6.7 0.2 0.3 0.3 -1.7 0.3 3.6 0.2 0.5 0.3 3.5 0.3 -4.4 0.2 8 0.3 -4.2 0.3 1.8 0.2 -1 0.3 7.1 0.3 -7.9 0.2 3.5 0.3 4.5 0.3 -1.2 0.2 2.4 0.3 4.3 0.3 -0.5 0.2 -6.3 0.3 6.7 0.3 -1.5 0.2 -0.6 0.3 -0.4 0.3 6.2 0.2 -3.3 0.3 4.5 0.3 4.1 0.2 -2.9 0.3 -1.8 0.3 11.4 0.2 -9.7 0.3 0.9 0.3 3.6 0.2 1.2 0.3 0.2 0.3 3.4 0.2 3.1 0.3 -2.8 0.3 3.4 0.3 0.2 0.2 5 0.3 -1.1 0.3 -0.6 0.2 -5.4 0.3 3.8 0.3 1.4 0.2 3.9 0.3 -8.4 0.3 6.7 0.2 -4.5 0.3 3.2 0.3 -5 0.2 9.4 0.3 4.3 0.3 1.7 0.2 -3.2 0.3 -3.2 0.3 1.3 0.2 2.1 0.3 4.3 0.3 -0 0.2 7.4 0.3 -2.6 0.3 4.6 0.2 -3.6 0.3 -0 0.3 -3.2 0.2 -3.1 0.3 6.7 0.3 1.4 0.2 -2.3 0.3 4.4 0.3 -0.7 0.2 3 0.3 -5.2 0.3 5.2 0.2 2.2 0.3 -0.9 0.3 0.5 0.2 2.5 0.3 3.1 0.3 -5.4 0.2 -0.7 0.3 -0.8 0.3 -3.5 0.2 8.1 0.3 -3.7 0.3 6.6 0.3 1.3 0.2 -3.5 0.3 -4.2 0.3 4.4 0.2 -3.1 0.3 3.6 0.3 -4.9 0.2 3.3 0.3 -0.7 0.3 -3.4 0.2 0.3 0.3 3.6 0.3 -0.4 0.2 3.5 0.3 -6.3 0.3 8.4 0.2 -2.2 0.3 -2 0.3 0.3 0.2 -0.2 0.3 -2.2 0.3 1.1 0.2 3.1 0.3 -2.3 0.3 1.5 0.2 3.4 0.3 -2.5 0.3 -0.4 0.2 1.3 0.3 -0.6 0.3 -4.3 0.2 5.7 0.3 -0 0.3 -5.8 0.2 6.3 0.3 0.3 0.3 -0.8 0.2 2.3 0.3 1.9 0.3 -3.4 0.2 -3.2 0.3 2.1 0.3 -3.3 0.2 -3.4 0.3 3.3 0.3 -0.3 0.2 -0.5 0.3 0.8 0.3 1.2 0.2 0.2 0.3 1.6 0.3 0.5 0.3 0.3 0.2 -3.4 0.3 -2.6 0.3 -0.8 0.2 -0.9 0.3 4.2 0.3 5 0.2 -5 0.3 0.8 0.3 3 0.2 -0 0.3 -2.7 0.3 -3 0.2 3.9 0.3 -1.9 0.3 0.8 0.2 3.7 0.3 1.5 0.3 0.3 0.2 1.2 0.3 -4.1 0.3 2.5 0.2 -1 0.3 -1.1 0.3 1.2 0.2 -4.7 0.3 -0.2 0.3 0.5 0.2 0.9 0.3 -1.3 0.3 -2.8 0.2 3.4 0.3 -0.2 0.3 -3.4 0.2 -2.2 0.3 1.3 0.3 3.2 0.2 2.2 0.3 0.7 0.3 -2.7 0.2 6.9 0.3 -3.8 0.3 2.7 0.2 1.1 0.3 -1.1 0.3 -0.6 0.2 -1.2 0.3 2.1 0.3 2.4 0.3 -2.3 0.2 1.7 0.3 -3.2 0.3 -1.4 0.2 1.3 0.3 2.3 0.3 -3 0.2 -0.7 0.3 1.7 0.3 1.3 0.2 -5.1 0.3 3.7 0.3 2 0.2 -0.7 0.3 -1.6 0.3 -5.6 0.2 4.4 0.3 -3.1 0.3 -0.3 0.2 -1.2 0.3 2.6 0.3 0.9 0.2 -0.1 0.3 -1.7 0.3 1 0.2 1.9 0.3 -2.3 0.3 0.7 0.2 -0 0.3 -1.2 0.3 -1.1 0.2 -0.2 0.3 1.2 0.3 5.3 0.2 0.8 0.3 -3.9 0.3 1.8 0.2 3.6 0.3 -7.6 0.3 1.1 0.2 -0.5 0.3 -1.1 0.3 1.7 0.2 1.4 0.3 -0 0.3 0.9 0.2 2.1 0.3 -3.9 0.3 0.5 0.2 5.2 0.3 2.2 0.3 -5.4 0.3 -3.9 0.2 2.9 0.3 1.5 0.3 -4.9 0.2 7.2 0.3 -2 0.3 -4.1 0.2 -3.9 0.3 7.3 0.3 -8.5 0.2 -1.2 0.3 -1.2 0.3 5.1 0.2 -2.8 0.3 5 0.3 -1 0.2 0.4 0.3 2.4 0.3 -1.3 0.2 -0.8 0.3 -2.4 0.3 1.1 0.2 6.6 0.3 -2.5 0.3 -0.5 0.2 3.4 0.3 -3.2 0.3 0.9 0.2 0.9 0.3 -2.9 0.3 -5.4 0.2 4.3 0.3 -3.5 0.3 0.7 0.2 0.7 0.3 4.2 0.3 -1.1 0.2 -2.5 0.3 -0.8 0.3 1.1 0.2 3.1 0.3 -1.6 0.3 1 0.2 -1.1 0.3 6.8 0.3 -6.1 0.2 2.5 0.3 0.8 0.3 2.9 0.2 -8.2 0.3 2.1 0.3 2.5 0.3 -2.3 0.2 -3.5 0.3 3 0.3 3.3 0.2 -0.8 0.3 -0.9 0.3 1.5 0.2 -1.9 0.3 -2.2 0.3 5.9 0.2 -5.6 0.3 -2.9 0.3 6.6 0.2 -2.8 0.3 -5.5 0.3 2.7 0.2 0.7 0.3 -0.2 0.3 1.1 0.2 2.3 0.3 -1.9 0.3 2.8 0.2 -2.3 0.3 2.5 0.3 0.2 0.2 0.5 0.3 -2.7 0.3 0.8 0.2 0.8 0.3 -9 0.3 3.7 0.2 0.8 0.3 -1.4 0.3 0.9 0.2 1.1 0.3 3.1 0.3 -0.1 0.2 4 0.3 -3.6 0.3 1.2 0.2 0.2 0.3 -4 0.3 1.1 0.2 -2.2 0.3 5.5 0.3 -1.8 0.2 3 0.3 -1.8 0.3 4.2 0.3 -3.4 0.2 2.9 0.3 -3.2 0.3 -5.1 0.2 6.6 0.3 -1.8 0.3 -4.7 0.2 8.9 0.3 -1.5 0.3 -4.4 0.2 -3.3 0.3 3.6 0.3 -3.6 0.2 3.5 0.3 -0.2 0.3 -2.5 0.2 -1.6 0.3 1.6 0.3 -0.1 0.2 1.7 0.3 -1 0.3 1.9 0.2 3.9 0.3 -3.5 0.3 1 0.2 -0.2 0.3 0.4 0.3 -3.1 0.2 -0.8 0.3 8.5 0.3 -4.2 0.2 -0.3 0.3 2.2 0.3 2.4 0.2 -2.7 0.3 -3.5 0.3 -1.3 0.2 -3.6 0.3 -1.4 0.3 1.4 0.2 3.4 0.3 3.5 0.3 0.2 0.2 0.2 0.3 2.8 0.3 -1.4 0.2 -4.2 0.3 -1.4 0.3 0.8 0.2 0.2 0.3 2.4 0.3 0.3 0.3 -0.6 0.2 -2.9 0.3 -1.4 0.3 0.2 0.2 -0.9 0.3 1.9 0.3 -4.7 0.2 6.1 0.3 -4.3 0.3 2.1 0.2 2.9 0.3 -5 0.3 -0.9 0.2 6.7 0.3 -4.1 0.3 -2.8 0.2 4.9 0.3 2.9 0.3 -5.6 0.2 4.1 0.3 -3.4 0.3 -1.7 0.2 -0.9 0.3 -2" stroke="#9bbb59" stroke-width="3.5" stroke-linecap="butt" stroke-dasharray="24 9 3 9"/>
<path d="M146.0 658.0 l 0.3 -0.4 0.3 -2.2 0.2 5 0.3 2.2 0.3 -3.1 0.2 -1.3 0.3 -0.2 0.3 1.4 0.2 -3.3 0.3 0.1 0.3 -1.1 0.2 -0.2 0.3 0.1 0.3 3.8 0.2 -7.1 0.3 8.9 0.3 -6.3 0.2 1.1 0.3 0.9 0.3 2.1 0.2 -0.1 0.3 3 0.3 0.5 0.2 -1.6 0.3 3.8 0.3 -4.3 0.2 -1 0.3 -1.5 0.3 3.1 0.2 -1.6 0.3 1.7 0.3 4.7 0.2 -5.4 0.3 0.6 0.3 -1.9 0.2 -1.4 0.3 1.2 0.3 2.1 0.2 1.2 0.3 -0.7 0.3 -0.8 0.2 5.2 0.3 -0 0.3 -0 0.2 -0 0.3 -0 0.3 -3.3 0.2 -7.8 0.3 2.3 0.3 0.7 0.2 -0.2 0.3 1.6 0.3 0.8 0.3 -3.1 0.2 -2.6 0.3 4.1 0.3 -2.5 0.2 2.5 0.3 4.8 0.3 -1.4 0.2 -1.7 0.3 -1.5 0.3 2.2 0.2 -4.4 0.3 -1.9 0.3 1.6 0.2 -5.4 0.3 3.9 0.3 3.6 0.2 -1.4 0.3 3.2 0.3 1.7 0.2 -3.8 0.3 1 0.3 -4.3 0.2 5.9 0.3 1.6 0.3 -1.5 0.2 3.3 0.3 -0.8 0.3 -2.9 0.2 -3.9 0.3 -1 0.3 5.5 0.2 -4.5 0.3 4.5 0.3 0.8 0.2 0.7 0.3 -1.5 0.3 -2.4 0.2 0.8 0.3 -2 0.3 2.7 0.2 -4.4 0.3 3 0.3 -2.8 0.2 -5.1 0.3 3.6 0.3 2.4 0.2 -0.9 0.3 2 0.3 -1.2 0.2 -1.7 0.3 0.3 0.3 1.9 0.3 0.9 0.2 0.5 0.3 2.9 0.3 -3.9 0.2 1 0.3 1.2 0.3 0.5 0.2 1.8 0.3 -1.2 0.3 -4.3 0.2 2.7 0.3 -0.7 0.3 -2.1 0.2 5.7 0.3 -5.3 0.3 1.1 0.2 1.4 0.3 -5.3 0.3 -0.6 0.2 1.6 0.3 1.7 0.3 -1.2 0.2 0.4 0.3 4 0.3 3.7 0.2 -5 0.3 1 0.3 0.4 0.2 -0.1 0.3 1.8 0.3 0.6 0.2 3.7 0.3 -6.6 0.3 -3.4 0.2 2.1 0.3 -4.3 0.3 -0.4 0.2 3.7 0.3 -0.6 0.3 1.3 0.2 1.9 0.3 -2.2 0.3 -2 0.2 0.5 0.3 1.8 0.3 4 0.2 -3.2 0.3 4.3 0.3 -1.4 0.3 -3.3 0.2 -1.2 0.3 2.9 0.3 0.2 0.2 0.7 0.3 0.7 0.3 1 0.2 -5.9 0.3 -0.8 0.3 -3.3 0.2 2 0.3 5.9 0.3 -2.7 0.2 -1.9 0.3 3.4 0.3 3.2 0.2 -1.7 0.3 -2.7 0.3 1 0.2 -1.4 0.3 -0.9 0.3 -1.1 0.2 1.7 0.3 2.3 0.3 -0.8 0.2 1.2 0.3 0.7 0.3 -1.1 0.2 2.4 0.3 2.8 0.3 -7.5 0.2 -0.3 0.3 0.5 0.3 -0.2 0.2 1.5 0.3 0.3 0.3 -3.2 0.2 1 0.3 0.1 0.3 -0.9 0.2 1.8 0.3 -1 0.3 -0.6 0.2 3.4 0.3 1 0.3 0.5 0.2 -1 0.3 -0.2 0.3 5.5 0.2 -3.1 0.3 3.6 0.3 -1.8 0.3 -5 0.2 1.4 0.3 -0.5 0.3 -1.9 0.2 -2.5 0.3 5.1 0.3 -3.7 0.2 2.3 0.3 -5.9 0.3 1.4 0.2 -0 0.3 -0.7 0.3 1.7 0.2 -0.6 0.3 1.2 0.3 1.3 0.2 2.4 0.3 0.7 0.3 -1.6 0.2 -2.7 0.3 2.4 0.3 -0.4 0.2 -1.2 0.3 -1 0.3 4.7 0.2 -2.7 0.3 -4.2 0.3 2.3 0.2 1.5 0.3 -5.8 0.3 5.2 0.2 0.5 0.3 4.9 0.3 -5.7 0.2 4.2 0.3 -2 0.3 0.7 0.2 -1.6 0.3 3.3 0.3 -4.2 0.2 1.1 0.3 -0.5 0.3 0.8 0.2 -3.2 0.3 2.6 0.3 -2.4 0.2 2.4 0.3 -3.7 0.3 5.4 0.3 -3.5 0.2 3.9 0.3 -3.8 0.3 4.2 0.2 0.8 0.3 -4.2 0.3 -0.6 0.2 1.6 0.3 -3.6 0.3 0.3 0.2 -3.4 0.3 2.6 0.3 -1.8 0.2 5.5 0.3 -1.6 0.3 -3.3 0.2 2.4 0.3 -1 0.3 1.7 0.2 -1 0.3 0.6 0.3 4.4 0.2 -3.1 0.3 5.7 0.3 -1.4 0.2 1.5 0.3 -2.9 0.3 4.5 0.2 -1.7 0.3 -3.1 0.3 0.4 0.2 -3.3 0.3 0.9 0.3 -3.7 0.2 -2.3 0.3 3 0.3 -2.5 0.2 3.8 0.3 1.8 0.3 5.3 0.2 -1.8 0.3 -0.6 0.3 2.5 0.2 -5.6 0.3 2.3 0.3 3.3 0.2 -1.2 0.3 -1.6 0.3 -0.1 0.2 2.4 0.3 -2.2 0.3 0.1 0.3 2.5 0.2 -3 0.3 -1.7 0.3 0.5 0.2 -5.8 0.3 2.4 0.3 -3.5 0.2 2.3 0.3 -0.1 0.3 1.6 0.2 -0.7 0.3 4.6 0.3 -0.7 0.2 -2.4 0.3 3.3 0.3 -1.5 0.2 -3.3 0.3 3.4 0.3 -2.4 0.2 1.3 0.3 -4 0.3 1.7 0.2 2.1 0.3 -5.5 0.3 2.3 0.2 2.5 0.3 -0.5 0.3 -2.5 0.2 2.1 0.3 0.7 0.3 -0.9 0.2 6 0.3 -0.6 0.3 -3.6 0.2 0.6 0.3 -0.1 0.3 1.1 0.2 0.9 0.3 0 0.3 1.1 0.2 -5.8 0.3 -4.3 0.3 6.2 0.2 -4.4 0.3 4.1 0.3 -2.3 0.2 0.8 0.3 -2.3 0.3 3.8 0.2 3.1 0.3 -6.7 0.3 5 0.3 1.3 0.2 -4 0.3 1.8 0.3 2.2 0.2 -2.4 0.3 1.8 0.3 -4.7 0.2 3.5 0.3 1.4 0.3 -0.6 0.2 6.2 0.3 -4.9 0.3 -1 0.2 -0.5 0.3 -2.9 0.3 6 0.2 -5.4 0.3 0.7 0.3 5.3 0.2 -0.7 0.3 -3.7 0.3 1.7 0.2 2.6 0.3 -0.3 0.3 2 0.2 2.6 0.3 -3 0.3 2.3 0.2 0.7 0.3 -0.8 0.3 -5.3 0.2 0.7 0.3 -5.1 0.3 5.7 0.2 -1.9 0.3 -1.4 0.3 2.5 0.2 -1.6 0.3 0.9 0.3 -0.7 0.2 2.7 0.3 -2.5 0.3 -6.6 0.2 1.1 0.3 -0.9 0.3 2.2 0.2 -0.3 0.3 1.6 0.3 -2.3 0.3 1.4 0.2 -0 0.3 -3.3 0.3 5.1 0.2 -0 0.3 2.3 0.3 -1.8 0.2 4.6 0.3 -0.4 0.3 -2.7 0.2 -1.8 0.3 2 0.3 -0.7 0.2 1.2 0.3 -1.7 0.3 3.6 0.2 -2.2 0.3 -1.3 0.3 2.4 0.2 1.8 0.3 -3.6 0.3 -3.5 0.2 7.6 0.3 -8 0.3 -0.5 0.2 6.2 0.3 0.4 0.3 0.1 0.2 -3.5 0.3 -1.3 0.3 -2.1 0.2 0.1 0.3 1.7 0.3 -0.9 0.2 3.3 0.3 0.7 0.3 -0.3 0.2 -0.9 0.3 -3.1 0.3 -1.7 0.2 4 0.3 -3.2 0.3 1.1 0.2 3.8 0.3 -1 0.3 -2.5 0.2 -1.4 0.3 2.7 0.3 -0.5 0.2 -1.2 0.3 4.4 0.3 -1.3 0.3 -0.4 0.2 6.8 0.3 -6 0.3 -0.2 0.2 4.7 0.3 -3.2 0.3 0.6 0.2 1.8 0.3 -0.3 0.3 -0.2 0.2 -3.6 0.3 -1.4 0.3 1 0.2 -2.6 0.3 0.5 0.3 1 0.2 1.7 0.3 -6.3 0.3 1.8 0.2 6.2 0.3 -1.2 0.3 1.7 0.2 -1.7 0.3 -2.8 0.3 4.3 0.2 -0 0.3 -1.9 0.3 2.1 0.2 -2.6 0.3 1.1 0.3 2.8 0.2 1.8 0.3 1.4 0.3 -1.3 0.2 -4.8 0.3 -5.1 0.3 -2.1 0.2 -1.5 0.3 3 0.3 0.8 0.2 -0 0.3 2 0.3 -1.6 0.2 -2.8 0.3 5.7 0.3 -3.4 0.2 1 0.3 3.6 0.3 -2.3 0.3 -0.3 0.2 -0 0.3 -0.5 0.3 -4 0.2 5.1 0.3 -1 0.3 -2.7 0.2 0.7 0.3 3.9 0.3 -1.6 0.2 -1.4 0.3 1.9 0.3 1.7 0.2 -0 0.3 0.5 0.3 1.8 0.2 -4.5 0.3 3.8 0.3 -0.9 0.2 -0.3 0.3 1.9 0.3 1.1 0.2 0.3 0.3 -4.2 0.3 -1.5 0.2 0.2 0.3 1.1 0.3 -1 0.2 0.6 0.3 3 0.3 -3.2 0.2 2.9 0.3 2.6 0.3 1.9 0.2 1.1 0.3 0.8 0.3 -2.5 0.2 -0 0.3 -6.7 0.3 -0.4 0.2 3.9 0.3 1.1 0.3 -0.7 0.2 2.3 0.3 -2.6 0.3 -1.3 0.2 -1.5 0.3 2.7 0.3 -5.5 0.2 4.8 0.3 5.8 0.3 -1.2 0.3 -4.7 0.2 -3.1 0.3 -0 0.3 1.9 0.2 -4.7 0.3 -0.9 0.3 3.3 0.2 1.3 0.3 3.3 0.3 -2 0.2 1.1 0.3 -0.4 0.3 0.4 0.2 -4.9 0.3 3.8 0.3 -1.9 0.2 2.3 0.3 -4.3 0.3 0.3 0.2 0.9 0.3 3.4 0.3 -0.8 0.2 -2.6 0.3 -3 0.3 4.1 0.2 -0.1 0.3 -1.4 0.3 0.8 0.2 3.1 0.3 -3.5 0.3 3.8 0.2 -1 0.3 -1 0.3 0.5 0.2 3.3 0.3 -3.4 0.3 3.6 0.2 -5.7 0.3 6.1 0.3 -4.8 0.2 0.4 0.3 0.5 0.3 -5.5 0.2 -0.2 0.3 3.3 0.3 -5 0.2 2.8 0.3 -0.2 0.3 2.2 0.2 -2.5 0.3 0 0.3 -0.1 0.3 -0.4 0.2 -1.1 0.3 0.4 0.3 -1.3 0.2 6.7 0.3 -6.9 0.3 1.5 0.2 0.3 0.3 -3.1 0.3 0.9 0.2 -5.4 0.3 7.5 0.3 -2.4 0.2 3.1 0.3 1.5 0.3 2.9 0.2 1.6 0.3 -2.7 0.3 4.4 0.2 -4.2 0.3 3.4 0.3 -3.6 0.2 3.6 0.3 -1.7 0.3 -0.6 0.2 -2.4 0.3 -0.1 0.3 -2.9 0.2 7.1 0.3 -1.7 0.3 3.4 0.2 -2.2 0.3 -1.4 0.3 0.7 0.2 -0.2 0.3 -0.6 0.3 -3.7 0.2 4.3 0.3 1.3 0.3 1 0.2 -1 0.3 -1.9 0.3 -3 0.2 0.2 0.3 -2.5 0.3 3 0.2 1.1 0.3 -6.1 0.3 5 0.3 -3.4 0.2 3.6 0.3 -0.2 0.3 1.7 0.2 6.2 0.3 -1 0.3 0.6 0.2 -2.7 0.3 -3.1 0.3 -0.9 0.2 2.2 0.3 -2.9 0.3 0.4 0.2 -0.6 0.3 -3.1 0.3 -1.6 0.2 4.6 0.3 0.9 0.3 -2.6 0.2 1.7 0.3 0.7 0.3 0.8 0.2 1.3 0.3 3.4 0.3 -1.7 0.2 0.4 0.3 1.5 0.3 -2.1 0.2 -2.4 0.3 -2.5 0.3 3.2 0.2 -6.7 0.3 8.4 0.3 -1.6 0.2 -3.4 0.3 3.7 0.3 0.3 0.2 -4.2 0.3 6.8 0.3 -3.6 0.2 -0.4 0.3 -3.9 0.3 -4.3 0.2 -0.9 0.3 2.7 0.3 0.5 0.2 3 0.3 5 0.3 -2.8 0.2 -1.7 0.3 -1.5 0.3 -5 0.3 2.6 0.2 3.5 0.3 1 0.3 -1.6 0.2 1.8 0.3 -2.3 0.3 7.4 0.2 -2.3 0.3 -3.9 0.3 0.2 0.2 0.5 0.3 -3.7 0.3 -0.2 0.2 1.1 0.3 -2.4 0.3 -1 0.2 6 0.3 0.4 0.3 -2.4 0.2 3.7 0.3 -0.3 0.3 -4.6 0.2 4.3 0.3 -8.3 0.3 1.6 0.2 0.6 0.3 -3.5 0.3 4.7 0.2 1.8 0.3 -1.7 0.3 -3.2 0.2 8.8 0.3 -3.3 0.3 -3.2 0.2 5.3 0.3 4.3 0.3 -6.2 0.2 -0.3 0.3 -1.4 0.3 -0.9 0.2 6.9 0.3 -3.2 0.3 1 0.2 -1.1 0.3 0.5 0.3 -5.8 0.2 1.9 0.3 -3.8 0.3 1.7 0.3 -2.9 0.2 9.6 0.3 -2.5 0.3 -0.3 0.2 0.9 0.3 -2.8 0.3 2 0.2 -7.1 0.3 1.6 0.3 1.2 0.2 -4.1 0.3 -0.6 0.3 -1.6 0.2 2 0.3 -2.1 0.3 -1.2 0.2 0.6 0.3 6 0.3 -4.9 0.2 -1.5 0.3 0.6 0.3 2.4 0.2 1.5 0.3 -4.8 0.3 -0.6 0.2 -1.6 0.3 0.7 0.3 0.3 0.2 3.2 0.3 -2.8 0.3 3.4 0.2 -3.3 0.3 6.5 0.3 -2.7 0.2 -0.3 0.3 1.6 0.3 -4.9 0.2 2.1 0.3 -0.2 0.3 -0.7 0.2 -2.1 0.3 -3.3 0.3 4.8 0.2 -2.5 0.3 2.6 0.3 2.3 0.2 1.3 0.3 -0.8 0.3 -1.9 0.2 -1.3 0.3 -0.4 0.3 -7.4 0.3 3.3 0.2 5 0.3 -0.4 0.3 -2.2 0.2 -1.3 0.3 -2.8 0.3 -4.4 0.2 2.6 0.3 5.4 0.3 -1.2 0.2 2.4 0.3 3.2 0.3 -7.3 0.2 1.4 0.3 -1.3 0.3 1.9 0.2 -3.3 0.3 -0.8 0.3 2.2 0.2 0.3 0.3 -6.1 0.3 6.8 0.2 -2 0.3 -2.3 0.3 2.4 0.2 8.2 0.3 -13.1 0.3 3.7 0.2 -0.9 0.3 0.4 0.3 6.5 0.2 3.5 0.3 -3.9 0.3 -0.5 0.2 1.9 0.3 -0.1 0.3 -7.2 0.2 2.7 0.3 -3.8 0.3 -2.1 0.2 1.9 0.3 1.4 0.3 6.2 0.2 4.6 0.3 -2 0.3 0.7 0.2 -0.7 0.3 -2.2 0.3 -2.5 0.2 0.2 0.3 0.2 0.3 0.9 0.3 1.5 0.2 -0.4 0.3 -0.4 0.3 -5.6 0.2 9.1 0.3 -5.9 0.3 5.3 0.2 -0.6 0.3 -3.2 0.3 1.8 0.2 -4.8 0.3 3.3 0.3 -1.2 0.2 2.3 0.3 -1.9 0.3 0.6 0.2 1.9 0.3 -1.7 0.3 -2 0.2 -0.6 0.3 0.8 0.3 0.6 0.2 1.2 0.3 -0.1 0.3 0.3 0.2 -1.4 0.3 4.3 0.3 -5.3 0.2 4.2 0.3 -2.3 0.3 -4.3 0.2 -1.1 0.3 0.6 0.3 -0.3 0.2 -3.2 0.3 1.5 0.3 4.2 0.2 -4.7 0.3 2.1 0.3 2 0.2 -6 0.3 -3.3 0.3 -1 0.2 -2.8 0.3 -5.2 0.3 2.6 0.2 2.1 0.3 -4 0.3 4.4 0.3 6.9 0.2 1.4 0.3 -3.1 0.3 1 0.2 -2.9 0.3 -2.1 0.3 2.6 0.2 3.2 0.3 -8.4 0.3 3.2 0.2 -1.9 0.3 -1.7 0.3 -6.6 0.2 0.9 0.3 -2.8 0.3 6.1 0.2 -8.1 0.3 8.9 0.3 -5.7 0.2 -2 0.3 -1.5 0.3 2.6 0.2 -4.8 0.3 -1.9 0.3 -2.1 0.2 5.5 0.3 -2.9 0.3 7.9 0.2 -3.8 0.3 2.6 0.3 -3.9 0.2 -1.9 0.3 -3 0.3 4.7 0.2 -2.9 0.3 -5.3 0.3 0.3 0.2 -2.1 0.3 -0.9 0.3 -1.1 0.2 -2.9 0.3 -0.7 0.3 -2 0.2 -7.4 0.3 1.8 0.3 9.9 0.2 -3.9 0.3 -0.4 0.3 0.4 0.2 -13.5 0.3 -3.4 0.3 7.8 0.3 -9.2 0.2 -6.9 0.3 3.7 0.3 -2.2 0.2 -4 0.3 1.4 0.3 1.6 0.2 -3.2 0.3 -3 0.3 0 0.2 -4 0.3 -6.6 0.3 0.3 0.2 -5.2 0.3 -0.2 0.3 -1.9 0.2 -14 0.3 1.2 0.3 -3.4 0.2 -3.2 0.3 3.7 0.3 -12.2 0.2 6.3 0.3 -12.5 0.3 -0.2 0.2 -12.6 0.3 -6.1 0.3 -5.5 0.2 6.2 0.3 -15.4 0.3 6.6 0.2 -8.6 0.3 -0.5 0.3 -1.5 0.2 -9.7 0.3 -6.6 0.3 -13.4 0.2 -14.3 0.3 -9.6 0.3 -0.9 0.2 -7.1 0.3 -7.1 0.3 -9 0.2 -3.7 0.3 -4.7 0.3 -5.1 0.2 -2 0.3 -12.6 0.3 -7.3 0.3 -9.9 0.2 -12.6 0.3 -8.3 0.3 -7.6 0.2 -6.8 0.3 -8.7 0.3 -2.4 0.2 -16.6 0.3 -9.1 0.3 -10.8 0.2 2.5 0.3 -8 0.3 -1.1 0.2 -2 0.3 -21 0.3 -2.2 0.2 -1.5 0.3 -0.4 0.3 -7.6 0.2 10.2 0.3 -8.7 0.3 3.8 0.2 -3.4 0.3 6.3 0.3 -7.3 0.2 11.9 0.3 -0.9 0.3 5 0.2 7.8 0.3 9.9 0.3 -4.2 0.2 6 0.3 11.4 0.3 -2.7 0.2 12.5 0.3 6.7 0.3 7 0.2 17.4 0.3 3.5 0.3 10.5 0.2 11.4 0.3 14.8 0.3 -0.7 0.2 5.8 0.3 4.8 0.3 13 0.2 -2.7 0.3 9.2 0.3 7.2 0.2 9.8 0.3 1.9 0.3 14.6 0.3 2.9 0.2 10.3 0.3 4 0.3 8.2 0.2 11.8 0.3 -0.5 0.3 9 0.2 1.9 0.3 8.9 0.3 -2.1 0.2 11.9 0.3 2.2 0.3 7 0.2 11.5 0.3 4.4 0.3 1.1 0.2 5.9 0.3 -7.8 0.3 10 0.2 3 0.3 1.9 0.3 3.4 0.2 6.2 0.3 3.4 0.3 8.3 0.2 11.1 0.3 -4.1 0.3 -1.4 0.2 9 0.3 -0.1 0.3 -8.5 0.2 4.2 0.3 10.6 0.3 -5.7 0.2 7.3 0.3 2.1 0.3 -10.9 0.2 6.6 0.3 0.8 0.3 1.3 0.2 -3.2 0.3 10.4 0.3 -4.4 0.2 6.9 0.3 -2.1 0.3 7.5 0.2 5.8 0.3 -2.1 0.3 0.9 0.2 -2.5 0.3 3.6 0.3 -0.9 0.3 4.4 0.2 -1 0.3 4.4 0.3 0 0.2 0.6 0.3 1.7 0.3 0.2 0.2 2.9 0.3 1.2 0.3 -2.9 0.2 5.6 0.3 6.5 0.3 -7.2 0.2 7.1 0.3 -4.7 0.3 0.4 0.2 -7.5 0.3 5.1 0.3 -0.6 0.2 -1.6 0.3 9.5 0.3 -3.2 0.2 2.2 0.3 1.3 0.3 6 0.2 -3.3 0.3 -4.1 0.3 1.1 0.2 1.8 0.3 0.6 0.3 6.4 0.2 -1.8 0.3 -0.6 0.3 3 0.2 -2.5 0.3 2.1 0.3 6.4 0.2 -5.4 0.3 -2.5 0.3 1.3 0.2 -2.6 0.3 -1.8 0.3 -1 0.2 0.9 0.3 0.1 0.3 2.4 0.2 -0.9 0.3 0.5 0.3 4 0.3 0.5 0.2 4 0.3 -2.1 0.3 -1.3 0.2 -4.5 0.3 4.1 0.3 -5.7 0.2 1.8 0.3 4.7 0.3 -2.8 0.2 -0.9 0.3 1.4 0.3 3 0.2 2.3 0.3 -1.6 0.3 3.8 0.2 3.2 0.3 -2 0.3 -4.9 0.2 5.7 0.3 -0.7 0.3 -3.5 0.2 0.6 0.3 0 0.3 5 0.2 -6.5 0.3 4.7 0.3 -1.6 0.2 -3.7 0.3 -0.7 0.3 -3.8 0.2 -2.3 0.3 0.8 0.3 0.4 0.2 4.8 0.3 -6.1 0.3 7 0.2 -4.1 0.3 -3 0.3 7 0.2 -3.1 0.3 -2.4 0.3 3.2 0.2 0.7 0.3 -4.1 0.3 -0.8 0.2 -2.7 0.3 3.2 0.3 -0.2 0.2 5.4 0.3 2 0.3 0.1 0.3 0.7 0.2 0.7 0.3 -4.6 0.3 3.8 0.2 -1.5 0.3 -3.3 0.3 3.4 0.2 -5.7 0.3 1.5 0.3 1.3 0.2 0.5 0.3 -2.2 0.3 -1.5 0.2 -3.6 0.3 -4.8 0.3 -0.2 0.2 3 0.3 4.7 0.3 -3.4 0.2 7.1 0.3 -2.7 0.3 -3.4 0.2 2.2 0.3 5 0.3 -3.8 0.2 1.8 0.3 -3.5 0.3 -0.5 0.2 -2.8 0.3 -2.6 0.3 2.8 0.2 4.7 0.3 -0.3 0.3 -0.7 0.2 -3.1 0.3 4.1 0.3 -1.7 0.2 -1.6 0.3 0.7 0.3 3.7 0.2 -1 0.3 -4.5 0.3 2.3 0.2 -9.5 0.3 4.3 0.3 0 0.2 -1.7 0.3 -1.8 0.3 -0.7 0.3 1.6 0.2 -0.5 0.3 4 0.3 -7.3 0.2 0.8 0.3 -0.2 0.3 9.8 0.2 -0.2 0.3 -3.8 0.3 -2.2 0.2 -1.8 0.3 6.2 0.3 -5.6 0.2 4.8 0.3 -3.7 0.3 -1.8 0.2 -3 0.3 -2.5 0.3 -5.5 0.2 7.4 0.3 -7.9 0.3 0.2 0.2 2.5 0.3 -2.2 0.3 -1.1 0.2 -6 0.3 -4.6 0.3 2.6 0.2 -2.7 0.3 -2.6 0.3 3.1 0.2 3.1 0.3 -11.6 0.3 0 0.2 -1 0.3 -11.6 0.3 -2.8 0.2 -1.6 0.3 1.7 0.3 -11.7 0.2 -0.1 0.3 -0.6 0.3 -8 0.2 -11.8 0.3 1.1 0.3 -3.9 0.2 -10.2 0.3 -0.2 0.3 -4.9 0.2 -3.2 0.3 -10.4 0.3 -2.3 0.3 -9 0.2 -10.2 0.3 -7.6 0.3 -11.3 0.2 -11.7 0.3 -7.6 0.3 -10.3 0.2 -11.6 0.3 -8.9 0.3 -8.6 0.2 -9.8 0.3 -16 0.3 -17.5 0.2 -12.5 0.3 -9.4 0.3 -14.2 0.2 -7.7 0.3 -1.9 0.3 -13 0.2 -6.5 0.3 -9.1 0.3 -7.2 0.2 0.5 0.3 3 0.3 -7.5 0.2 10.3 0.3 -4.1 0.3 -3.8 0.2 5.6 0.3 7.7 0.3 2.1 0.2 7 0.3 10.7 0.3 5.8 0.2 -4.6 0.3 -1.3 0.3 6.1 0.2 3.3 0.3 8.4 0.3 8.9 0.2 5.2 0.3 9.8 0.3 -1.9 0.2 10.1 0.3 8.4 0.3 -7.1 0.2 5.2 0.3 6.5 0.3 0.4 0.2 8.2 0.3 3.6 0.3 1.9 0.3 5.7 0.2 -2.8 0.3 -3 0.3 11.8 0.2 4.6 0.3 -7.9 0.3 13.2 0.2 12.2 0.3 -2.7 0.3 0.3 0.2 7.7 0.3 11 0.3 -7.5 0.2 6.9 0.3 3.1 0.3 11.5 0.2 6.6 0.3 2 0.3 2.2 0.2 8.4 0.3 1 0.3 0.5 0.2 12.6 0.3 5.5 0.3 7.8 0.2 -1.2 0.3 15.9 0.3 0 0.2 12.1 0.3 0.8 0.3 8 0.2 9 0.3 -3.5 0.3 5.6 0.2 5.9 0.3 10.8 0.3 9.8 0.2 1.8 0.3 8.7 0.3 3.8 0.2 7.2 0.3 -5.2 0.3 8 0.2 2.4 0.3 7.4 0.3 1.1 0.2 3 0.3 4.1 0.3 -0.1 0.3 2 0.2 -3.4 0.3 4.6 0.3 6.6 0.2 6 0.3 -1.5 0.3 6.3 0.2 -4.3 0.3 2.1 0.3 3.2 0.2 0.9 0.3 3.1 0.3 4.8 0.2 -0.8 0.3 -1.3 0.3 -1 0.2 4.9 0.3 -0.2 0.3 0.4 0.2 2.8 0.3 0.6 0.3 -7.9 0.2 5.7 0.3 -3.2 0.3 1.1 0.2 -6.8 0.3 4.9 0.3 -1 0.2 7.2 0.3 0 0.3 4.6 0.2 -3.1 0.3 -0.9 0.3 0.1 0.2 3 0.3 0.5 0.3 0.9 0.2 4.2 0.3 1.1 0.3 -1.6 0.2 3.5 0.3 -4.8 0.3 3.8 0.2 -4.9 0.3 3.6 0.3 1.9 0.2 -0.1 0.3 -1.5 0.3 3.1 0.2 -3.8 0.3 -1.6 0.3 2.7 0.3 0.4 0.2 -3.6 0.3 -3.3 0.3 4.2 0.2 -5.4 0.3 -2.9 0.3 7.7 0.2 -1.3 0.3 -2.4 0.3 3.8 0.2 0.1 0.3 0.7 0.3 5.4 0.2 -2.4 0.3 -0.4 0.3 2.3 0.2 -8.5 0.3 2.3 0.3 -5.1 0.2 4.3 0.3 2.7 0.3 -0.2 0.2 2.2 0.3 -3.7 0.3 -0.9 0.2 1.8 0.3 -1.4 0.3 -2.5 0.2 0.8 0.3 3.3 0.3 -1.8 0.2 -0.5 0.3 1.5 0.3 -2.4 0.2 5.9 0.3 -5.1 0.3 -0.2 0.2 2.2 0.3 -2.2 0.3 2.4 0.2 -0.3 0.3 -1.9 0.3 5.9 0.2 -3.4 0.3 3 0.3 2.5 0.2 -4.9 0.3 -1.1 0.3 1.8 0.3 2.2 0.2 0.6 0.3 0.2 0.3 0.3 0.2 0.3 0.3 -1 0.3 1.6 0.2 2.7 0.3 -3.7 0.3 -0.1 0.2 -2 0.3 1.5 0.3 0.4 0.2 0.3 0.3 -0.4 0.3 -0.6 0.2 -6.6 0.3 3.1 0.3 -0.2 0.2 -1.2 0.3 -0.3 0.3 0.6 0.2 1.4 0.3 -3.2 0.3 1.2 0.2 2.1 0.3 4.6 0.3 0.7 0.2 0.9 0.3 -2.5 0.3 1.3 0.2 -2.4 0.3 -0.4 0.3 1.4 0.2 -3.3 0.3 2 0.3 0.2 0.2 1.3 0.3 -4.1 0.3 5.6 0.2 1.1 0.3 0.5 0.3 1.5 0.2 2.1 0.3 -1.6 0.3 -3 0.2 -2.7 0.3 -3.2 0.3 5.8 0.2 -0.9 0.3 4.7 0.3 -7.4 0.3 4.4 0.2 -3 0.3 -6.9 0.3 -0.7 0.2 5.5 0.3 -5.5 0.3 5.9 0.2 5.5 0.3 -0.9 0.3 -0.6 0.2 2.7 0.3 2.2 0.3 -7.5 0.2 3.3 0.3 -2.8 0.3 -7.4 0.2 1.1 0.3 1.4 0.3 3.4 0.2 -1.7 0.3 0.9 0.3 5.4 0.2 -1.6 0.3 2.5 0.3 1.3 0.2 3.8 0.3 -3.8 0.3 -2.2 0.2 1 0.3 -3.2 0.3 2.5 0.2 -2.5 0.3 0.2 0.3 1.6 0.2 1.4 0.3 -0.3 0.3 -0.2 0.2 3.1 0.3 -2.9 0.3 1.6 0.2 -0.2 0.3 -4 0.3 1.6 0.2 0.8 0.3 2.1 0.3 -4.1 0.2 -4.2 0.3 5.2 0.3 -3.3 0.3 -4.2 0.2 0.6 0.3 4.3 0.3 -0.8 0.2 2.2 0.3 -0.2 0.3 0.9 0.2 1.6 0.3 -1.7 0.3 0.4 0.2 -0.8 0.3 0.1 0.3 -2.8 0.2 -1.6 0.3 -3.3 0.3 7.8 0.2 -2.9 0.3 4 0.3 0.6 0.2 -2.1 0.3 3.3 0.3 1.4 0.2 -2.9 0.3 -1.8 0.3 2.5 0.2 -0.5 0.3 2.5 0.3 -0.1 0.2 1 0.3 -2.3 0.3 0.7 0.2 -2 0.3 1.7 0.3 -3.1 0.2 -1.3 0.3 -2.2 0.3 1.5 0.2 2.6 0.3 -3.4 0.3 3.9 0.2 2.8 0.3 -2.8 0.3 -6 0.2 1.2 0.3 2.1 0.3 1.3 0.2 0.4 0.3 2.2 0.3 2.2 0.2 -0.1 0.3 -3.7 0.3 3.7 0.3 -4.3 0.2 0.2 0.3 -0.8 0.3 -0.6 0.2 0.4 0.3 0.9 0.3 -0.1 0.2 -0.7 0.3 2.9 0.3 0.1 0.2 -4.5 0.3 -0.2 0.3 1.3 0.2 -2.9 0.3 0.9 0.3 3.7 0.2 -1.2 0.3 1.9 0.3 -1 0.2 -0.1 0.3 -0.2 0.3 -2 0.2 1.9 0.3 -3.3 0.3 -0.3 0.2 0.4 0.3 4.2 0.3 -5.5 0.2 4.9 0.3 0.4 0.3 -0.9 0.2 -4.3 0.3 -1.3 0.3 3.8 0.2 0.7 0.3 -3.9 0.3 7 0.2 1.5 0.3 0.2 0.3 0.4 0.2 -1.5 0.3 -2.1 0.3 4.1 0.2 0.9 0.3 -4 0.3 -1.6 0.2 -1.6 0.3 -4.2 0.3 3 0.2 0.8 0.3 -0.1 0.3 4.5 0.3 1.1 0.2 -4.4 0.3 6.7 0.3 -4.8 0.2 7.6 0.3 -5.8 0.3 2.1 0.2 0.2 0.3 0 0.3 2.7 0.2 0.4 0.3 -3.1 0.3 -1.6 0.2 0.9 0.3 -1.4 0.3 0.9 0.2 -5.6 0.3 -0.5 0.3 2.9 0.2 -0.3 0.3 1.5 0.3 -1.3 0.2 1.2 0.3 -0.9 0.3 -1.8 0.2 5 0.3 -3.2 0.3 5 0.2 -2.7 0.3 0 0.3 1 0.2 -0.2 0.3 -0.8 0.3 -2.3 0.2 -4.1 0.3 2.4 0.3 -2 0.2 3.6 0.3 1.3 0.3 2.7 0.2 1.6 0.3 -1.5 0.3 -4 0.2 -2 0.3 -3.2 0.3 2 0.2 -0.4 0.3 3.1 0.3 0.5 0.3 -3.2 0.2 2.3 0.3 -0.2 0.3 0.9 0.2 2.3 0.3 -0.8 0.3 0.2 0.2 0.8 0.3 -4 0.3 3.7 0.2 -3.5 0.3 1.9 0.3 0.5 0.2 -2.1 0.3 4.5 0.3 0.2 0.2 -3 0.3 -0.4 0.3 0.5 0.2 1.1 0.3 -1.6 0.3 -4.6 0.2 -1 0.3 0.4 0.3 -1.4 0.2 3.5 0.3 6.2 0.3 -2.1 0.2 7.3 0.3 -2.8 0.3 -1.2 0.2 2.7 0.3 -4.5 0.3 1.4 0.2 -2.6 0.3 0.8 0.3 -3.7 0.2 3.7 0.3 -4.2 0.3 4.4 0.2 -1.9 0.3 0 0.3 -0.1 0.2 -2 0.3 -0.5 0.3 7.3 0.2 0.6 0.3 -3.9 0.3 2.6 0.2 -4.3 0.3 2.1 0.3 -1.6 0.3 1.7 0.2 -0.7 0.3 -2.3 0.3 0.2 0.2 1.2 0.3 0.8 0.3 2.5 0.2 0.7 0.3 -0.4 0.3 -2.5 0.2 -0.3 0.3 -0.1 0.3 -3.6 0.2 4.9 0.3 1.2 0.3 -0.8 0.2 -1.4 0.3 3.4 0.3 -0.1 0.2 -3.3 0.3 1.1 0.3 -0.4 0.2 1 0.3 -0.1 0.3 0 0.2 -0.6 0.3 -1.4 0.3 4.6 0.2 -1.8 0.3 4.4 0.3 -8.1 0.2 -1.3 0.3 -2.3 0.3 0.4 0.2 -0.5 0.3 2.4 0.3 2.4 0.2 3.7 0.3 -1.2 0.3 3.4 0.2 -1.8 0.3 -2.1 0.3 -1 0.2 -2.4 0.3 2.8 0.3 -1 0.2 3.1 0.3 0.6 0.3 -4.9 0.3 4.5 0.2 -0.9 0.3 -3.6 0.3 0.6 0.2 3.9 0.3 -3 0.3 2 0.2 1.9 0.3 0 0.3 -4.5 0.2 0 0.3 -3 0.3 0.9 0.2 -5.6 0.3 4.1 0.3 -0.8 0.2 5.5 0.3 -5.4 0.3 2.4 0.2 1.5 0.3 -0.4 0.3 -3.7 0.2 7.8 0.3 -4.6 0.3 4.7 0.2 -5 0.3 3.5 0.3 -2.7 0.2 0 0.3 0.2 0.3 0.1 0.2 -0.4 0.3 -0.8 0.3 1.2 0.2 2.4 0.3 -0.3 0.3 2.8 0.2 -3 0.3 -2 0.3 -2.7 0.2 3.3 0.3 1.7 0.3 -1.3 0.2 -0.3 0.3 1.9 0.3 1 0.2 -0.7 0.3 -1.8 0.3 -1.7 0.2 -2.2 0.3 -0.9 0.3 -0.5 0.3 0.8 0.2 3.7 0.3 0.3 0.3 -3.1 0.2 3 0.3 -2.8 0.3 -0.3 0.2 1.6 0.3 -2.9 0.3 1.2 0.2 -0.2 0.3 3.4 0.3 -0.1 0.2 -0.2 0.3 0.2 0.3 -5.3 0.2 -1.9 0.3 2.9 0.3 -0.6 0.2 3.7 0.3 -1 0.3 -2.1 0.2 4.8 0.3 -4 0.3 4 0.2 -2 0.3 1.1 0.3 -2.3 0.2 3.8 0.3 -5.4 0.3 0.5 0.2 1.2 0.3 -1.1 0.3 9 0.2 0.6 0.3 -1.8 0.3 -4.4 0.2 -0.1 0.3 0.2 0.3 -3.2 0.2 1.5 0.3 -2.3 0.3 1.3 0.2 0.8 0.3 0.4 0.3 5 0.2 -0.8 0.3 -3.5 0.3 5.4 0.2 3.1 0.3 -3 0.3 -2.8 0.3 -5.3 0.2 2.9 0.3 -2.7 0.3 2.1 0.2 0.7 0.3 -1.9 0.3 1.7 0.2 1.1 0.3 -4.5 0.3 -2.3 0.2 4.2 0.3 5.3 0.3 0.1 0.2 -5.5 0.3 3.7 0.3 -1.7 0.2 -1.2 0.3 -4.6 0.3 6.7 0.2 -0.2 0.3 2.3 0.3 0.4 0.2 0.5 0.3 -4.1 0.3 2.6 0.2 -4.1 0.3 6.1 0.3 -3.1 0.2 -1.9 0.3 6 0.3 -7 0.2 -0.6 0.3 1 0.3 -1.1 0.2 1.5 0.3 1.1 0.3 2.9 0.2 -2.4 0.3 -0.6 0.3 -1.4 0.2 4.4 0.3 -2.8 0.3 -5.3 0.2 0.8 0.3 1.7 0.3 4.5 0.2 -1.4 0.3 -3.3 0.3 2.3 0.3 1.2 0.2 -2.3 0.3 -4.6 0.3 2.7 0.2 4.4 0.3 1.3 0.3 1.5 0.2 0 0.3 3.8 0.3 0.6 0.2 0 0.3 -4.4 0.3 -4.7 0.2 -0.4 0.3 3.5 0.3 -2.4 0.2 0.1 0.3 3.8 0.3 -4.2 0.2 1.6 0.3 -3.2 0.3 3.4 0.2 -3.3 0.3 -0.5 0.3 0 0.2 1.6 0.3 -0.9 0.3 4.7 0.2 -3.8 0.3 0.5 0.3 5.7 0.2 -0.6 0.3 -0.1 0.3 0.1 0.2 -2.4 0.3 -5.6 0.3 -1.2 0.2 2.3 0.3 -1.7 0.3 2.9 0.2 -2.3 0.3 2.7 0.3 3.9 0.2 2.7 0.3 -1.7 0.3 -0.8 0.2 0.2 0.3 -2.3 0.3 4.6 0.2 -3.7 0.3 1.3 0.3 4.1 0.3 -6.8 0.2 1.6 0.3 -4.4 0.3 0.4 0.2 0.7 0.3 -2.1 0.3 -0.5 0.2 1 0.3 -0.6 0.3 3.3 0.2 -0.2 0.3 -2.2 0.3 0.1 0.2 3.9 0.3 -1 0.3 -0.6 0.2 2.4 0.3 -2 0.3 0 0.2 0.8 0.3 -0.8 0.3 1.9 0.2 -3.6 0.3 0 0.3 -0.8 0.2 -3.1 0.3 2.1 0.3 3.4 0.2 1.7 0.3 -4.7 0.3 0.4 0.2 1.2 0.3 -1.3 0.3 1.8 0.2 -1 0.3 -2.5 0.3 1.6 0.2 3.6 0.3 -4.1 0.3 5.7 0.2 0.3 0.3 0 0.3 1.6 0.2 -0.2 0.3 2.5 0.3 -4 0.2 -0.9 0.3 1.9 0.3 -1 0.3 -1 0.2 0.3 0.3 -1.2 0.3 -5.3 0.2 0.7 0.3 -4.1 0.3 3.9 0.2 2.9 0.3 1.6 0.3 -2.5 0.2 3.6 0.3 -6.6 0.3 1.2 0.2 -2.8 0.3 2.7 0.3 2.6 0.2 3.5 0.3 -0.3 0.3 0.8 0.2 -3.2 0.3 0.7 0.3 -1.9 0.2 3.6 0.3 -3.5 0.3 -2.6 0.2 1.4 0.3 1.8 0.3 -2.5 0.2 -2.2 0.3 1.1 0.3 -1.3 0.2 7.2 0.3 -1.9 0.3 5.5 0.2 -1.7 0.3 0.5 0.3 -2.5 0.2 1.7 0.3 -3.8 0.3 -2.6 0.2 9.1 0.3 -4.9 0.3 1.7 0.2 2.7 0.3 -5.3 0.3 -1.8 0.2 1.4 0.3 -2 0.3 3.5 0.2 -4 0.3 6 0.3 -3.6 0.3 2.7 0.2 -4.2 0.3 -1 0.3 1.2 0.2 -0.3 0.3 4 0.3 -1.3 0.2 -0.8 0.3 1.2 0.3 -0.3 0.2 -0.8 0.3 1.7 0.3 -4.5 0.2 -1.9 0.3 -2.4 0.3 2.2 0.2 5.2 0.3 -0.6 0.3 -0 0.2 0.3 0.3 0.8 0.3 -3.7 0.2 -0.2 0.3 4.4 0.3 -0.1 0.2 -0 0.3 2.2 0.3 4.5 0.2 -5.4 0.3 -2.3 0.3 5.1 0.2 -3.8 0.3 -0.5 0.3 -0.5 0.2 6.5 0.3 -0.4 0.3 -5.3 0.2 -5.4 0.3 4.4 0.3 -4.2 0.2 -0.1 0.3 1.1 0.3 -3.1 0.2 2.9 0.3 -1.9 0.3 4 0.2 -0.3 0.3 2.5 0.3 0.4 0.2 -0.3 0.3 3.6 0.3 -4.5 0.3 1.8 0.2 -6.2 0.3 2.3 0.3 2.7 0.2 -0.2 0.3 2 0.3 -2.4 0.2 -1.3 0.3 1.6 0.3 -3.5 0.2 -0 0.3 2.9 0.3 3.2 0.2 -3.5 0.3 6.8 0.3 -7.6 0.2 1.7 0.3 0.7 0.3 3.3 0.2 -2 0.3 3.9 0.3 1.2 0.2 0.2 0.3 -0.4 0.3 -1 0.2 -3.7 0.3 -3.5 0.3 2.8 0.2 -1 0.3 3.6 0.3 1.4 0.2 0.5 0.3 -1.1 0.3 1.6 0.2 0.8 0.3 -2.7 0.3 -1.9 0.2 -5.2 0.3 5 0.3 -11.3 0.2 6.4 0.3 -3.7 0.3 2.5 0.2 1.6 0.3 5 0.3 -6.1 0.2 1 0.3 -2 0.3 2.8 0.3 -4.3 0.2 4.4 0.3 -1 0.3 -2.2 0.2 1.8 0.3 -0.1 0.3 -0.5 0.2 2 0.3 2.2 0.3 1.4 0.2 -3.6 0.3 1.5 0.3 0.8 0.2 -2 0.3 1.2 0.3 0.5 0.2 -4.4 0.3 4.2 0.3 -2 0.2 1.1 0.3 1.7 0.3 1.9 0.2 -4.4 0.3 -2 0.3 1.8 0.2 -0.3 0.3 0.7 0.3 -4.9 0.2 4.2 0.3 -0.1 0.3 -0.4 0.2 3.5 0.3 1.6 0.3 -2.8 0.2 2.2 0.3 -1.6 0.3 3.5 0.2 -1.1 0.3 -1.8 0.3 -2.4 0.2 0.8 0.3 1.1 0.3 -4.1 0.2 4.1 0.3 0.7 0.3 -4 0.2 1.9 0.3 0.7 0.3 -3.3 0.2 -2.3 0.3 2.5 0.3 1.2 0.3 -2.5 0.2 0.4 0.3 1.6 0.3 4.9 0.2 -1.2 0.3 -1.9 0.3 1.8 0.2 -7.1 0.3 -2.5 0.3 -1.9 0.2 7.2 0.3 0.3 0.3 1 0.2 0.2 0.3 4.7 0.3 -8.4 0.2 -4.1 0.3 1.3 0.3 0.3 0.2 4.7 0.3 1.9 0.3 -0.7 0.2 3.3 0.3 -5.5 0.3 2.7 0.2 -3.7 0.3 1.5 0.3 -2.5 0.2 -0.5 0.3 -2.6 0.3 2 0.2 2.8 0.3 -1.4 0.3 3.7 0.2 -4 0.3 0.3 0.3 -3.1 0.2 3.1 0.3 2.4 0.3 1.7 0.2 1.2 0.3 3.6 0.3 -1.8 0.2 2.1 0.3 -1.9 0.3 -2.1 0.2 -1.4 0.3 -2.7 0.3 3 0.3 -0.8 0.2 0.8 0.3 -5.5 0.3 4.7 0.2 -3.8 0.3 0.1 0.3 -2.7 0.2 5.4 0.3 -1.2 0.3 3.6 0.2 -4.8 0.3 2.9 0.3 -0.1 0.2 -3 0.3 -0 0.3 2.3 0.2 -2.2 0.3 1.7 0.3 3.1 0.2 -6.4 0.3 -3.7 0.3 5.7 0.2 0.4 0.3 -3.9 0.3 4 0.2 -0.3 0.3 1.2 0.3 1.8 0.2 -1.3 0.3 4.6 0.3 -2.8 0.2 -3.2 0.3 0.5 0.3 -0 0.2 1.2 0.3 2.4 0.3 -0.4 0.2 -5.7 0.3 1.4 0.3 -0.4 0.2 4.2 0.3 0.1 0.3 -2.8 0.2 -3 0.3 1.3 0.3 -2.1 0.2 1.3 0.3 4.8 0.3 -0.9 0.2 -1.8 0.3 -0.8 0.3 -0.1 0.3 -1.5 0.2 6.4 0.3 -1.3 0.3 2.7 0.2 -1.8 0.3 -2.9 0.3 -4.4 0.2 4.3 0.3 -2.3 0.3 -0.1 0.2 -3.6 0.3 1.4 0.3 -1.4 0.2 3.8 0.3 0.3 0.3 5 0.2 1.3 0.3 -2 0.3 -2 0.2 4.8 0.3 -5.2 0.3 3 0.2 -4.3 0.3 1.9 0.3 -2.6 0.2 -0.9 0.3 -1.5 0.3 5.9 0.2 -4.4 0.3 3.9 0.3 -0.3 0.2 1.8 0.3 -0.7 0.3 1 0.2 -1.2 0.3 -2.1 0.3 -2.4 0.2 1.1 0.3 0.4 0.3 1.1 0.2 -3.6 0.3 -1.3 0.3 1.3 0.2 2.2 0.3 -0.1 0.3 2.7 0.2 -0.5 0.3 2 0.3 -0.3 0.2 -5 0.3 -0.1 0.3 3 0.3 -4.8 0.2 3.2 0.3 -1 0.3 -1.3 0.2 -2 0.3 0.9 0.3 -2.6 0.2 -0.6 0.3 1.2 0.3 -2.8 0.2 4.1 0.3 -1.6 0.3 4.3 0.2 -3.6 0.3 2 0.3 3.2 0.2 -2 0.3 2.2 0.3 -0.5 0.2 6.1 0.3 -13 0.3 5.2 0.2 -4 0.3 -3.7 0.3 5.5 0.2 -3.7 0.3 2.7 0.3 -1.9 0.2 -0.5 0.3 -0.5 0.3 1.2 0.2 -1 0.3 3.3 0.3 6.2 0.2 -4.5 0.3 -0.6 0.3 1 0.2 -4.9 0.3 -1.5 0.3 -0.6 0.2 1.5 0.3 -2.5 0.3 -0.9 0.2 4.1 0.3 -1.1 0.3 -2.1 0.2 -0.9 0.3 3.2 0.3 2.1 0.3 1.7 0.2 2.5 0.3 -3.4 0.3 -3 0.2 -1.5 0.3 1.1 0.3 2.5 0.2 2.2 0.3 -1 0.3 1.4 0.2 -5.8 0.3 -0.3 0.3 -0.7 0.2 6 0.3 -9.7 0.3 4.3 0.2 2.2 0.3 -3.5 0.3 -0.9 0.2 -0.8 0.3 1.6 0.3 -4.1 0.2 5.1 0.3 4.1 0.3 -0.1 0.2 -8.3 0.3 3.2 0.3 -0.9 0.2 2.2 0.3 -2.4 0.3 1.4 0.2 -1 0.3 -7.2 0.3 1.6 0.2 2.5 0.3 -5 0.3 -1.4 0.2 8.1 0.3 0.1 0.3 -2.1 0.2 -2 0.3 -2.5 0.3 1.8 0.2 0.1 0.3 -1.6 0.3 -1.5 0.2 3.4 0.3 -2.2 0.3 -2.9 0.2 -1.4 0.3 -3.3 0.3 3.2 0.3 -4.4 0.2 2 0.3 3.1 0.3 -4.4 0.2 -0.7 0.3 4.9 0.3 -7.8 0.2 2.8 0.3 -6 0.3 -1.1 0.2 -0.3 0.3 -2.9 0.3 -3.8 0.2 -3.2 0.3 1.7 0.3 -2.5 0.2 -2.6 0.3 -0.8 0.3 1 0.2 1.2 0.3 -0.5 0.3 -3.1 0.2 0.4 0.3 3.1 0.3 -0.6 0.2 1.7 0.3 -11.2 0.3 8.6 0.2 -7.4 0.3 -1.5 0.3 -1.1 0.2 3.6 0.3 -6.9 0.3 3.8 0.2 1.6 0.3 -1.9 0.3 -1.5 0.2 -9.8 0.3 3.1 0.3 -5.8 0.2 -2.8 0.3 -3.1 0.3 1.5 0.2 1.8 0.3 -0.4 0.3 -7.3 0.2 0.1 0.3 -1.4 0.3 -3.1 0.3 -4.4 0.2 -1.3 0.3 4.5 0.3 -5.1 0.2 -1 0.3 -1.2 0.3 -3.5 0.2 -1.4 0.3 -1.9 0.3 1.3 0.2 -5.9 0.3 2.5 0.3 -5 0.2 -2.3 0.3 1.8 0.3 -5.3 0.2 4.8 0.3 -6.1 0.3 -2.9 0.2 -5.6 0.3 1.7 0.3 -4.9 0.2 3.2 0.3 0.3 0.3 -7.7 0.2 -2.5 0.3 -1.1 0.3 1.8 0.2 -7.5 0.3 1.4 0.3 4.1 0.2 -9.4 0.3 -0.5 0.3 7 0.2 -17.9 0.3 10.9 0.3 -9.5 0.2 7.4 0.3 4.3 0.3 -1.9 0.2 -8.1 0.3 2 0.3 0.5 0.2 -4.4 0.3 11.1 0.3 -3.5 0.2 -2.9 0.3 10.4 0.3 0.8 0.2 -10.7 0.3 2.7 0.3 1 0.3 2.8 0.2 -3.8 0.3 0.1 0.3 -2.6 0.2 -5.5 0.3 8.5 0.3 1.7 0.2 2.9 0.3 2.7 0.3 8 0.2 -12.8 0.3 9.2 0.3 3.1 0.2 2 0.3 -0 0.3 4 0.2 0.4 0.3 -3.3 0.3 0.8 0.2 0.5 0.3 1.5 0.3 0.6 0.2 -1.6 0.3 10 0.3 1.2 0.2 10.8 0.3 -7.2 0.3 9.1 0.2 -3.9 0.3 0.7 0.3 -6.9 0.2 9.7 0.3 4.6 0.3 7.8 0.2 9.7 0.3 1.3 0.3 -1.3 0.2 3.9 0.3 -6.6 0.3 6.1 0.2 0.3 0.3 -4.3 0.3 2.1 0.2 -0.9 0.3 1.7 0.3 4.7 0.2 -4 0.3 4.7 0.3 1.8 0.2 4.1 0.3 6.2 0.3 -4.2 0.3 5.4 0.2 3.3 0.3 1.9 0.3 -3.5 0.2 8.6 0.3 -1.9 0.3 -7.1 0.2 3.6 0.3 -0 0.3 1 0.2 -2.8 0.3 3.3 0.3 1.5 0.2 3.8 0.3 -1.8 0.3 3.7 0.2 0.6 0.3 3 0.3 1.8 0.2 -0.3 0.3 4.5 0.3 4.3 0.2 -3.6 0.3 2.4 0.3 -4 0.2 7.9 0.3 1.5 0.3 -0.4 0.2 -1.1 0.3 3.3 0.3 -2.6 0.2 -0.1 0.3 -4.6 0.3 2 0.2 4.7 0.3 -1.5 0.3 4.3 0.2 -0.2 0.3 1.6 0.3 2 0.2 -0.1 0.3 2.1 0.3 1.2 0.2 -2.8 0.3 -0.1 0.3 -1.8 0.2 -4.4 0.3 4.7 0.3 1.7 0.3 1.2 0.2 5.5 0.3 -0.7 0.3 -2.4 0.2 2.4 0.3 -2.9 0.3 -1.7 0.2 3 0.3 1.2 0.3 0.8 0.2 0.8 0.3 7.3 0.3 -8 0.2 5.5 0.3 0.2 0.3 -0.8 0.2 -2.3 0.3 1.9 0.3 -1 0.2 -4.7 0.3 1.2 0.3 2.9 0.2 7.4 0.3 -1.4 0.3 -2 0.2 2 0.3 0.8 0.3 -6.6 0.2 7.9 0.3 -0.9 0.3 1 0.2 -4.4 0.3 -7.4 0.3 5.5 0.2 -3.9 0.3 0.4 0.3 2.7 0.2 -3.7 0.3 4.2 0.3 -2.5 0.2 -0.3 0.3 2.5 0.3 -4.1 0.2 5.8 0.3 -3.4 0.3 -2.8 0.2 4.2 0.3 -1.8 0.3 -1.7 0.2 2.2 0.3 2.8 0.3 -3.6 0.3 5.5 0.2 -0.7 0.3 1.8 0.3 4.3 0.2 -0.6 0.3 0.3 0.3 -6.2 0.2 -3.7 0.3 6.4 0.3 -0.3 0.2 4.4 0.3 -2.4 0.3 3.6 0.2 0.1 0.3 1.5 0.3 -5.8 0.2 3.8 0.3 -2 0.3 2.9 0.2 2.8 0.3 -1.3 0.3 -3.7 0.2 -0.4 0.3 -5.4 0.3 3.3 0.2 -5.3 0.3 3.8 0.3 2.2 0.2 2 0.3 -1.4 0.3 1.4 0.2 -0.6 0.3 0.4 0.3 -1.6 0.2 7.3 0.3 -6.9 0.3 1.3 0.2 -0.2 0.3 1.9 0.3 -0.7 0.2 0.2 0.3 -1.3 0.3 5.8 0.2 -1.8 0.3 -1.3 0.3 -5 0.2 0.5 0.3 0.5 0.3 -6.4 0.3 -1.6 0.2 3.8 0.3 2 0.3 0.8 0.2 -0.1 0.3 6.9 0.3 -2.5 0.2 -1.9 0.3 -0.6 0.3 2 0.2 -5.1 0.3 2.2 0.3 -0.9 0.2 3.5 0.3 -3.9 0.3 1.3 0.2 -1.6 0.3 -0.5 0.3 -5 0.2 0.7 0.3 -3 0.3 1.4 0.2 8.1 0.3 -3.1 0.3 4 0.2 -0.7 0.3 -0.6 0.3 -3.4 0.2 5.4 0.3 -1.5 0.3 -3.1 0.2 3.4 0.3 -1.2 0.3 -3.2 0.2 -1.1 0.3 1.9 0.3 -3.3 0.2 2.9 0.3 -0.3 0.3 -3.2 0.2 3.4 0.3 -3.4 0.3 6.5 0.2 -2.8 0.3 5.5 0.3 -5.6 0.2 -1.7 0.3 5.9 0.3 -6.7 0.2 -0.5 0.3 4.3 0.3 0.3 0.3 -0.4 0.2 0.8 0.3 -2.5 0.3 -2.9 0.2 0.9 0.3 -0.5 0.3 0.5 0.2 2.9 0.3 -2.1 0.3 3.8 0.2 -0.8 0.3 -2.3 0.3 2.5 0.2 -1.7 0.3 -3.7 0.3 -2.9 0.2 3.9 0.3 -2.6 0.3 -3.3 0.2 1.5 0.3 4 0.3 0.3 0.2 -2.3 0.3 4 0.3 -7.5 0.2 1.5 0.3 -4.6 0.3 1.3 0.2 0.5 0.3 1.3 0.3 2.8 0.2 3 0.3 -0.4 0.3 -2.5 0.2 1 0.3 3.8 0.3 0.6 0.2 -5.6 0.3 2.2 0.3 -1.9 0.2 -1.2 0.3 -3.2 0.3 5 0.2 -4.7 0.3 4.9 0.3 3.6 0.2 0.9 0.3 -3.8 0.3 -1.7 0.2 -2.5 0.3 1.4 0.3 2.1 0.3 -2.3 0.2 -2.2 0.3 8.7 0.3 -3.2 0.2 -1.6 0.3 -2 0.3 2.8 0.2 -3.1 0.3 0.7 0.3 1.2 0.2 -5.8 0.3 2.4 0.3 -1.6 0.2 -1 0.3 1 0.3 2.7 0.2 -4.2 0.3 -2.3 0.3 0.1 0.2 -1.9 0.3 2.1 0.3 2.1 0.2 1.7 0.3 2.5 0.3 1.6 0.2 5.6 0.3 -4.3 0.3 0.2 0.2 0.4 0.3 4 0.3 -1 0.2 -4.4 0.3 5.2 0.3 -1.2 0.2 1.2 0.3 -0.5 0.3 -0.4 0.2 -1.6 0.3 1 0.3 -4.8 0.2 -0.4 0.3 -2.1 0.3 5.6 0.2 -4.6 0.3 3.2 0.3 2.2 0.2 2.9 0.3 -0.8 0.3 1.8 0.3 0.9 0.2 -1.4 0.3 -5.7 0.3 4.3 0.2 -4 0.3 3.5 0.3 1.4 0.2 -4.4 0.3 0.8 0.3 -0.3 0.2 -3.3 0.3 3.1 0.3 0.4 0.2 -1.8 0.3 -1.8 0.3 3.7 0.2 -1.2 0.3 -2.1 0.3 3.5 0.2 -1.2 0.3 -2.3 0.3 3.1 0.2 0.8 0.3 5.8 0.3 -2.5 0.2 0.7 0.3 -0.9 0.3 -1.6 0.2 -2 0.3 -1.7 0.3 5.7 0.2 5.4 0.3 -3.1 0.3 0.4 0.2 -0.5 0.3 5.2 0.3 1.1 0.2 3.7 0.3 -2.9 0.3 -2.8 0.2 0.8 0.3 -10 0.3 3.2 0.2 -0.1 0.3 2 0.3 -2.2 0.2 1.5 0.3 1.3 0.3 -3 0.2 3.3 0.3 2.4 0.3 -0.6 0.3 -3.2 0.2 5.6 0.3 -2.1 0.3 -0.2 0.2 0.6 0.3 2.6 0.3 -3.1 0.2 -1.4 0.3 1.8 0.3 -0.6 0.2 1.2 0.3 0.9 0.3 -3.5 0.2 4 0.3 -3.8 0.3 2.4 0.2 -1.8 0.3 -0.5 0.3 -2.3 0.2 -0.5 0.3 1.9 0.3 -5.2 0.2 2.2 0.3 4" stroke="#8064a2" stroke-width="3.7" stroke-linecap="butt" stroke-dasharray="12 9"/>
<path d="M146.0 659.1 l 0.3 1 0.3 -0.9 0.2 -1.6 0.3 -2.1 0.3 2.1 0.2 1.3 0.3 -3.5 0.3 -0.8 0.2 -2.1 0.3 1.8 0.3 3.4 0.2 0.7 0.3 -2.6 0.3 2.7 0.2 2.8 0.3 -4.2 0.3 3.2 0.2 -3.9 0.3 -1.6 0.3 1.8 0.2 -1.3 0.3 -1.6 0.3 2.7 0.2 -0.6 0.3 -0.6 0.3 4.1 0.2 -0.7 0.3 0.1 0.3 1.4 0.2 1.8 0.3 -3.3 0.3 -1 0.2 0.4 0.3 -0.8 0.3 -2.6 0.2 2.9 0.3 1.4 0.3 -2.9 0.2 1.8 0.3 -1.8 0.3 0.4 0.2 3.4 0.3 -1 0.3 3.9 0.2 -4.7 0.3 -0.1 0.3 5.1 0.2 -4.9 0.3 -1.9 0.3 0 0.2 3.9 0.3 -3.2 0.3 3.3 0.3 0.6 0.2 1.7 0.3 -6.4 0.3 0.2 0.2 -3.5 0.3 0.8 0.3 -0.3 0.2 0.9 0.3 1.5 0.3 -0.7 0.2 0 0.3 3.2 0.3 0.5 0.2 1 0.3 0 0.3 -0.1 0.2 -0.6 0.3 -2.4 0.3 1.6 0.2 0.1 0.3 -2.4 0.3 5.2 0.2 1 0.3 0.3 0.3 -1.4 0.2 2.2 0.3 -3.4 0.3 -0.8 0.2 -4.9 0.3 1.4 0.3 2.2 0.2 -1.2 0.3 4.7 0.3 0.8 0.2 -3.3 0.3 -2.2 0.3 -0.1 0.2 -4.4 0.3 2.4 0.3 5.4 0.2 0.5 0.3 -3 0.3 1.3 0.2 -3.7 0.3 0.8 0.3 0.1 0.2 0.2 0.3 1.1 0.3 1.6 0.2 -0.4 0.3 0.2 0.3 -1.5 0.3 0.1 0.2 3.8 0.3 -5.2 0.3 2.1 0.2 0.9 0.3 -2.6 0.3 1.2 0.2 2.4 0.3 1.7 0.3 2 0.2 -0.2 0.3 -0.1 0.3 1.6 0.2 -2.1 0.3 -6 0.3 5.3 0.2 -5.9 0.3 0.1 0.3 0.3 0.2 2.4 0.3 -1.9 0.3 0.8 0.2 2 0.3 -1.2 0.3 -1.2 0.2 -1.9 0.3 -3 0.3 3.2 0.2 0.4 0.3 -2.5 0.3 4.6 0.2 5.5 0.3 -1.7 0.3 2.8 0.2 -1.7 0.3 -3.3 0.3 -3.2 0.2 -3 0.3 1 0.3 2.5 0.2 -6 0.3 2 0.3 3.8 0.2 -1 0.3 0.9 0.3 4.7 0.2 -1.2 0.3 1.7 0.3 -5.5 0.3 6.9 0.2 -1.6 0.3 -1.4 0.3 -3.6 0.2 2.2 0.3 -1.2 0.3 -2.2 0.2 0.8 0.3 4.6 0.3 -0.4 0.2 -6.1 0.3 2.1 0.3 0.9 0.2 1 0.3 -6.3 0.3 3.3 0.2 2.6 0.3 -4 0.3 0.5 0.2 5.8 0.3 -3.6 0.3 -0.6 0.2 -1.2 0.3 0 0.3 0.6 0.2 0.8 0.3 -0.5 0.3 -0.4 0.2 2.7 0.3 1.2 0.3 -5 0.2 3.3 0.3 -0.9 0.3 1.1 0.2 -1.2 0.3 -3.3 0.3 -0.3 0.2 1.9 0.3 -2.8 0.3 -0.7 0.2 -1.2 0.3 4.4 0.3 2.2 0.2 0.8 0.3 -1 0.3 3.6 0.2 4.2 0.3 -3.3 0.3 -3.3 0.2 -5 0.3 3.2 0.3 -5.9 0.3 -0.7 0.2 2.9 0.3 0 0.3 -2.4 0.2 5.6 0.3 1.6 0.3 0.6 0.2 -2.2 0.3 0.8 0.3 -3.3 0.2 2.9 0.3 -0.2 0.3 1.8 0.2 -2 0.3 5.7 0.3 -3.7 0.2 1.5 0.3 4.2 0.3 -3.4 0.2 4.4 0.3 -2.7 0.3 -4.3 0.2 3.1 0.3 -3.2 0.3 -3.3 0.2 2.1 0.3 3 0.3 -0.7 0.2 0.3 0.3 -3.1 0.3 2.4 0.2 1.7 0.3 -1.7 0.3 1.9 0.2 -1.7 0.3 0.7 0.3 -1.4 0.2 4 0.3 -0.5 0.3 0.3 0.2 -4.5 0.3 -1.7 0.3 3.6 0.2 2.1 0.3 -2.3 0.3 1.7 0.2 0.9 0.3 -4.2 0.3 -3.3 0.3 -1.9 0.2 -0.3 0.3 0.3 0.3 1.5 0.2 3.1 0.3 2 0.3 0.3 0.2 0.6 0.3 1.6 0.3 -2.3 0.2 -2 0.3 2.3 0.3 0.8 0.2 -6.7 0.3 2.8 0.3 0.1 0.2 2.9 0.3 -6.2 0.3 3.1 0.2 0.4 0.3 1.8 0.3 -0.1 0.2 1.7 0.3 0 0.3 0.6 0.2 -5.3 0.3 -1.8 0.3 0.7 0.2 -1.4 0.3 5.4 0.3 -3.9 0.2 5.8 0.3 -3.2 0.3 2.8 0.2 0.7 0.3 -2.9 0.3 -0.1 0.2 3.8 0.3 -4.4 0.3 -2.7 0.2 -2 0.3 2.4 0.3 -0.4 0.2 -2.4 0.3 2.8 0.3 -4 0.2 2.5 0.3 1.7 0.3 0.1 0.2 -1.3 0.3 0.5 0.3 1.5 0.3 0.1 0.2 -2.4 0.3 4.6 0.3 1.9 0.2 -1.9 0.3 -0.8 0.3 0.8 0.2 -0.9 0.3 0.4 0.3 2.3 0.2 4.6 0.3 -3.3 0.3 -4 0.2 1.5 0.3 -1.6 0.3 0.3 0.2 -0.2 0.3 2.2 0.3 -0.5 0.2 0.1 0.3 -1.1 0.3 -2.9 0.2 -0.6 0.3 1.4 0.3 -0.1 0.2 0.6 0.3 -0.7 0.3 4.8 0.2 -1.5 0.3 -1.8 0.3 3 0.2 -0.6 0.3 -2.9 0.3 -1.3 0.2 -1.7 0.3 2.4 0.3 -3.1 0.2 3.4 0.3 3.3 0.3 -2.4 0.2 0.8 0.3 3.4 0.3 -4.7 0.2 -0.6 0.3 3.3 0.3 -0.1 0.2 -1 0.3 -0.9 0.3 -0.5 0.2 -0.3 0.3 3 0.3 -4.6 0.3 1.5 0.2 2.1 0.3 1.2 0.3 -2 0.2 -0.4 0.3 -1 0.3 -2.4 0.2 3.8 0.3 -1.6 0.3 -6.4 0.2 2.9 0.3 -2.1 0.3 1.6 0.2 1.6 0.3 3.5 0.3 0.7 0.2 -4.3 0.3 1.3 0.3 -1.3 0.2 0.2 0.3 1.6 0.3 2 0.2 1.9 0.3 1.7 0.3 -1.6 0.2 -1.7 0.3 -6 0.3 3.4 0.2 -1.9 0.3 2.1 0.3 -0.8 0.2 0.8 0.3 3.4 0.3 -4.6 0.2 -2.9 0.3 3.1 0.3 0.3 0.2 3.2 0.3 -1 0.3 4.2 0.2 -2.6 0.3 2.5 0.3 -0.8 0.2 -2.7 0.3 0.5 0.3 -1.4 0.2 1.3 0.3 2.1 0.3 -3.7 0.3 -2.6 0.2 0.5 0.3 -1.8 0.3 2.4 0.2 2.5 0.3 1.5 0.3 -1.5 0.2 0.5 0.3 2.5 0.3 0.4 0.2 -5 0.3 1.5 0.3 -1 0.2 1.1 0.3 -2.1 0.3 2.8 0.2 -1 0.3 2.8 0.3 -4 0.2 0.2 0.3 -2.3 0.3 3 0.2 -2.2 0.3 -3.4 0.3 5.8 0.2 -2.9 0.3 0 0.3 3 0.2 -1.8 0.3 2.9 0.3 -1.5 0.2 -0.9 0.3 1.1 0.3 -1.2 0.2 1.6 0.3 -1 0.3 3.5 0.2 -1.4 0.3 -2.1 0.3 -0.8 0.2 2.3 0.3 -1.2 0.3 3.4 0.2 -3.9 0.3 2.3 0.3 -3 0.2 3.5 0.3 0 0.3 -2 0.2 -2.7 0.3 3 0.3 -2.1 0.3 -3.1 0.2 5 0.3 -3.7 0.3 4.6 0.2 1.2 0.3 -1.5 0.3 -2.2 0.2 -0.4 0.3 -0.7 0.3 0.1 0.2 2.6 0.3 -1.2 0.3 -1.3 0.2 1 0.3 -1.2 0.3 -0.7 0.2 0.4 0.3 0.2 0.3 3.5 0.2 -0.5 0.3 2.8 0.3 -0.6 0.2 -2.8 0.3 0.1 0.3 -3.6 0.2 2.5 0.3 -1.9 0.3 -2.5 0.2 3.3 0.3 1.7 0.3 -4.5 0.2 1.6 0.3 0.2 0.3 3.3 0.2 0.7 0.3 1.6 0.3 -2.7 0.2 -1 0.3 3.1 0.3 0.2 0.2 0.6 0.3 -0.8 0.3 7 0.2 -6.3 0.3 -0.6 0.3 0.1 0.2 -0.7 0.3 -0.3 0.3 5.3 0.3 -4.6 0.2 0.8 0.3 2.1 0.3 -5 0.2 -6.7 0.3 6 0.3 -0.3 0.2 -3.6 0.3 -3.4 0.3 4.6 0.2 -1.3 0.3 2.1 0.3 4.2 0.2 1.9 0.3 -2.3 0.3 0.5 0.2 0.1 0.3 -1.5 0.3 -1.6 0.2 -0.1 0.3 -1.1 0.3 1 0.2 -0.1 0.3 1.2 0.3 -1.4 0.2 4.2 0.3 -1.2 0.3 -5 0.2 0.9 0.3 -0.2 0.3 3.9 0.2 -0.7 0.3 -4.1 0.3 1.6 0.2 1.7 0.3 1.1 0.3 3.3 0.2 -3.4 0.3 -2.1 0.3 -1 0.2 2.4 0.3 -1.4 0.3 2 0.2 -2.6 0.3 -0.4 0.3 2 0.2 -2.1 0.3 -1.1 0.3 0.4 0.2 1.6 0.3 -0.6 0.3 -0.3 0.3 5 0.2 -1.6 0.3 6.3 0.3 -9.8 0.2 3.6 0.3 2.3 0.3 -0.9 0.2 0.6 0.3 -1.5 0.3 -0.5 0.2 -1.8 0.3 1.3 0.3 -2.9 0.2 -1.8 0.3 5.2 0.3 -2.4 0.2 0 0.3 0.5 0.3 3 0.2 -6.9 0.3 2.1 0.3 -0.1 0.2 0.7 0.3 1.1 0.3 -0.3 0.2 1.6 0.3 -1.1 0.3 -2.1 0.2 5.7 0.3 -1 0.3 0.3 0.2 -0.2 0.3 1.8 0.3 -3.4 0.2 1.1 0.3 -2 0.3 -1.5 0.2 0.4 0.3 -4.3 0.3 4.4 0.2 -1.4 0.3 1.3 0.3 4.1 0.2 1.2 0.3 -1.2 0.3 -1.6 0.2 1.8 0.3 -5.2 0.3 0.7 0.2 4.2 0.3 -3.7 0.3 0.7 0.3 0.3 0.2 -3.8 0.3 2.1 0.3 1.3 0.2 0.5 0.3 2.9 0.3 -8.6 0.2 3.2 0.3 -2.5 0.3 -2.3 0.2 -0.8 0.3 -1.3 0.3 1.6 0.2 -1.1 0.3 4.5 0.3 -2.7 0.2 1.7 0.3 4.2 0.3 -4 0.2 5.1 0.3 0.7 0.3 -6.4 0.2 -2.2 0.3 4.2 0.3 -0.6 0.2 -5.6 0.3 5.1 0.3 4.9 0.2 -2.2 0.3 -3.2 0.3 1.8 0.2 -1 0.3 -3.8 0.3 4 0.2 -0.5 0.3 2.2 0.3 -5.4 0.2 5.4 0.3 -4.6 0.3 -2.4 0.2 4.4 0.3 5.5 0.3 -1.3 0.2 -0.2 0.3 1.2 0.3 0.7 0.2 -5 0.3 -0.5 0.3 -2 0.3 1.1 0.2 1.6 0.3 2.8 0.3 -3.7 0.2 -3.9 0.3 2.2 0.3 1.9 0.2 0.3 0.3 -2 0.3 2.1 0.2 2.2 0.3 2.4 0.3 -4.2 0.2 -0.7 0.3 3.1 0.3 -0.2 0.2 -5.4 0.3 5.6 0.3 -0.2 0.2 -0.8 0.3 -4.2 0.3 0.6 0.2 0.9 0.3 -5.5 0.3 2.5 0.2 1.1 0.3 -1.5 0.3 -6.1 0.2 6.4 0.3 -3.3 0.3 -0.2 0.2 0.7 0.3 2.9 0.3 3 0.2 -1.6 0.3 -0.4 0.3 0.5 0.2 -7 0.3 0.7 0.3 -3.4 0.2 5 0.3 0.2 0.3 0.2 0.2 -0.9 0.3 3 0.3 0.7 0.2 2.8 0.3 -2.3 0.3 -2.1 0.2 -0.6 0.3 1.1 0.3 1.5 0.3 -2.6 0.2 2.2 0.3 1.5 0.3 2.4 0.2 -6.8 0.3 0.6 0.3 -2.4 0.2 -1.9 0.3 2.8 0.3 6.8 0.2 -1.1 0.3 -1.6 0.3 0.9 0.2 -3.8 0.3 -3.5 0.3 1.8 0.2 -2.8 0.3 1.3 0.3 1.4 0.2 5.1 0.3 -1.2 0.3 -4.2 0.2 -4.9 0.3 0.1 0.3 -3 0.2 4.6 0.3 5.3 0.3 -1.1 0.2 0.4 0.3 1.5 0.3 -3 0.2 -1.1 0.3 4.3 0.3 -3.2 0.2 1.6 0.3 0.3 0.3 -1.4 0.2 -0.6 0.3 -7.5 0.3 1.7 0.2 0.1 0.3 -1.1 0.3 -1.4 0.2 -1.4 0.3 2.8 0.3 -2 0.2 4.9 0.3 -2.3 0.3 -2.9 0.3 2.4 0.2 -1.6 0.3 -1.4 0.3 -0.8 0.2 1.6 0.3 -4.3 0.3 2.4 0.2 2.4 0.3 4.3 0.3 -1.2 0.2 -0.4 0.3 0.8 0.3 2.5 0.2 -4.5 0.3 3.2 0.3 -0.4 0.2 0.3 0.3 -0.7 0.3 -3 0.2 -0.6 0.3 0 0.3 -3.3 0.2 1.5 0.3 2.9 0.3 -1.9 0.2 5.5 0.3 3.3 0.3 -3.7 0.2 -1.3 0.3 -2.9 0.3 -2.1 0.2 -3.2 0.3 2.4 0.3 -0.1 0.2 1.5 0.3 -3.8 0.3 2.1 0.2 2.3 0.3 -2.3 0.3 -7.8 0.2 10.4 0.3 -6.5 0.3 -0.1 0.2 0.2 0.3 8.1 0.3 -7.7 0.2 1.4 0.3 1.1 0.3 -1.3 0.2 -1.4 0.3 0.7 0.3 2.2 0.3 -3.1 0.2 5.8 0.3 -3.4 0.3 3.3 0.2 -3.2 0.3 3 0.3 4.6 0.2 2.1 0.3 -3.9 0.3 -3.8 0.2 -5.7 0.3 -1.6 0.3 3.4 0.2 0 0.3 -2.8 0.3 1.5 0.2 -2.2 0.3 0.4 0.3 2.4 0.2 4 0.3 3.8 0.3 -3.7 0.2 0.3 0.3 -5.2 0.3 -0.5 0.2 0.4 0.3 0.4 0.3 -1.2 0.2 -5.8 0.3 2.9 0.3 6.3 0.2 -3.6 0.3 3.7 0.3 1.1 0.2 -1.8 0.3 -5.5 0.3 -3.1 0.2 -3 0.3 3.5 0.3 0 0.2 4.3 0.3 -0.9 0.3 -1 0.2 3 0.3 -0.8 0.3 -9.7 0.2 6.2 0.3 3.7 0.3 1 0.2 -4.1 0.3 3.7 0.3 0.7 0.3 -7.9 0.2 2.2 0.3 -2.3 0.3 -3.9 0.2 6.2 0.3 1.7 0.3 1 0.2 1.8 0.3 0.5 0.3 -3 0.2 -2 0.3 2 0.3 1.9 0.2 -2.1 0.3 -0.7 0.3 -4.4 0.2 -4 0.3 -1.4 0.3 0.8 0.2 0.5 0.3 -1.7 0.3 0.8 0.2 -0.9 0.3 3.3 0.3 -6.1 0.2 5.8 0.3 2.6 0.3 -4.1 0.2 3.1 0.3 -2.6 0.3 2.4 0.2 2.3 0.3 -2.3 0.3 1.2 0.2 -5.2 0.3 -0.3 0.3 -0.3 0.2 1.1 0.3 -3.3 0.3 -1.9 0.2 4.6 0.3 0.1 0.3 -4.7 0.2 3.8 0.3 1.5 0.3 -1.9 0.2 1.4 0.3 -2.3 0.3 -0.4 0.3 5.6 0.2 0.1 0.3 1.2 0.3 -5.9 0.2 -0.4 0.3 1.2 0.3 -5.7 0.2 0.9 0.3 1.9 0.3 4.4 0.2 -8.9 0.3 2.1 0.3 -5.7 0.2 -0.7 0.3 -6.1 0.3 -3.3 0.2 -1.8 0.3 1.5 0.3 -1.2 0.2 -0.8 0.3 8.3 0.3 -3.9 0.2 6.2 0.3 -3.2 0.3 0.7 0.2 -4.2 0.3 -3.3 0.3 -4.4 0.2 5.1 0.3 -1.3 0.3 -6.2 0.2 -0.2 0.3 -5.5 0.3 1.7 0.2 -0.2 0.3 -1.7 0.3 -2.9 0.2 -0.5 0.3 -2.7 0.3 -1.8 0.2 6.7 0.3 -7.8 0.3 -0.7 0.2 0.5 0.3 0.8 0.3 -5.1 0.2 -3 0.3 -1.4 0.3 -5.4 0.2 -6 0.3 2 0.3 0.7 0.3 -7.3 0.2 0.1 0.3 -4.6 0.3 -5.5 0.2 -4.4 0.3 -0.3 0.3 -6.5 0.2 7 0.3 -4 0.3 0.7 0.2 -8 0.3 -1.1 0.3 -7.6 0.2 -0.2 0.3 -15.2 0.3 -3.8 0.2 -6.2 0.3 0.6 0.3 -6.7 0.2 -7 0.3 -5.2 0.3 -8.2 0.2 -5.7 0.3 -5.3 0.3 -11.6 0.2 1.2 0.3 -6.8 0.3 -1.2 0.2 -11.9 0.3 -8.9 0.3 -6.8 0.2 -12.2 0.3 -9.4 0.3 -5.9 0.2 -12.2 0.3 -2.7 0.3 -8.7 0.2 -5.4 0.3 -1.6 0.3 -10.3 0.2 -14.1 0.3 -8.2 0.3 -16.6 0.2 -5.1 0.3 -8.8 0.3 -14.4 0.2 -3.9 0.3 -11.1 0.3 -2 0.3 -10.5 0.2 -7.1 0.3 -9.6 0.3 -15.1 0.2 -4.2 0.3 -7.7 0.3 -0.7 0.2 -13.7 0.3 2.7 0.3 -7.8 0.2 -3.4 0.3 -5.6 0.3 6.7 0.2 -2.2 0.3 -6.6 0.3 4.3 0.2 -0.8 0.3 3.5 0.3 3.7 0.2 7.8 0.3 4.4 0.3 2.2 0.2 11.5 0.3 3.9 0.3 13.6 0.2 -1.5 0.3 18.5 0.3 10 0.2 1.2 0.3 3 0.3 21.3 0.2 4.4 0.3 16.3 0.3 9.8 0.2 15.1 0.3 7.8 0.3 12.9 0.2 2.6 0.3 -3.2 0.3 7.9 0.2 13.7 0.3 4.6 0.3 14.4 0.2 15.9 0.3 3.8 0.3 9.6 0.2 4.9 0.3 9.5 0.3 3.3 0.2 8.8 0.3 -1.1 0.3 11.3 0.3 6.4 0.2 7.5 0.3 7.3 0.3 -5.8 0.2 12.9 0.3 5.9 0.3 6.1 0.2 4.7 0.3 11.6 0.3 -0.8 0.2 1.1 0.3 6.5 0.3 0.5 0.2 8.7 0.3 2.7 0.3 6.8 0.2 -3.9 0.3 4.3 0.3 6.7 0.2 4.3 0.3 11.9 0.3 -1.3 0.2 2.1 0.3 1.8 0.3 2.4 0.2 -3.7 0.3 5.2 0.3 1.5 0.2 -2.7 0.3 8.8 0.3 2.1 0.2 2.5 0.3 1.9 0.3 2.6 0.2 0.9 0.3 1.6 0.3 -1.6 0.2 -1.6 0.3 2.2 0.3 1.4 0.2 5.1 0.3 -0.3 0.3 0.2 0.2 0.5 0.3 4.8 0.3 -3.8 0.2 3.4 0.3 -0.9 0.3 0.3 0.2 -5.1 0.3 4.3 0.3 -2.8 0.3 8.2 0.2 7.8 0.3 -0.8 0.3 1.9 0.2 6.1 0.3 -5.9 0.3 -2.6 0.2 -0.1 0.3 2.5 0.3 0.6 0.2 0.4 0.3 5.6 0.3 0.4 0.2 2.5 0.3 -2.8 0.3 0.5 0.2 -1 0.3 2.7 0.3 3.5 0.2 -5.5 0.3 3.6 0.3 1.2 0.2 -1 0.3 2.4 0.3 1.6 0.2 2.2 0.3 0.3 0.3 -4 0.2 0.4 0.3 1.1 0.3 -7.4 0.2 1.6 0.3 2.6 0.3 1.5 0.2 -4.5 0.3 -0.5 0.3 10.6 0.2 -2.7 0.3 0.7 0.3 -1.2 0.2 -1.2 0.3 -0.8 0.3 -1.4 0.2 2.6 0.3 -6.1 0.3 0 0.2 -0.3 0.3 -0.1 0.3 3.7 0.3 1 0.2 1.3 0.3 4.8 0.3 -1.9 0.2 0.3 0.3 1.5 0.3 -0.6 0.2 -1.7 0.3 4.8 0.3 -4.8 0.2 1.7 0.3 -1.4 0.3 -1.4 0.2 -3.1 0.3 -1.1 0.3 1.9 0.2 4.6 0.3 -2.6 0.3 -2.4 0.2 0.6 0.3 -1.6 0.3 2 0.2 -0.9 0.3 -1.2 0.3 0.4 0.2 2.5 0.3 0.7 0.3 -3.5 0.2 -5 0.3 3.1 0.3 8.3 0.2 -3.1 0.3 -2.7 0.3 2.5 0.2 1.4 0.3 -0.2 0.3 -0.2 0.2 -0.3 0.3 -2.3 0.3 -0.7 0.2 1.1 0.3 1 0.3 2.2 0.2 -2.2 0.3 -4.9 0.3 -0.7 0.2 7.3 0.3 -2.8 0.3 6.2 0.2 -2.8 0.3 -5 0.3 -1.7 0.3 -0.9 0.2 3 0.3 1.5 0.3 -1 0.2 0.9 0.3 -1.1 0.3 3 0.2 -0.5 0.3 -2.1 0.3 0 0.2 3.5 0.3 -0.6 0.3 -2.2 0.2 -3.6 0.3 -0.6 0.3 1.2 0.2 -3.6 0.3 -1.4 0.3 2.1 0.2 -2.8 0.3 4.9 0.3 0.5 0.2 3.4 0.3 0.4 0.3 2.2 0.2 -6.5 0.3 -4.4 0.3 -1.3 0.2 -0.4 0.3 3.9 0.3 -0.2 0.2 2.4 0.3 2.7 0.3 2.9 0.2 -1.4 0.3 -1.4 0.3 -1.7 0.2 -5.9 0.3 -0.9 0.3 -1.1 0.2 -0.4 0.3 0.2 0.3 4.3 0.2 -3.9 0.3 1 0.3 -1.8 0.2 1.7 0.3 -1.8 0.3 4.2 0.3 -2 0.2 -0.7 0.3 -4.8 0.3 2.7 0.2 -6.6 0.3 -1.7 0.3 -5.4 0.2 4.4 0.3 -3.7 0.3 -2.3 0.2 -0.3 0.3 5 0.3 0.7 0.2 -3 0.3 1.9 0.3 1.4 0.2 -3.8 0.3 -9.5 0.3 -2.8 0.2 -1.7 0.3 -2.2 0.3 -2.3 0.2 -3.6 0.3 5.8 0.3 -5.4 0.2 -3.9 0.3 -2.7 0.3 0.5 0.2 -7.7 0.3 -9.9 0.3 -6.6 0.2 10 0.3 -1.6 0.3 -8.8 0.2 -0.8 0.3 -7.8 0.3 -5.1 0.2 -15.5 0.3 3.8 0.3 -7.3 0.2 -3 0.3 -7.8 0.3 -0.4 0.2 -15.2 0.3 -2.9 0.3 -7 0.2 -18.3 0.3 -6.6 0.3 -9.4 0.2 -7.1 0.3 -8.6 0.3 -5.5 0.3 -11.5 0.2 -6.9 0.3 -17.2 0.3 -6.9 0.2 -17.5 0.3 -2.1 0.3 -14.2 0.2 -8.9 0.3 -9.3 0.3 -13.4 0.2 -2.6 0.3 -9 0.3 -13.2 0.2 -10.8 0.3 1.4 0.3 -19.8 0.2 -5.5 0.3 6 0.3 -10.6 0.2 -12.1 0.3 -3.3 0.3 -3.9 0.2 -3.9 0.3 0.8 0.3 2.4 0.2 9 0.3 4.7 0.3 3.6 0.2 5.9 0.3 7.6 0.3 3.1 0.2 15.8 0.3 0.9 0.3 9.5 0.2 11.1 0.3 1.3 0.3 13.4 0.2 6.5 0.3 14.9 0.3 5.4 0.2 3.5 0.3 2 0.3 12.3 0.2 0.7 0.3 4.3 0.3 10.5 0.2 2.9 0.3 2.1 0.3 -5.8 0.2 11.7 0.3 3.6 0.3 -0.3 0.3 1.6 0.2 5 0.3 4.8 0.3 0.2 0.2 -4.1 0.3 2.4 0.3 -8 0.2 5.8 0.3 12.9 0.3 1.6 0.2 6.7 0.3 6.5 0.3 5.9 0.2 5.1 0.3 3.3 0.3 0 0.2 8.1 0.3 3.1 0.3 5.9 0.2 1.6 0.3 15.5 0.3 4.1 0.2 6.4 0.3 3.7 0.3 12.7 0.2 6.9 0.3 2 0.3 1.6 0.2 11.9 0.3 8 0.3 1.7 0.2 9.3 0.3 9.3 0.3 0.6 0.2 13.3 0.3 1.8 0.3 5.9 0.2 6.3 0.3 9.8 0.3 3.5 0.2 4.3 0.3 3.2 0.3 1.9 0.2 5 0.3 3.5 0.3 2.3 0.2 6.2 0.3 5 0.3 -1.2 0.3 9.2 0.2 -0.5 0.3 -2.4 0.3 1.2 0.2 -3.4 0.3 -1.4 0.3 2.4 0.2 4.8 0.3 0.1 0.3 6 0.2 -0.8 0.3 3.5 0.3 -0.3 0.2 4 0.3 2 0.3 6.1 0.2 -7.1 0.3 2.9 0.3 -3.9 0.2 3.3 0.3 0 0.3 -2.2 0.2 2.7 0.3 1.1 0.3 -2.5 0.2 3.4 0.3 -1.9 0.3 -5.3 0.2 8.3 0.3 0.6 0.3 -5.2 0.2 1.1 0.3 1.6 0.3 5.6 0.2 -2.4 0.3 -1 0.3 0.4 0.2 -1.7 0.3 -0.8 0.3 -3.3 0.2 4.1 0.3 -0.9 0.3 1 0.2 -2.7 0.3 5.4 0.3 0.8 0.2 6.7 0.3 -4.4 0.3 1.2 0.2 2.8 0.3 -1.7 0.3 -5.2 0.3 3.4 0.2 -3 0.3 3.9 0.3 3.9 0.2 -7.8 0.3 3.7 0.3 -2.4 0.2 1.6 0.3 0.5 0.3 -2 0.2 2.5 0.3 6.2 0.3 -2.3 0.2 1.8 0.3 -2 0.3 3.8 0.2 -2.3 0.3 -2.8 0.3 3.9 0.2 -6.7 0.3 4.1 0.3 -3.3 0.2 -1 0.3 1.9 0.3 -2.2 0.2 1.9 0.3 0 0.3 4.1 0.2 2.9 0.3 3.7 0.3 -4.8 0.2 2.2 0.3 -6.8 0.3 3.9 0.2 -4.2 0.3 1.3 0.3 3.4 0.2 2.4 0.3 -2.7 0.3 -2.5 0.2 4 0.3 0.6 0.3 -4.1 0.2 -1.1 0.3 0.1 0.3 -0.2 0.2 -1.7 0.3 5.4 0.3 1.1 0.3 0.7 0.2 6.1 0.3 -4.8 0.3 -6.9 0.2 1.3 0.3 2.5 0.3 1.7 0.2 -4.3 0.3 3.7 0.3 3.3 0.2 -6.5 0.3 1.2 0.3 8.2 0.2 -5.1 0.3 -1.4 0.3 -2 0.2 1.4 0.3 -6.8 0.3 1.1 0.2 5.1 0.3 1.9 0.3 -0.7 0.2 -5.7 0.3 0.2 0.3 -0.8 0.2 2.1 0.3 -0.7 0.3 1.8 0.2 3.7 0.3 0.8 0.3 -2.8 0.2 -2.4 0.3 1.1 0.3 0.8 0.2 3.2 0.3 -2.7 0.3 4.6 0.2 -3.8 0.3 2.7 0.3 -0.1 0.2 2.9 0.3 -2.3 0.3 3.9 0.2 0.5 0.3 -1.6 0.3 1 0.2 3 0.3 1.2 0.3 -3.6 0.2 0.7 0.3 -2.4 0.3 -1.3 0.3 -1.3 0.2 0.4 0.3 -4.1 0.3 5.3 0.2 -3.5 0.3 0.6 0.3 -2.3 0.2 5.7 0.3 -2 0.3 2.7 0.2 -4.8 0.3 -0.5 0.3 -1 0.2 -1.1 0.3 1 0.3 1.1 0.2 2.6 0.3 5 0.3 -0.3 0.2 -4.4 0.3 -0.2 0.3 1 0.2 -1.7 0.3 1.6 0.3 -0.5 0.2 -2.2 0.3 0.8 0.3 3.2 0.2 1.6 0.3 -0.9 0.3 2.6 0.2 -1.3 0.3 -3.1 0.3 1.2 0.2 -3.5 0.3 1.5 0.3 7.5 0.2 -1.6 0.3 -4.4 0.3 2.5 0.2 -4.2 0.3 -3.4 0.3 3.1 0.2 -0.9 0.3 -1.4 0.3 -0.6 0.2 5.4 0.3 -1.2 0.3 -0.5 0.3 -7.2 0.2 4 0.3 -1.2 0.3 -3.7 0.2 -0.3 0.3 5 0.3 -1.8 0.2 1.1 0.3 1.6 0.3 0.7 0.2 1 0.3 4.2 0.3 -0.8 0.2 1.4 0.3 -3.3 0.3 2.9 0.2 -2.4 0.3 5.7 0.3 -6.9 0.2 0.3 0.3 -1.1 0.3 3.8 0.2 -4.2 0.3 -4.2 0.3 8.1 0.2 -1.6 0.3 0.8 0.3 2.6 0.2 -1.8 0.3 -0.6 0.3 -3.1 0.2 1.9 0.3 -3.7 0.3 2.9 0.2 3.9 0.3 2.9 0.3 -5 0.2 -1.3 0.3 3 0.3 -3.2 0.2 0.8 0.3 1.2 0.3 2.6 0.2 -3.2 0.3 0.1 0.3 -2.1 0.2 2 0.3 2.6 0.3 0.9 0.2 -2.3 0.3 2.7 0.3 -0.9 0.3 -4.4 0.2 1.8 0.3 -2.9 0.3 0.5 0.2 1.3 0.3 -2 0.3 0.4 0.2 -0.5 0.3 1.2 0.3 -1.1 0.2 -2.2 0.3 1.7 0.3 -0.4 0.2 0.4 0.3 -1.6 0.3 -0.3 0.2 0.4 0.3 1.6 0.3 2.7 0.2 -3 0.3 4.2 0.3 3.4 0.2 -2 0.3 -2.1 0.3 -0.4 0.2 1.9 0.3 -2 0.3 -0.1 0.2 -3.2 0.3 1.6 0.3 1.4 0.2 0.7 0.3 5.1 0.3 -6.5 0.2 5.8 0.3 0.7 0.3 -3.3 0.2 -0.7 0.3 2.7 0.3 -1.5 0.2 -2.3 0.3 3.6 0.3 0.8 0.2 -0.3 0.3 0.6 0.3 -1.2 0.2 -3.2 0.3 1.3 0.3 1.7 0.2 -0.3 0.3 -0.3 0.3 3.6 0.3 -2.6 0.2 -1.5 0.3 3.4 0.3 -1.7 0.2 -3.8 0.3 2 0.3 -1.7 0.2 -2.8 0.3 2.3 0.3 -2 0.2 -1.8 0.3 7.3 0.3 -3.5 0.2 5.1 0.3 -2.5 0.3 -1.9 0.2 -1.2 0.3 -1.9 0.3 -3.6 0.2 3.1 0.3 -1.1 0.3 0.7 0.2 1.9 0.3 1.4 0.3 0.8 0.2 -1.9 0.3 2.7 0.3 -1.1 0.2 3.9 0.3 -1.9 0.3 -1.1 0.2 -5.1 0.3 0.7 0.3 -0.6 0.2 5.7 0.3 -0 0.3 0.6 0.2 4 0.3 1.4 0.3 -0.5 0.2 -3.8 0.3 -2.3 0.3 -0.7 0.2 -0.7 0.3 -1.8 0.3 -0.8 0.2 0.3 0.3 8.4 0.3 -2.7 0.3 0.2 0.2 1.3 0.3 -2.9 0.3 -2.3 0.2 -2.4 0.3 -2.7 0.3 5.6 0.2 -1.6 0.3 3.1 0.3 -3 0.2 3.5 0.3 -2.2 0.3 -0.7 0.2 -1.9 0.3 2 0.3 5.1 0.2 -4.7 0.3 2.4 0.3 1 0.2 -1.9 0.3 -2.8 0.3 3 0.2 0.7 0.3 -2.2 0.3 -1.4 0.2 -1.1 0.3 4.5 0.3 -1.5 0.2 3.8 0.3 0.8 0.3 3.9 0.2 -3.8 0.3 4.4 0.3 -2 0.2 -0.5 0.3 1.2 0.3 -6.5 0.2 -3.5 0.3 0.7 0.3 -0.2 0.2 -2.9 0.3 2.5 0.3 -1.1 0.2 -1.2 0.3 0.3 0.3 -3.2 0.2 4.5 0.3 0.4 0.3 -0.6 0.2 1.8 0.3 0.6 0.3 -5 0.3 4.8 0.2 -4.8 0.3 2.8 0.3 0.1 0.2 2.9 0.3 0.5 0.3 -0.2 0.2 0.5 0.3 -1.5 0.3 -2.8 0.2 1.9 0.3 -2.8 0.3 5.1 0.2 2.6 0.3 0.1 0.3 2.8 0.2 -7.1 0.3 3.5 0.3 -0.3 0.2 -2.4 0.3 -0.8 0.3 2.3 0.2 1.6 0.3 0.1 0.3 0.5 0.2 1.1 0.3 -1.3 0.3 -3.8 0.2 0.5 0.3 3.9 0.3 3.4 0.2 -4.3 0.3 1.5 0.3 1.8 0.2 -8.4 0.3 0.9 0.3 -5.4 0.2 2.6 0.3 1.1 0.3 1.4 0.2 3.1 0.3 4.7 0.3 -2.2 0.2 0.7 0.3 -3.3 0.3 1.1 0.2 -0.1 0.3 0.2 0.3 -3.2 0.3 0.1 0.2 -1.8 0.3 -0.7 0.3 -0.6 0.2 0.9 0.3 -1.6 0.3 1.7 0.2 4.9 0.3 2.2 0.3 -3.6 0.2 -1.2 0.3 2.8 0.3 -1.9 0.2 1.9 0.3 1.7 0.3 4.2 0.2 -2.1 0.3 -1.5 0.3 -1.3 0.2 -0.1 0.3 -2.2 0.3 -1.1 0.2 0.9 0.3 -3.6 0.3 2.3 0.2 0.8 0.3 -1.3 0.3 -3.4 0.2 1.5 0.3 1.4 0.3 -2.8 0.2 5.1 0.3 0.8 0.3 -1.6 0.2 -1.5 0.3 6.6 0.3 -5 0.2 -3.1 0.3 6.5 0.3 -2.1 0.2 -1.2 0.3 3.6 0.3 -0.4 0.2 1.8 0.3 -1.5 0.3 1.1 0.2 3.2 0.3 -2.7 0.3 -2.3 0.2 -1 0.3 0.6 0.3 -3.9 0.3 3.1 0.2 -1.8 0.3 0.5 0.3 0.5 0.2 -0.2 0.3 7.3 0.3 -4.3 0.2 -0 0.3 -3 0.3 -2.7 0.2 2.7 0.3 3.8 0.3 -2.7 0.2 1.5 0.3 -2 0.3 -0.8 0.2 -0.8 0.3 -1.8 0.3 2.2 0.2 3.8 0.3 -0.4 0.3 -2.6 0.2 -4.5 0.3 0.7 0.3 -2.2 0.2 -0.6 0.3 4.9 0.3 4.1 0.2 -0.8 0.3 0.2 0.3 1.2 0.2 -4.3 0.3 1.3 0.3 -1.1 0.2 0.6 0.3 -1.2 0.3 -3.1 0.2 4.7 0.3 -2.2 0.3 -1.4 0.2 7.6 0.3 -2 0.3 -1 0.2 -0.6 0.3 0.7 0.3 -4.9 0.2 0.8 0.3 -0.4 0.3 6.4 0.2 0.6 0.3 -0.3 0.3 1.6 0.3 -5.3 0.2 -2.1 0.3 3.9 0.3 -1.6 0.2 2.2 0.3 -0.8 0.3 2.3 0.2 -4.5 0.3 3.5 0.3 -0.3 0.2 -3.5 0.3 0.6 0.3 1.1 0.2 -2.5 0.3 2.3 0.3 -0.2 0.2 0.7 0.3 -0.8 0.3 -4.5 0.2 -2 0.3 3.9 0.3 -0.2 0.2 2 0.3 1.4 0.3 0.6 0.2 -2 0.3 3.8 0.3 0.1 0.2 -2.3 0.3 -0.7 0.3 -1.2 0.2 -0.8 0.3 5.5 0.3 -5 0.2 -0.1 0.3 6.1 0.3 -8.6 0.2 1.7 0.3 1.5 0.3 2.1 0.2 -3.9 0.3 0.4 0.3 2.1 0.2 -0.4 0.3 -2.5 0.3 0.7 0.2 -0.8 0.3 6.2 0.3 -1.3 0.3 0.1 0.2 1.8 0.3 0.1 0.3 0.2 0.2 -3.3 0.3 -1 0.3 -1.6 0.2 -0.3 0.3 1.4 0.3 2.3 0.2 -1.9 0.3 3.5 0.3 1.6 0.2 -1 0.3 -2 0.3 -0.4 0.2 -1.3 0.3 0.5 0.3 2.2 0.2 -1.8 0.3 2.2 0.3 -1 0.2 -3.3 0.3 2.7 0.3 -0.5 0.2 -3.5 0.3 2.4 0.3 2.3 0.2 -4.7 0.3 3.6 0.3 -3.5 0.2 3.9 0.3 -0.3 0.3 0.5 0.2 -4.4 0.3 8.7 0.3 -4 0.2 -1.1 0.3 1.8 0.3 -1.4 0.2 -4.3 0.3 4.8 0.3 2.5 0.2 -1.1 0.3 2.6 0.3 1.9 0.2 -3.3 0.3 0.1 0.3 0.3 0.2 -2.9 0.3 1.7 0.3 -0.4 0.3 -2.7 0.2 -1.9 0.3 4.5 0.3 -2.3 0.2 -1.4 0.3 2.1 0.3 0.6 0.2 -2.5 0.3 -0.1 0.3 0.9 0.2 2 0.3 -3.8 0.3 4 0.2 2.6 0.3 -1 0.3 -1.9 0.2 -4.6 0.3 2.3 0.3 0.3 0.2 -0.2 0.3 5.1 0.3 -5.6 0.2 6.5 0.3 -5 0.3 2.3 0.2 -2.5 0.3 1.4 0.3 -0.2 0.2 1.1 0.3 -2.1 0.3 -0.5 0.2 -1 0.3 -1.4 0.3 -2.7 0.2 -0.2 0.3 0.6 0.3 0.2 0.2 7.2 0.3 -1 0.3 -2.6 0.2 4.3 0.3 3.1 0.3 0.9 0.2 -7.9 0.3 7 0.3 -4 0.2 1 0.3 -6 0.3 -3.8 0.3 4.8 0.2 -1.3 0.3 1.2 0.3 4.3 0.2 1.1 0.3 -2.2 0.3 -3.6 0.2 -1.6 0.3 3.1 0.3 1.7 0.2 -4.1 0.3 3.1 0.3 1.6 0.2 0.8 0.3 -1 0.3 -3.4 0.2 1.6 0.3 0.8 0.3 0.2 0.2 2.5 0.3 2.8 0.3 -3.5 0.2 -0.8 0.3 0.8 0.3 0.8 0.2 -5.5 0.3 2.7 0.3 -2.2 0.2 2.8 0.3 -2.5 0.3 -0.3 0.2 0.4 0.3 -0.7 0.3 2 0.2 1.6 0.3 -3.2 0.3 -3.8 0.2 4.6 0.3 0.2 0.3 -5.7 0.2 7.6 0.3 -1 0.3 0.4 0.2 0.9 0.3 -0.4 0.3 -5.1 0.2 0.9 0.3 0.7 0.3 1 0.2 -4.3 0.3 2.4 0.3 0.3 0.3 -2.6 0.2 0.3 0.3 2.2 0.3 -2.2 0.2 3.3 0.3 1 0.3 1.8 0.2 -2.4 0.3 3.3 0.3 -3.3 0.2 0.1 0.3 0.5 0.3 0.2 0.2 1.2 0.3 3 0.3 -1.6 0.2 -1.6 0.3 -5.8 0.3 2.4 0.2 -4.8 0.3 4.4 0.3 -3.2 0.2 1.9 0.3 3.5 0.3 3.5 0.2 -4.7 0.3 3.6 0.3 1.4 0.2 -1.7 0.3 2.8 0.3 -1.4 0.2 -0.7 0.3 2 0.3 0.8 0.2 -3.2 0.3 1.7 0.3 -3.7 0.2 0.4 0.3 0.8 0.3 -1.4 0.2 4.8 0.3 -4 0.3 -2.5 0.2 0.4 0.3 1.8 0.3 1.2 0.2 -4 0.3 4.1 0.3 1.1 0.2 -1 0.3 2.7 0.3 0.4 0.3 -2.1 0.2 2.7 0.3 -2.7 0.3 -0.1 0.2 2.8 0.3 -2.5 0.3 -3.1 0.2 2.5 0.3 -7.6 0.3 3.7 0.2 0.1 0.3 7.9 0.3 -2 0.2 -1.7 0.3 -3 0.3 1.5 0.2 3.5 0.3 1.2 0.3 -3.5 0.2 -0.8 0.3 -2.3 0.3 -0.1 0.2 2.7 0.3 -2.7 0.3 0.1 0.2 -2 0.3 2.1 0.3 2 0.2 -3.8 0.3 0.4 0.3 -0.2 0.2 3.1 0.3 -0.5 0.3 -4 0.2 1.3 0.3 -0.9 0.3 -1.5 0.2 4.3 0.3 5.3 0.3 -2.5 0.2 3.8 0.3 1.4 0.3 -3.6 0.2 -2.2 0.3 1.4 0.3 -1.9 0.2 4.8 0.3 -3.3 0.3 -0.5 0.3 0.9 0.2 1.9 0.3 -2.1 0.3 -3.7 0.2 2.3 0.3 1.7 0.3 0.5 0.2 -5.6 0.3 0.1 0.3 2.3 0.2 -4 0.3 5.3 0.3 -0 0.2 5.2 0.3 -1.8 0.3 -1.5 0.2 -2 0.3 1 0.3 1.8 0.2 0.4 0.3 -2.1 0.3 2 0.2 -0.7 0.3 -1.2 0.3 -1.5 0.2 6.7 0.3 -8.2 0.3 -0.9 0.2 0.7 0.3 -0.9 0.3 -2.5 0.2 0.8 0.3 4.7 0.3 -5.8 0.2 5.1 0.3 -1 0.3 2.1 0.2 3 0.3 -2.7 0.3 -0.4 0.2 -0.1 0.3 -3.5 0.3 3.4 0.2 1.6 0.3 -2.3 0.3 3.1 0.2 -2.6 0.3 3.2 0.3 -5.3 0.2 -3.4 0.3 -2.3 0.3 5 0.3 -2.9 0.2 -1.3 0.3 3.2 0.3 0.2 0.2 1 0.3 -3 0.3 1.8 0.2 1.3 0.3 -3.8 0.3 4.6 0.2 -1.9 0.3 -4.5 0.3 4.1 0.2 3.5 0.3 -1.2 0.3 -3.5 0.2 2.5 0.3 2.5 0.3 3.4 0.2 -1.6 0.3 0.2 0.3 -1.4 0.2 -0.8 0.3 -1.7 0.3 -1.6 0.2 1.3 0.3 -0.9 0.3 6.5 0.2 -3.5 0.3 -5.5 0.3 -1.7 0.2 1.2 0.3 -1.4 0.3 1.6 0.2 1.4 0.3 1 0.3 3.8 0.2 -0.6 0.3 -1.5 0.3 -0.1 0.2 0.2 0.3 -4.3 0.3 -2.3 0.2 2.3 0.3 -1.8 0.3 -0 0.2 -0.6 0.3 4.7 0.3 -3.5 0.3 1.4 0.2 -1.4 0.3 2.3 0.3 -4.2 0.2 4.7 0.3 4.9 0.3 -2.6 0.2 2.1 0.3 4.2 0.3 -1.5 0.2 -2.5 0.3 -5.5 0.3 3.7 0.2 -4.7 0.3 0.7 0.3 0.2 0.2 3.3 0.3 1 0.3 -3.8 0.2 3.5 0.3 -2.7 0.3 -2.3 0.2 -1.7 0.3 1 0.3 -1.8 0.2 1.7 0.3 3.9 0.3 0.7 0.2 -2.5 0.3 4.7 0.3 2.7 0.2 3.3 0.3 -2.6 0.3 -1.8 0.2 -2.6 0.3 -0.3 0.3 -1.2 0.2 -0.3 0.3 -1.9 0.3 1.2 0.2 -0.4 0.3 -0 0.3 1.2 0.2 -1 0.3 5.2 0.3 -0.1 0.2 -1.7 0.3 -1 0.3 -2.9 0.2 4.4 0.3 -3.6 0.3 0.9 0.3 0.5 0.2 0.5 0.3 -1 0.3 -1.8 0.2 -1.6 0.3 1 0.3 -0 0.2 -2.2 0.3 3.5 0.3 -2.3 0.2 1.9 0.3 -2.2 0.3 -0.8 0.2 0.3 0.3 0.6 0.3 1.4 0.2 0.6 0.3 1.4 0.3 -0.6 0.2 -4 0.3 5.1 0.3 -7.2 0.2 -2 0.3 0.9 0.3 5.4 0.2 0.8 0.3 1.9 0.3 -4.8 0.2 -1.9 0.3 -0 0.3 1.8 0.2 0.4 0.3 4.8 0.3 0.1 0.2 -1.9 0.3 -3.6 0.3 -0.1 0.2 -3.5 0.3 -0.3 0.3 -0.1 0.2 -0 0.3 3 0.3 1.2 0.2 2.7 0.3 0.2 0.3 -1.5 0.2 -2.7 0.3 -4.2 0.3 5.4 0.2 1.7 0.3 -0.1 0.3 0.1 0.3 -2.3 0.2 0.6 0.3 1.7 0.3 1.8 0.2 -3.5 0.3 -1.1 0.3 1.6 0.2 0.5 0.3 -2.4 0.3 -1 0.2 -5.2 0.3 0.5 0.3 2.1 0.2 1.7 0.3 -1.6 0.3 -3.3 0.2 6.6 0.3 -1.5 0.3 -4.5 0.2 3.7 0.3 -2.2 0.3 6.5 0.2 -8 0.3 2.1 0.3 0.6 0.2 0.4 0.3 4 0.3 -4 0.2 -2.1 0.3 -7.6 0.3 7 0.2 -3 0.3 2.8 0.3 0.4 0.2 5.1 0.3 -3.1 0.3 1.8 0.2 -1 0.3 -5.5 0.3 4.8 0.2 1.1 0.3 -3 0.3 4.6 0.2 -1.1 0.3 -3.3 0.3 -1.6 0.2 -0.4 0.3 2.6 0.3 -3.4 0.3 -1.6 0.2 1.4 0.3 -0.1 0.3 1.2 0.2 1.7 0.3 0.8 0.3 -5.2 0.2 -0.1 0.3 -1.8 0.3 -4.9 0.2 5.4 0.3 -0.3 0.3 2.2 0.2 -0.4 0.3 2 0.3 -1.6 0.2 -4.7 0.3 3.7 0.3 3.2 0.2 -3.7 0.3 -5.9 0.3 6.3 0.2 -4.4 0.3 2.9 0.3 -0.5 0.2 -2.4 0.3 -1.3 0.3 -0 0.2 -2.7 0.3 3.6 0.3 -2.7 0.2 6.4 0.3 -1.4 0.3 1.3 0.2 -0.8 0.3 0.9 0.3 6 0.2 -7.1 0.3 -2.2 0.3 1.1 0.2 1.3 0.3 -2.5 0.3 -1.6 0.2 -4.5 0.3 3.4 0.3 -2.6 0.2 -0.2 0.3 -2.7 0.3 1.4 0.2 -4.4 0.3 2 0.3 2.1 0.3 0.5 0.2 -1.4 0.3 1.6 0.3 -0.3 0.2 -2 0.3 0.7 0.3 -1.7 0.2 -4.6 0.3 4.4 0.3 -2 0.2 -3.5 0.3 -4.8 0.3 2.2 0.2 -1.8 0.3 -4 0.3 -1.2 0.2 4.3 0.3 -1.2 0.3 -0.9 0.2 -3.1 0.3 -0.5 0.3 -3.5 0.2 -5.3 0.3 1.7 0.3 -2 0.2 -0.3 0.3 -7.6 0.3 4.3 0.2 0.8 0.3 -1.6 0.3 1.3 0.2 3 0.3 1.8 0.3 -4.6 0.2 1.1 0.3 -3.8 0.3 -1.5 0.2 -5.9 0.3 -4.5 0.3 0.1 0.2 -0.4 0.3 0.8 0.3 3.2 0.2 -4.6 0.3 7.4 0.3 4 0.2 -1.6 0.3 -0.3 0.3 -8.2 0.3 -0.3 0.2 -5.3 0.3 2 0.3 -7 0.2 -4.1 0.3 0.5 0.3 -5.4 0.2 2.1 0.3 -7.8 0.3 3.8 0.2 -4.3 0.3 4.5 0.3 -2 0.2 2.9 0.3 -7.2 0.3 2.4 0.2 -0.9 0.3 0.8 0.3 2.2 0.2 -1.8 0.3 2.2 0.3 -6.8 0.2 -0.9 0.3 2.9 0.3 -0.6 0.2 -13.2 0.3 14.5 0.3 -6.6 0.2 -0.4 0.3 3 0.3 13.3 0.2 -8.7 0.3 3.1 0.3 4.6 0.2 -1.4 0.3 3.9 0.3 -4.2 0.2 4.6 0.3 -6.5 0.3 -2.3 0.2 3.2 0.3 2.4 0.3 1.1 0.2 0.5 0.3 1.3 0.3 -6.6 0.2 2.6 0.3 0.3 0.3 3.4 0.2 4.2 0.3 -1.7 0.3 3 0.3 2.8 0.2 2.1 0.3 -4.1 0.3 2.6 0.2 -4.4 0.3 3.3 0.3 -4.2 0.2 6.9 0.3 -0.7 0.3 7.2 0.2 2.3 0.3 1.1 0.3 -2.6 0.2 0.7 0.3 0.8 0.3 3.4 0.2 -3.6 0.3 3.8 0.3 -0.2 0.2 0.1 0.3 -0.2 0.3 6.7 0.2 -4.9 0.3 0.3 0.3 -0.8 0.2 11.9 0.3 -0.2 0.3 6 0.2 -1.2 0.3 1.1 0.3 -3.5 0.2 4.1 0.3 -8.5 0.3 9.7 0.2 -1.3 0.3 -2.7 0.3 5.3 0.2 4.5 0.3 0.6 0.3 1.6 0.2 -0.5 0.3 1.2 0.3 1.4 0.2 -2.5 0.3 -3 0.3 -0.7 0.2 1.5 0.3 2.5 0.3 5.5 0.2 0.2 0.3 7.3 0.3 5.1 0.3 2.7 0.2 -5.3 0.3 0.9 0.3 0.2 0.2 4.4 0.3 1.4 0.3 -4 0.2 -0.4 0.3 -1.2 0.3 1.9 0.2 1.3 0.3 -0.3 0.3 4.1 0.2 -1.7 0.3 -5.2 0.3 2 0.2 6.9 0.3 -2.1 0.3 0.6 0.2 1.5 0.3 -0.6 0.3 -0.8 0.2 3 0.3 -0.9 0.3 0.7 0.2 2 0.3 -3.7 0.3 4.2 0.2 -0.1 0.3 -4.1 0.3 1.1 0.2 1.7 0.3 7.4 0.3 -6.3 0.2 2.5 0.3 -0.8 0.3 3.3 0.2 -2.9 0.3 -3.4 0.3 0.5 0.2 -0.4 0.3 -2 0.3 1 0.2 2.3 0.3 0.7 0.3 1 0.2 1.1 0.3 -0.5 0.3 -0.7 0.3 -0.1 0.2 5.6 0.3 -0.8 0.3 0.9 0.2 -1.5 0.3 -2.7 0.3 1.9 0.2 -0 0.3 1.1 0.3 -2.3 0.2 1.4 0.3 3.9 0.3 -0.6 0.2 -1.3 0.3 1.6 0.3 1.7 0.2 -5.7 0.3 0.7 0.3 2.9 0.2 -3.1 0.3 2.6 0.3 0.8 0.2 -1.4 0.3 -2.8 0.3 0.7 0.2 0.4 0.3 -1.9 0.3 -1.2 0.2 -1.5 0.3 0.5 0.3 -0.6 0.2 3.8 0.3 -1.6 0.3 2.6 0.2 -5.4 0.3 1.7 0.3 0.9 0.2 3.1 0.3 -0.6 0.3 1.8 0.2 4 0.3 -0 0.3 -4.5 0.2 1.5 0.3 1.3 0.3 -2.9 0.2 -0.6 0.3 5.3 0.3 -2.3 0.2 -2.8 0.3 0.4 0.3 -3.1 0.3 0.1 0.2 4.3 0.3 -2.3 0.3 0.4 0.2 -0 0.3 0.1 0.3 1.5 0.2 -0.5 0.3 -1 0.3 1.2 0.2 0.1 0.3 0.7 0.3 -6.8 0.2 5.7 0.3 -2.5 0.3 3.2 0.2 1.3 0.3 -2.9 0.3 1.8 0.2 -1.8 0.3 6.1 0.3 -4.3 0.2 5 0.3 -4.2 0.3 3.4 0.2 -6.9 0.3 -2.7 0.3 1.7 0.2 3.3 0.3 -3.8 0.3 -1.1 0.2 1.5 0.3 -0.6 0.3 1 0.2 2.5 0.3 1.1 0.3 0.9 0.2 -3.1 0.3 -1.6 0.3 2.4 0.2 -0.8 0.3 -0.7 0.3 6.8 0.2 1.3 0.3 -2.1 0.3 -1.3 0.2 -5.6 0.3 3.8 0.3 -1.9 0.3 4.2 0.2 -3.7 0.3 1.1 0.3 -1.1 0.2 -4.5 0.3 1.6 0.3 2.1 0.2 -1.1 0.3 4.5 0.3 -5 0.2 -2.4 0.3 0.4 0.3 1.7 0.2 0.1 0.3 3.7 0.3 1.9 0.2 -2.8 0.3 -1.9 0.3 2 0.2 -3.4 0.3 0.2 0.3 0.9 0.2 -3.8 0.3 1.5 0.3 2.2 0.2 -0.4 0.3 3.4 0.3 1.3 0.2 -1.2 0.3 2.1 0.3 -6.9 0.2 1 0.3 5 0.3 -3.4 0.2 1.5 0.3 0.1 0.3 1.6 0.2 -1.3 0.3 -0 0.3 -1.9 0.2 -2.9 0.3 1.8 0.3 -2.7 0.2 1.5 0.3 -1.5 0.3 -0.3 0.2 -3.6 0.3 1.3 0.3 0.1 0.2 0.8 0.3 4.3 0.3 2.8 0.3 0.5 0.2 -0.2 0.3 -4.5 0.3 0.1 0.2 3 0.3 -0.9 0.3 0.6 0.2 4.2 0.3 -4.4 0.3 -6.4 0.2 3.2 0.3 0.6 0.3 2 0.2 -3.6 0.3 3.9 0.3 -4.9 0.2 2.2 0.3 -0.5 0.3 3 0.2 -4.2 0.3 2.7 0.3 2.1 0.2 -0 0.3 -1.5 0.3 1.9 0.2 -1 0.3 2.1 0.3 -4.1 0.2 0.2 0.3 -4 0.3 3.2 0.2 -0.6 0.3 0.2 0.3 -1 0.2 -0.8 0.3 0.7 0.3 -0.1 0.2 -0 0.3 -2.7 0.3 -1.5 0.2 -1.1 0.3 -1 0.3 2.4 0.2 4.8 0.3 -0.7 0.3 5.2 0.2 -2.3 0.3 1.7 0.3 -1.4 0.2 -1.3 0.3 -5.6 0.3 -0 0.3 -0.1 0.2 -5.5 0.3 1.9 0.3 -1.7 0.2 4.6 0.3 2.9 0.3 -1.6 0.2 -0 0.3 1.6 0.3 3.2 0.2 -7.4 0.3 3 0.3 2.9 0.2 -2.1 0.3 4.4 0.3 -1.2 0.2 -1.4 0.3 -3.5 0.3 1.6 0.2 -3.5 0.3 3.7 0.3 1.8 0.2 -3.3 0.3 6.1 0.3 -3.6 0.2 4.6 0.3 -4.8 0.3 1.5 0.2 -4.5 0.3 -0.5 0.3 1.7 0.2 2.5 0.3 2.3 0.3 -2.8 0.2 -5.6 0.3 2.8 0.3 2.1 0.2 -5.5 0.3 3.8 0.3 1 0.2 2.2 0.3 0.3 0.3 2.1 0.2 -0 0.3 3.3 0.3 -2.5 0.2 -2 0.3 -4.1 0.3 4.4 0.3 -3.4 0.2 4.2 0.3 -2.3 0.3 -3.9 0.2 1.7 0.3 0.7 0.3 1.2 0.2 1.3 0.3 -0 0.3 3 0.2 1.9 0.3 -0.1 0.3 -0.8 0.2 -2.6 0.3 -0.6 0.3 4.8 0.2 -3.1 0.3 3.9 0.3 -3.4 0.2 -1.3 0.3 -0.7 0.3 -0.2 0.2 -1.1 0.3 1.5 0.3 6.1 0.2 -2.5 0.3 1.9 0.3 0.2 0.2 -0.9 0.3 -0.2 0.3 1.8 0.2 -2.8 0.3 0.3 0.3 0.8 0.2 -6.1 0.3 2.2 0.3 2.6 0.2 -0.5 0.3 6.4 0.3 -0.7 0.2 -0.3 0.3 -4.3 0.3 2.2 0.2 -2.1 0.3 0.3 0.3 -3.3 0.2 4.1 0.3 -0.8 0.3 2 0.2 -0.8 0.3 0.8 0.3 -1.1 0.3 -1.4 0.2 -2.6 0.3 1.1 0.3 -0.7 0.2 0.5 0.3 -3.2 0.3 5.2 0.2 1.9 0.3 -1.4 0.3 1.8 0.2 2.4 0.3 1.4 0.3 -5.6 0.2 -0.1 0.3 4.6 0.3 -1.8 0.2 -3.9 0.3 2.3 0.3 1.8 0.2 -6.2 0.3 5.7 0.3 1.2 0.2 -3.8 0.3 1.1" stroke="#4bacc6" stroke-width="5.3" stroke-linecap="round" stroke-dasharray="7.2 10.7"/>
</g>
<text transform="translate(77.47 671.02) scale(1.130 1)" font-size="21.50" font-weight="bold">0</text>
<text transform="translate(63.87 579.19) scale(1.130 1)" font-size="21.50" font-weight="bold">50</text>
<text transform="translate(50.26 487.36) scale(1.130 1)" font-size="21.50" font-weight="bold">100</text>
<text transform="translate(50.26 395.53) scale(1.130 1)" font-size="21.50" font-weight="bold">150</text>
<text transform="translate(50.26 303.70) scale(1.130 1)" font-size="21.50" font-weight="bold">200</text>
<text transform="translate(50.26 211.87) scale(1.130 1)" font-size="21.50" font-weight="bold">250</text>
<text transform="translate(50.26 120.05) scale(1.130 1)" font-size="21.50" font-weight="bold">300</text>
<text transform="translate(50.26 28.22) scale(1.130 1)" font-size="21.50" font-weight="bold">350</text>
<text transform="translate(92.56 701.67) scale(1.130 1)" font-size="21.50" font-weight="bold">400</text>
<text transform="translate(226.10 701.67) scale(1.130 1)" font-size="21.50" font-weight="bold">800</text>
<text transform="translate(352.71 701.67) scale(1.130 1)" font-size="21.50" font-weight="bold">1200</text>
<text transform="translate(486.37 701.67) scale(1.130 1)" font-size="21.50" font-weight="bold">1600</text>
<text transform="translate(620.40 701.67) scale(1.130 1)" font-size="21.50" font-weight="bold">2000</text>
<text transform="translate(754.06 701.67) scale(1.130 1)" font-size="21.50" font-weight="bold">2400</text>
<text transform="translate(887.72 701.67) scale(1.130 1)" font-size="21.50" font-weight="bold">2800</text>
<text transform="translate(407.96 727.2) scale(1.200 1)" font-size="25.07" font-weight="bold">Wavenumber (cm<tspan dy="-8.6" font-size="14.79">-1</tspan><tspan dy="8.6" dx="0.8">)</tspan></text>
<text transform="translate(37.41 474.40) rotate(-90) scale(1.113 0.965)" font-size="24.80" font-weight="bold">Intensity (arb. units)</text>
<text transform="translate(405.28 44.52) scale(1.177 1)" font-size="18.03" font-weight="bold">1336</text>
<text transform="translate(489.46 153.52) scale(1.210 1)" font-size="17.89" font-weight="bold">1580</text>
<text transform="translate(848.12 464.92) scale(1.193 1)" font-size="17.89" font-weight="bold">2650</text>
<rect x="142.2" y="38.2" width="195.3" height="131.1" fill="#fff" stroke="#000" stroke-width="3"/>
<line x1="162.5" y1="50.9" x2="200" y2="50.9" stroke="#4a7ebb" stroke-width="4.2" stroke-linecap="round"/>
<line x1="162.3" y1="77.4" x2="200" y2="77.4" stroke="#c0504d" stroke-width="4.4" stroke-linecap="round" stroke-dasharray="0.1 9.07"/>
<path d="M163 103.0H185M198 103.0H200" stroke="#9bbb59" stroke-width="3.2" stroke-linecap="round"/>
<path d="M163 130.1H172.5M185.5 130.1H195" stroke="#8064a2" stroke-width="3.2" stroke-linecap="round"/>
<path d="M163 155.7H170.5M181 155.7H188.5M199 155.7H199.5" stroke="#4bacc6" stroke-width="5" stroke-linecap="round"/>
<text transform="translate(209.73 55.35) scale(1.048 1)" font-size="15.29" font-weight="bold">5%</text>
<text transform="translate(243.94 55.35) scale(1.070 1)" font-size="15.07" font-weight="bold">APTES</text>
<text transform="translate(205.24 81.55) scale(1.116 1)" font-size="14.79" font-weight="bold">10%</text>
<text transform="translate(249.04 81.55) scale(1.082 1)" font-size="14.79" font-weight="bold">APTES</text>
<text transform="translate(209.84 107.35) scale(1.120 1)" font-size="14.79" font-weight="bold">20%</text>
<text transform="translate(253.94 107.35) scale(1.088 1)" font-size="14.79" font-weight="bold">APTES</text>
<text transform="translate(204.73 133.65) scale(1.123 1)" font-size="14.93" font-weight="bold">50%</text>
<text transform="translate(248.84 133.65) scale(1.076 1)" font-size="14.93" font-weight="bold">APTES</text>
<text transform="translate(210.13 160.15) scale(1.118 1)" font-size="14.93" font-weight="bold">100%</text>
<text transform="translate(264.04 160.15) scale(1.076 1)" font-size="14.93" font-weight="bold">APTES</text>
<rect x="548.3" y="24.5" width="427.7" height="282.5" fill="#fff" stroke="#a0a0a0" stroke-width="1.2"/>
<rect x="592.6" y="39.8" width="355.2" height="231.0" fill="none" stroke="#8c8c8c" stroke-width="1.2"/>
<path d="M592.6 265.67h3.8M592.6 260.53h3.8M592.6 255.40h3.8M592.6 250.27h3.8M592.6 245.13h5.0M592.6 240.00h3.8M592.6 234.87h3.8M592.6 229.73h3.8M592.6 224.60h3.8M592.6 219.47h5.0M592.6 214.33h3.8M592.6 209.20h3.8M592.6 204.07h3.8M592.6 198.93h3.8M592.6 193.80h5.0M592.6 188.67h3.8M592.6 183.53h3.8M592.6 178.40h3.8M592.6 173.27h3.8M592.6 168.13h5.0M592.6 163.00h3.8M592.6 157.87h3.8M592.6 152.73h3.8M592.6 147.60h3.8M592.6 142.47h5.0M592.6 137.33h3.8M592.6 132.20h3.8M592.6 127.07h3.8M592.6 121.93h3.8M592.6 116.80h5.0M592.6 111.67h3.8M592.6 106.53h3.8M592.6 101.40h3.8M592.6 96.27h3.8M592.6 91.13h5.0M592.6 86.00h3.8M592.6 80.87h3.8M592.6 75.73h3.8M592.6 70.60h3.8M592.6 65.47h5.0M592.6 60.33h3.8M592.6 55.20h3.8M592.6 50.07h3.8M592.6 44.93h3.8M603.53 270.8v-3.0M614.46 270.8v-3.0M625.39 270.8v-3.0M636.32 270.8v-3.0M647.25 270.8v-4.0M658.18 270.8v-3.0M669.10 270.8v-3.0M680.03 270.8v-3.0M690.96 270.8v-3.0M701.89 270.8v-4.0M712.82 270.8v-3.0M723.75 270.8v-3.0M734.68 270.8v-3.0M745.61 270.8v-3.0M756.54 270.8v-4.0M767.47 270.8v-3.0M778.40 270.8v-3.0M789.33 270.8v-3.0M800.26 270.8v-3.0M811.18 270.8v-4.0M822.11 270.8v-3.0M833.04 270.8v-3.0M843.97 270.8v-3.0M854.90 270.8v-3.0M865.83 270.8v-4.0M876.76 270.8v-3.0M887.69 270.8v-3.0M898.62 270.8v-3.0M909.55 270.8v-3.0M920.48 270.8v-4.0M931.41 270.8v-3.0M942.34 270.8v-3.0" stroke="#555" stroke-width="1" fill="none"/>
<text transform="translate(572.65 274.19) scale(1.090 1)" font-size="13.00" font-weight="bold">0</text>
<text transform="translate(564.71 248.52) scale(1.090 1)" font-size="13.00" font-weight="bold">50</text>
<text transform="translate(556.78 222.85) scale(1.090 1)" font-size="13.00" font-weight="bold">100</text>
<text transform="translate(556.78 197.19) scale(1.090 1)" font-size="13.00" font-weight="bold">150</text>
<text transform="translate(556.78 171.52) scale(1.090 1)" font-size="13.00" font-weight="bold">200</text>
<text transform="translate(556.78 145.85) scale(1.090 1)" font-size="13.00" font-weight="bold">250</text>
<text transform="translate(556.78 120.19) scale(1.090 1)" font-size="13.00" font-weight="bold">300</text>
<text transform="translate(556.78 94.52) scale(1.090 1)" font-size="13.00" font-weight="bold">350</text>
<text transform="translate(556.78 68.85) scale(1.090 1)" font-size="13.00" font-weight="bold">400</text>
<text transform="translate(556.78 43.19) scale(1.090 1)" font-size="13.00" font-weight="bold">450</text>
<text transform="translate(580.91 294.79) scale(1.090 1)" font-size="13.00" font-weight="bold">400</text>
<text transform="translate(635.49 294.79) scale(1.090 1)" font-size="13.00" font-weight="bold">800</text>
<text transform="translate(686.02 294.79) scale(1.090 1)" font-size="13.00" font-weight="bold">1200</text>
<text transform="translate(740.67 294.79) scale(1.090 1)" font-size="13.00" font-weight="bold">1600</text>
<text transform="translate(795.53 294.79) scale(1.090 1)" font-size="13.00" font-weight="bold">2000</text>
<text transform="translate(850.17 294.79) scale(1.090 1)" font-size="13.00" font-weight="bold">2400</text>
<text transform="translate(904.82 294.79) scale(1.090 1)" font-size="13.00" font-weight="bold">2800</text>
<text transform="translate(796.16 84.90) scale(0.975 1)" font-size="15.10" font-weight="bold">Raman Spectra</text>
<text transform="translate(796.50 105.60) scale(0.975 1)" font-size="15.10" font-weight="bold">of CNT powder</text>
<path d="M606.3 265.6 l 0.2 -2 0.3 0.2 0.3 2.6 0.3 -0.3 0.2 0.3 0.3 -1.7 0.3 0.9 0.2 -1.2 0.3 4 0.3 -5.3 0.3 2.6 0.2 -1.3 0.3 1.3 0.3 0.3 0.3 -1.3 0.2 -0.5 0.3 1.5 0.3 -0.1 0.3 -1.3 0.2 2.4 0.3 1 0.3 -3 0.2 1.7 0.3 1.9 0.3 -1.7 0.3 -0.6 0.2 1.1 0.3 0.5 0.3 -2.4 0.3 -1.3 0.2 1.7 0.3 0.8 0.3 -1.8 0.3 -0.5 0.2 1.6 0.3 -1.3 0.3 -0.8 0.2 1.9 0.3 0.9 0.3 -1.8 0.3 0.2 0.2 -1.3 0.3 3.6 0.3 -0.9 0.3 0.3 0.2 1.3 0.3 -2.8 0.3 -0.7 0.2 2 0.3 -3.3 0.3 0.9 0.3 0.3 0.2 0.3 0.3 -0.8 0.3 3.5 0.3 -3 0.2 0 0.3 3.7 0.3 -3.3 0.3 1 0.2 -1.6 0.3 1.9 0.3 -0.7 0.2 -0.5 0.3 1.8 0.3 -2.2 0.3 1.1 0.2 -1 0.3 1.6 0.3 -2.5 0.3 0.8 0.2 1.2 0.3 -1.2 0.3 -1 0.3 -0.8 0.2 5.2 0.3 -3.8 0.3 0.6 0.2 0.9 0.3 1.4 0.3 -3.5 0.3 3.9 0.2 -2.8 0.3 -1.1 0.3 4.5 0.3 -2 0.2 1.5 0.3 -2.4 0.3 -1.9 0.3 -0.8 0.2 5.9 0.3 -1.9 0.3 -1.9 0.2 -1.4 0.3 1.8 0.3 1.8 0.3 -1.6 0.2 0.5 0.3 0.3 0.3 0.8 0.3 -1.7 0.2 0.2 0.3 0.6 0.3 0.2 0.3 1.6 0.2 -1.2 0.3 -2.6 0.3 2.2 0.2 1.9 0.3 -4.3 0.3 1.3 0.3 -2.4 0.2 3.1 0.3 0.8 0.3 1.5 0.3 -4.2 0.2 -1.9 0.3 5.2 0.3 -0.3 0.2 -1.9 0.3 2.2 0.3 -0.8 0.3 0.1 0.2 -0.8 0.3 -1.4 0.3 1.7 0.3 -1.4 0.2 2 0.3 -1.1 0.3 3.8 0.3 -1.1 0.2 -3.4 0.3 2.1 0.3 -1.8 0.2 0.1 0.3 -1.2 0.3 0.8 0.3 -0.3 0.2 1.7 0.3 0.9 0.3 0.1 0.3 -0.4 0.2 1 0.3 -0.9 0.3 -0.7 0.3 -0.5 0.2 0.9 0.3 2.4 0.3 -2.8 0.2 -0.5 0.3 -1.3 0.3 0.8 0.3 1.8 0.2 0.2 0.3 -4.2 0.3 1.9 0.3 -1.6 0.2 -0.5 0.3 4.5 0.3 -1.8 0.3 -0.2 0.2 -0.1 0.3 0 0.3 0.5 0.2 0.1 0.3 2.5 0.3 -2 0.3 0.9 0.2 -1.4 0.3 0.9 0.3 -1.6 0.3 -0.4 0.2 0.8 0.3 0 0.3 0.3 0.3 0.8 0.2 -0.4 0.3 0.5 0.3 -1.4 0.2 0.6 0.3 -0.9 0.3 2.9 0.3 -3.4 0.2 2.6 0.3 -0.1 0.3 -0.8 0.3 0.5 0.2 -1.3 0.3 1.3 0.3 0.8 0.2 -0.4 0.3 -3.3 0.3 1.9 0.3 1.9 0.2 -1.9 0.3 2.4 0.3 -5.1 0.3 5.1 0.2 -3.1 0.3 -0.1 0.3 3 0.3 -2.7 0.2 -1.1 0.3 0.8 0.3 0.3 0.2 -1.1 0.3 1.2 0.3 -0.3 0.3 0.7 0.2 -1.1 0.3 2.4 0.3 -2.7 0.3 1.9 0.2 0.9 0.3 -2.2 0.3 -2.1 0.3 1.1 0.2 2.3 0.3 -1.9 0.3 1.7 0.2 -0.5 0.3 -0.4 0.3 3.7 0.3 -3.9 0.2 1.9 0.3 -0.5 0.3 1.1 0.3 0.1 0.2 -0.9 0.3 -2.8 0.3 -1.3 0.3 2.6 0.2 -1.8 0.3 2.1 0.3 2.5 0.2 -3.2 0.3 -0.5 0.3 1.4 0.3 -1.2 0.2 -0.5 0.3 2.2 0.3 1 0.3 -2 0.2 -0.1 0.3 0.2 0.3 -2.1 0.2 -1.2 0.3 3.3 0.3 -1.7 0.3 -0.4 0.2 0.3 0.3 -0.6 0.3 2.2 0.3 -1.8 0.2 -2 0.3 1.8 0.3 2.2 0.3 -2 0.2 -1.1 0.3 1.3 0.3 1.4 0.2 -3.4 0.3 4.3 0.3 -2.8 0.3 0.7 0.2 1.7 0.3 -3.9 0.3 1.3 0.3 2.3 0.2 -2.9 0.3 1.5 0.3 2.2 0.3 -2.1 0.2 -1.6 0.3 -0.7 0.3 0.6 0.2 0 0.3 -0.8 0.3 0.9 0.3 -2.3 0.2 1.5 0.3 -0.4 0.3 -0.6 0.3 2.4 0.2 -0.7 0.3 -3.8 0.3 1.7 0.3 0.8 0.2 -1.2 0.3 1.2 0.3 -1.4 0.2 1.3 0.3 -1.8 0.3 2.7 0.3 -5 0.2 2.7 0.3 1.4 0.3 -2.5 0.3 -0.2 0.2 -1.2 0.3 1.8 0.3 -3 0.3 -5.8 0.2 7.8 0.3 -3.1 0.3 0.7 0.2 -1.2 0.3 3 0.3 -1.5 0.3 -3 0.2 0.5 0.3 -3.1 0.3 3.7 0.3 -1.7 0.2 -4.9 0.3 6.1 0.3 0.1 0.2 -1.7 0.3 -0.1 0.3 -1.7 0.3 1.1 0.2 1.4 0.3 -1.8 0.3 -4.3 0.3 2.2 0.2 6.9 0.3 -4.7 0.3 1.2 0.3 -2.7 0.2 1.2 0.3 -3.7 0.3 1.6 0.2 -0.1 0.3 1.1 0.3 0.3 0.3 -0.8 0.2 -1.8 0.3 1.2 0.3 1.4 0.3 -3 0.2 1.7 0.3 0.3 0.3 1.1 0.3 -0.6 0.2 -0.1 0.3 3.6 0.3 -7 0.2 0.6 0.3 1.1 0.3 -2.5 0.3 0.8 0.2 -0.2 0.3 4.8 0.3 -4.3 0.3 -1.7 0.2 -2.2 0.3 -0.8 0.3 0.4 0.3 4.2 0.2 1.4 0.3 -5.3 0.3 0.5 0.2 -2.1 0.3 1.4 0.3 -1.1 0.3 2.6 0.2 -4.1 0.3 1.1 0.3 -2.1 0.3 -0.8 0.2 0.4 0.3 -1.6 0.3 -0.2 0.2 -2.3 0.3 -0.5 0.3 0.9 0.3 -1.1 0.2 -5.5 0.3 2.2 0.3 -3.5 0.3 -0.3 0.2 0.4 0.3 -1.2 0.3 -3.4 0.3 -1.9 0.2 -2.5 0.3 1.8 0.3 -3.4 0.2 -3.2 0.3 -5.8 0.3 5.5 0.3 -8.5 0.2 -1 0.3 -5.3 0.3 -1.8 0.3 -6 0.2 -7.6 0.3 -3.1 0.3 -6.5 0.3 -6.7 0.2 -4.7 0.3 -10.2 0.3 -5.6 0.2 -6.8 0.3 -10.7 0.3 -8.9 0.3 -11.7 0.2 -6.9 0.3 -6.4 0.3 -10.6 0.3 -3.4 0.2 -5 0.3 -1.7 0.3 -0.1 0.3 0.7 0.2 0.9 0.3 -0.6 0.3 5.4 0.2 7.9 0.3 0.6 0.3 10 0.3 6 0.2 14.9 0.3 12 0.3 7.8 0.3 10 0.2 12.1 0.3 3 0.3 4.8 0.3 15.1 0.2 -0.6 0.3 10.7 0.3 4.1 0.2 3.5 0.3 6.3 0.3 -2.2 0.3 4.7 0.2 5.1 0.3 1.2 0.3 4.3 0.3 -0.8 0.2 -1.1 0.3 6.5 0.3 -1.4 0.2 -0 0.3 -0.8 0.3 0.3 0.3 4.2 0.2 1.2 0.3 -1.7 0.3 2.1 0.3 0.4 0.2 -2.2 0.3 -0.7 0.3 3.1 0.3 1.3 0.2 -1 0.3 4.9 0.3 -3.1 0.2 2.2 0.3 -6.1 0.3 3.4 0.3 1.4 0.2 0.9 0.3 4.5 0.3 -5.7 0.3 -1.5 0.2 4.6 0.3 -2.4 0.3 0.1 0.3 4.4 0.2 -4.4 0.3 -0.6 0.3 2.3 0.2 0.8 0.3 -1.4 0.3 4.5 0.3 -2.9 0.2 -1.6 0.3 4.3 0.3 -4 0.3 2.7 0.2 3.1 0.3 -3.6 0.3 1.6 0.3 -2.4 0.2 2.7 0.3 -4.1 0.3 3.2 0.2 -2 0.3 1.7 0.3 -0.6 0.3 -2.9 0.2 1.8 0.3 1 0.3 1.5 0.3 -4.6 0.2 0.7 0.3 1.9 0.3 -1.2 0.3 2.2 0.2 -0.2 0.3 -0.6 0.3 -2.5 0.2 -0.2 0.3 1.5 0.3 -3.2 0.3 -0.7 0.2 0.6 0.3 -2.2 0.3 1.8 0.3 -1 0.2 -1.9 0.3 0.1 0.3 -2.4 0.2 2.8 0.3 -6.6 0.3 2.6 0.3 -3.3 0.2 0.1 0.3 -6.4 0.3 -4.2 0.3 -2.6 0.2 -2.6 0.3 1.6 0.3 -5.4 0.3 -5.1 0.2 -3.9 0.3 -9.6 0.3 -3.3 0.2 -4.7 0.3 -5.9 0.3 -1 0.3 -4.3 0.2 -4.3 0.3 -7.1 0.3 -3.2 0.3 -3.1 0.2 -2.6 0.3 4.9 0.3 -2.4 0.3 -1.9 0.2 3.6 0.3 -0.9 0.3 -1.8 0.2 2 0.3 2.3 0.3 4.3 0.3 2.1 0.2 -1.9 0.3 4.1 0.3 -0.8 0.3 -1.5 0.2 4.5 0.3 1.5 0.3 -0.3 0.3 -0 0.2 2 0.3 3 0.3 1.7 0.2 7.4 0.3 1.3 0.3 0.7 0.3 5.2 0.2 3.7 0.3 2.5 0.3 2.2 0.3 1.3 0.2 4.7 0.3 0.4 0.3 -0 0.2 6.9 0.3 0.2 0.3 5.4 0.3 6.2 0.2 1.8 0.3 4.8 0.3 -0.2 0.3 6.6 0.2 -2 0.3 4 0.3 7.3 0.3 -2.9 0.2 0.8 0.3 6.2 0.3 -1.4 0.2 6.5 0.3 -2.4 0.3 4.7 0.3 -2.6 0.2 5.1 0.3 2.5 0.3 -4.3 0.3 -2.4 0.2 5.6 0.3 -1.9 0.3 1.6 0.3 0.9 0.2 -1.4 0.3 -1.5 0.3 5 0.2 -2.9 0.3 0.5 0.3 3.1 0.3 -5 0.2 -0.5 0.3 5 0.3 -4.4 0.3 2.9 0.2 0.4 0.3 -2.7 0.3 2.2 0.3 -0 0.2 -2 0.3 0.5 0.3 0.7 0.2 3.9 0.3 0.3 0.3 -4.4 0.3 3.5 0.2 -1.8 0.3 2.1 0.3 -1.4 0.3 1.9 0.2 -4.8 0.3 4.5 0.3 -1.4 0.3 0.1 0.2 -2.2 0.3 4.4 0.3 -2.2 0.2 0.3 0.3 -1.2 0.3 0.2 0.3 1.6 0.2 -1.1 0.3 1.1 0.3 -1.4 0.3 1 0.2 1 0.3 -1 0.3 -0.6 0.2 -3.1 0.3 4.6 0.3 -1.3 0.3 -1.8 0.2 5.8 0.3 -0.5 0.3 -0.8 0.3 -1.8 0.2 -4.1 0.3 3.4 0.3 -1.3 0.3 2.4 0.2 3.7 0.3 -0.2 0.3 -5.4 0.2 1.4 0.3 2.5 0.3 -3.9 0.3 4.4 0.2 -4.3 0.3 -0.5 0.3 3.7 0.3 0.6 0.2 -3.1 0.3 3.2 0.3 -3.2 0.3 3.4 0.2 -3.2 0.3 1.2 0.3 1 0.2 0.8 0.3 -1.8 0.3 3.5 0.3 -2.6 0.2 0.3 0.3 -1.7 0.3 3.2 0.3 -4.8 0.2 3.4 0.3 1.4 0.3 -4.1 0.3 -0.4 0.2 3.1 0.3 1.2 0.3 -1.4 0.2 1.2 0.3 -0.6 0.3 -3 0.3 2 0.2 0.4 0.3 -0.3 0.3 0.7 0.3 -1.4 0.2 0 0.3 2.1 0.3 -0.7 0.2 -3.7 0.3 3.3 0.3 1 0.3 -3.6 0.2 3.4 0.3 1.8 0.3 -2.8 0.3 2.5 0.2 -0.6 0.3 -1.2 0.3 0.7 0.3 1.1 0.2 -0.3 0.3 0.1 0.3 -2.8 0.2 3.1 0.3 -0.2 0.3 -4.2 0.3 4.2 0.2 -3.2 0.3 0.3 0.3 2.4 0.3 2 0.2 -2.9 0.3 -0.3 0.3 -0.5 0.3 1.5 0.2 -1.8 0.3 -0.2 0.3 3.9 0.2 -3.9 0.3 2 0.3 1.2 0.3 -0.4 0.2 -3.4 0.3 1.4 0.3 4.5 0.3 -3 0.2 0.4 0.3 0.1 0.3 0.6 0.3 1.5 0.2 -3.7 0.3 2.9 0.3 -0.8 0.2 0.4 0.3 0.2 0.3 -2.3 0.3 0.6 0.2 1.7 0.3 0.4 0.3 -0.7 0.3 -2.2 0.2 1.3 0.3 -0.1 0.3 0.9 0.3 -0.1 0.2 -0.7 0.3 3.3 0.3 -5.5 0.2 3.9 0.3 -0.3 0.3 -3 0.3 1.8 0.2 0.3 0.3 1 0.3 1.6 0.3 -2.8 0.2 -1.5 0.3 3.3 0.3 -3.5 0.2 3.9 0.3 -0.6 0.3 -1.9 0.3 0.8 0.2 -1 0.3 2.3 0.3 0.5 0.3 1.3 0.2 -1 0.3 -0.2 0.3 0.6 0.3 -2.7 0.2 1.6 0.3 2.1 0.3 -7 0.2 5.2 0.3 0.7 0.3 -3.9 0.3 0.1 0.2 3.7 0.3 0.5 0.3 -0.7 0.3 -3.3 0.2 2.3 0.3 0.8 0.3 -1.2 0.3 -1.9 0.2 4.1 0.3 -1.6 0.3 1.6 0.2 -5.5 0.3 0.6 0.3 1.3 0.3 1.8 0.2 -1.3 0.3 4.4 0.3 -3.7 0.3 2.5 0.2 -0 0.3 -0.9 0.3 -0.5 0.3 -1.5 0.2 -0.1 0.3 0.7 0.3 1.9 0.2 -2.5 0.3 1.2 0.3 -2 0.3 3.3 0.2 2.9 0.3 -3.6 0.3 -4 0.3 2.6 0.2 1 0.3 -1.6 0.3 0.6 0.3 0.1 0.2 1.5 0.3 -0.9 0.3 -0.2 0.2 1.3 0.3 0.8 0.3 -2 0.3 -1.3 0.2 0.6 0.3 0.2 0.3 -0 0.3 -3.2 0.2 3.6 0.3 -1.2 0.3 -1.4 0.2 2.9 0.3 -0.3 0.3 -1.2 0.3 -1 0.2 2.1 0.3 -0 0.3 0.4 0.3 2 0.2 -3.6 0.3 2.1 0.3 2.3 0.3 -2.5 0.2 2.5 0.3 -1.1 0.3 -1.6 0.2 1.4 0.3 -3.1 0.3 3.9 0.3 -2.7 0.2 -0.4 0.3 -1.5 0.3 0.9 0.3 1 0.2 0.2 0.3 0.2 0.3 -1.8 0.3 2.7 0.2 -1.8 0.3 0.9 0.3 -0.5 0.2 0.8 0.3 -3.8 0.3 4.3 0.3 -1.4 0.2 -0.1 0.3 -0.5 0.3 0.2 0.3 -0 0.2 -0.9 0.3 3.9 0.3 -2.4 0.3 1.9 0.2 -2.3 0.3 2.2 0.3 -0.4 0.2 -1.4 0.3 -2.3 0.3 1.2 0.3 0.4 0.2 -1.7 0.3 3.6 0.3 1.8 0.3 -2.7 0.2 -0.2 0.3 -2.4 0.3 -1.5 0.2 5.5 0.3 -6.1 0.3 1.4 0.3 1.2 0.2 0.7 0.3 -3.3 0.3 3.7 0.3 0.8 0.2 -1 0.3 2.4 0.3 -3 0.3 0.9 0.2 -0.7 0.3 -0.1 0.3 2.2 0.2 -3.8 0.3 3.6 0.3 -3 0.3 3.9 0.2 -3.2 0.3 1.9 0.3 -1.4 0.3 1 0.2 2.4 0.3 -1.7 0.3 -2 0.3 -0.9 0.2 3.3 0.3 1 0.3 -2.1 0.2 -1.1 0.3 0.7 0.3 0.2 0.3 -2.7 0.2 -0.2 0.3 0.3 0.3 2.6 0.3 -1.7 0.2 0.4 0.3 1.9 0.3 -3.7 0.3 1.2 0.2 0.9 0.3 -3.1 0.3 1 0.2 -0.2 0.3 -0.7 0.3 0.8 0.3 3.1 0.2 -1.5 0.3 -2.3 0.3 2.8 0.3 -1.3 0.2 -0.7 0.3 -1.7 0.3 0.2 0.3 0.6 0.2 1.7 0.3 -1.9 0.3 0.6 0.2 1.1 0.3 -2.5 0.3 1.3 0.3 2 0.2 -3.4 0.3 2.5 0.3 -1.5 0.3 3.4 0.2 -2.5 0.3 1.5 0.3 -0 0.2 1.4 0.3 -6.6 0.3 3.7 0.3 -0.7 0.2 -1.5 0.3 2 0.3 -1.1 0.3 3 0.2 -2.6 0.3 0.9 0.3 -1.5 0.3 0.5 0.2 2.4 0.3 0.8 0.3 -1.5 0.2 -2.9 0.3 0.5 0.3 0 0.3 3.8 0.2 1.1 0.3 -3.4 0.3 -0.6 0.3 0.4 0.2 -1.6 0.3 0.8 0.3 1.6 0.3 -0.6 0.2 -1.7 0.3 0 0.3 0.2 0.2 -3.9 0.3 4 0.3 -0.7 0.3 1.8 0.2 -1.1 0.3 -1.5 0.3 -0.2 0.3 1.1 0.2 -1 0.3 0.5 0.3 3.1 0.3 2.2 0.2 -9.3 0.3 2.4 0.3 1.3 0.2 2.7 0.3 -0.8 0.3 -4.5 0.3 6.8 0.2 -4.2 0.3 -2.1 0.3 1.1 0.3 -1.1 0.2 1.4 0.3 -4.4 0.3 5.6 0.2 0.4 0.3 -2.8 0.3 -2.1 0.3 2.3 0.2 -2 0.3 2.4 0.3 0.9 0.3 -4.6 0.2 -0.6 0.3 -0.3 0.3 2.8 0.3 0.6 0.2 -0.6 0.3 -2.4 0.3 -2.3 0.2 -0.8 0.3 2.3 0.3 -3.9 0.3 -0.8 0.2 -1.3 0.3 -1 0.3 -0.9 0.3 -2.6 0.2 -0.3 0.3 -1.2 0.3 0.7 0.3 -2.9 0.2 0 0.3 2.7 0.3 -5.7 0.2 0.4 0.3 -3.1 0.3 1.2 0.3 -1 0.2 -1.3 0.3 -0.3 0.3 0.2 0.3 1.9 0.2 -7.5 0.3 5.9 0.3 -3 0.3 -2.5 0.2 0 0.3 -0.9 0.3 -0.9 0.2 -1.3 0.3 1.5 0.3 -5.2 0.3 7.4 0.2 -2.4 0.3 1.2 0.3 0.5 0.3 -1.4 0.2 -2 0.3 4.4 0.3 0.4 0.3 -2.5 0.2 0.8 0.3 -2.3 0.3 2.2 0.2 2.2 0.3 2 0.3 0.1 0.3 2 0.2 3.6 0.3 -1.2 0.3 1.7 0.3 1.5 0.2 1.7 0.3 -2.6 0.3 3 0.2 0.9 0.3 4 0.3 2.1 0.3 -0.1 0.2 0.3 0.3 2.3 0.3 0.9 0.3 -0.9 0.2 2.3 0.3 3.2 0.3 -0.1 0.3 1.2 0.2 -0.6 0.3 2.9 0.3 -1 0.2 -0.9 0.3 1.7 0.3 2.1 0.3 0 0.2 -0.7 0.3 -0.2 0.3 -0.1 0.3 2 0.2 2.3 0.3 -4.1 0.3 2.2 0.3 0.1 0.2 0.5 0.3 2.5 0.3 -0.9 0.2 -0.7 0.3 -0.9 0.3 1.8 0.3 5.3 0.2 -4.3 0.3 -0.6 0.3 -1.3 0.3 1.2 0.2 -2.5 0.3 1.9 0.3 0.3 0.3 0.9 0.2 3.8 0.3 -3.3 0.3 0.5 0.2 1.9 0.3 -1.5 0.3 0.3 0.3 1.5 0.2 -0.4 0.3 0.3 0.3 -0.7 0.3 1 0.2 -1.5 0.3 3.8 0.3 -2.5 0.3 2.1 0.2 -1.8 0.3 -1.5 0.3 0.7 0.2 0.2 0.3 -0.2 0.3 -2.3 0.3 4.1 0.2 -3.1 0.3 3.7 0.3 -1.6 0.3 -1 0.2 1.6 0.3 -1.6 0.3 -0.8 0.2 2.9 0.3 -1.7 0.3 0.4 0.3 2.4 0.2 -2.6 0.3 0.9 0.3 -3.3 0.3 3.4 0.2 -3.9 0.3 3.4 0.3 -3.8 0.3 2.1 0.2 0.1 0.3 -0.5 0.3 -0.2 0.2 -0.8 0.3 -0.5 0.3 3.1 0.3 1.3 0.2 2.2 0.3 -3.6 0.3 -1.8 0.3 0.5 0.2 0.4 0.3 0.6 0.3 0.4 0.3 -0.6 0.2 -1.1 0.3 3.3 0.3 -3.9 0.2 3.3 0.3 -2 0.3 0.7 0.3 -0.5 0.2 1.1 0.3 0.1 0.3 -1.4 0.3 1.3 0.2 -5.5 0.3 4.4 0.3 0.4 0.3 -0.2 0.2 0.8 0.3 2.1 0.3 -3.4 0.2 -0.9 0.3 2.8 0.3 -2.4 0.3 1.9 0.2 -1.8 0.3 -0.7 0.3 -0.2 0.3 0.1 0.2 1.8 0.3 -2.5 0.3 2 0.2 -1.2 0.3 -0.6 0.3 1.6 0.3 1.5 0.2 -3 0.3 2.7 0.3 -0.4 0.3 0.4 0.2 -3.1 0.3 1.6 0.3 3.2 0.3 -4.6 0.2 -2.1 0.3 0.4 0.3 3.7 0.2 -1 0.3 -0.7 0.3 -0.6 0.3 1.3 0.2 1.8 0.3 -2.9 0.3 0.2 0.3 3 0.2 -1.5 0.3 -1 0.3 0.5 0.3 -0.9 0.2 -0.4 0.3 0.4" stroke="#000" stroke-width="2.2" fill="none" stroke-linejoin="round"/>
</svg></body></html>
